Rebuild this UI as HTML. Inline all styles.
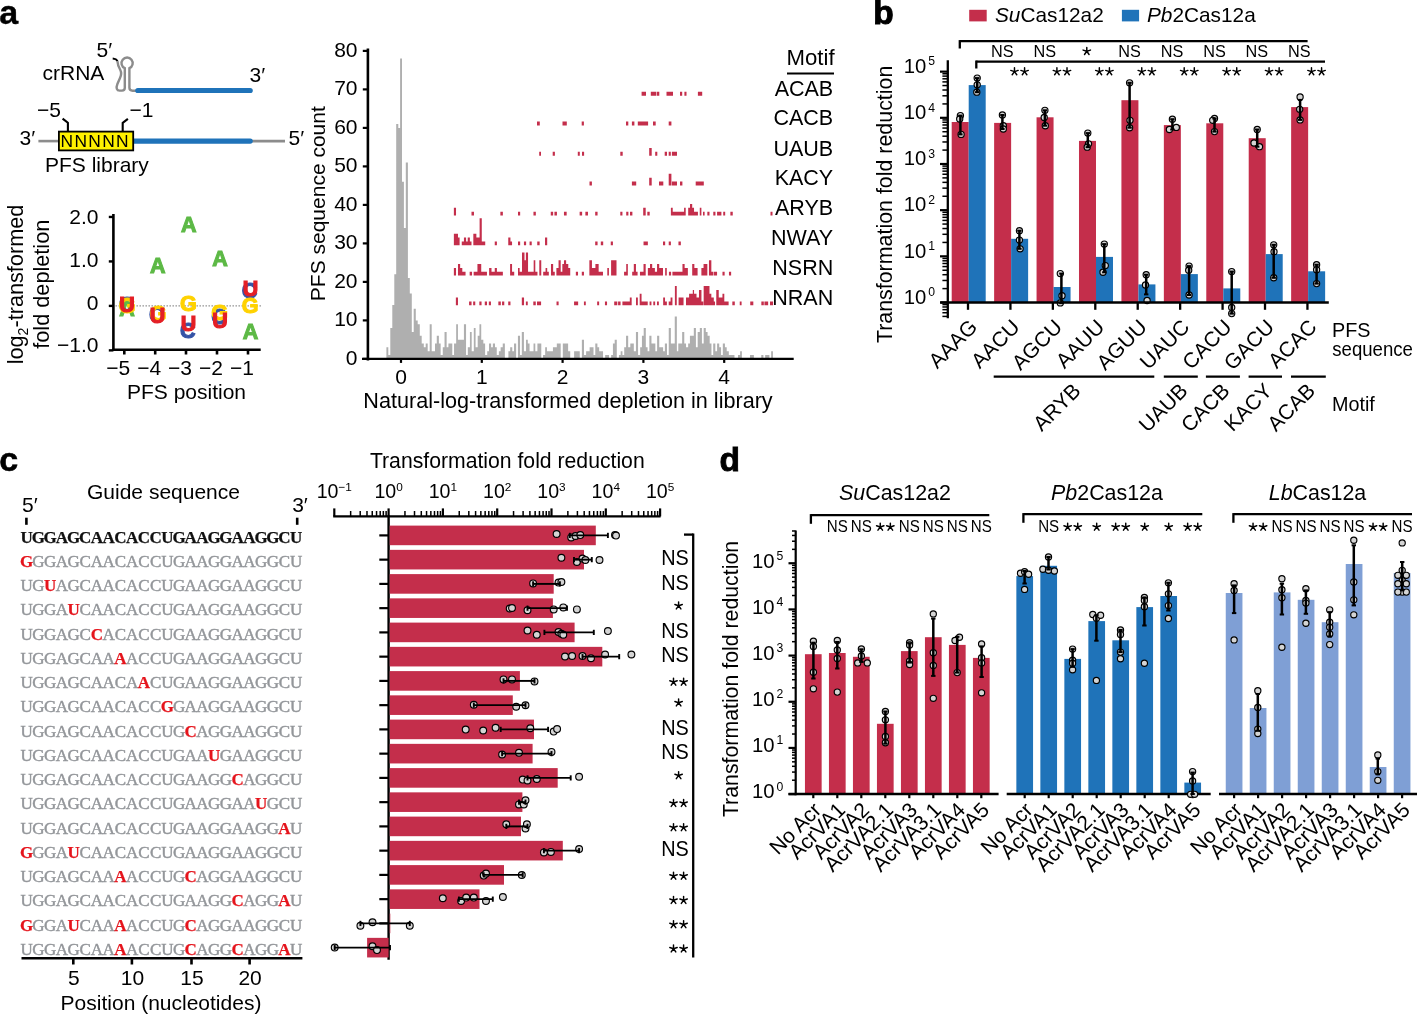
<!DOCTYPE html>
<html><head><meta charset="utf-8"><title>Figure</title>
<style>html,body{margin:0;padding:0;background:#fff;overflow:hidden}svg{display:block;will-change:transform}</style>
</head><body>
<svg width="1417" height="1017" viewBox="0 0 1417 1017">
<rect width="1417" height="1017" fill="#fff"/>
<text x="-0.80" y="24.00" font-size="34" text-anchor="start" font-weight="bold" fill="#000" font-family="Liberation Sans" stroke="#000" stroke-width="0.4">a</text>
<text x="873.20" y="23.70" font-size="33.5" text-anchor="start" font-weight="bold" fill="#000" font-family="Liberation Sans" stroke="#000" stroke-width="0.9">b</text>
<text x="-0.80" y="471.00" font-size="34" text-anchor="start" font-weight="bold" fill="#000" font-family="Liberation Sans" stroke="#000" stroke-width="0.6">c</text>
<text x="719.50" y="471.20" font-size="33.5" text-anchor="start" font-weight="bold" fill="#000" font-family="Liberation Sans" stroke="#000" stroke-width="0.9">d</text>
<text x="96.50" y="56.50" font-size="21" text-anchor="start" font-weight="normal" fill="#000" font-family="Liberation Sans" >5′</text>
<text x="42.50" y="80.20" font-size="21" text-anchor="start" font-weight="normal" fill="#000" font-family="Liberation Sans" >crRNA</text>
<text x="249.50" y="81.80" font-size="21" text-anchor="start" font-weight="normal" fill="#000" font-family="Liberation Sans" >3′</text>
<path d="M112.7,58.6 C115,58.8 116.8,59.6 117.6,60.9" stroke="#000" stroke-width="2" fill="none" />
<path d="M117.4,61 C117.6,64.5 118.8,67.5 120.3,70 C121.6,72.5 121.4,75 120,78 L117.4,84 C115.8,88 116.8,90.6 119.6,90.6 L122,90.6 C123.9,90.6 124.8,89.6 124.8,87.8 L124.8,68.2 A5.6,5.6 0 1 1 129.4,68.2 L129.4,87.8 C129.4,89.6 130.6,90.7 132.6,90.7 L137.8,90.7" stroke="#8c8c8c" stroke-width="2.4" fill="none" />
<line x1="137.80" y1="90.50" x2="250.20" y2="90.50" stroke="#1f73b9" stroke-width="5.2" stroke-linecap="round"/>
<text x="37.00" y="117.40" font-size="21" text-anchor="start" font-weight="normal" fill="#000" font-family="Liberation Sans" >−5</text>
<text x="129.50" y="117.40" font-size="21" text-anchor="start" font-weight="normal" fill="#000" font-family="Liberation Sans" >−1</text>
<path d="M62.6,118.6 L67.9,122.8 L67.9,131" stroke="#000" stroke-width="2.1" fill="none" stroke-linejoin="round"/>
<path d="M127.9,118.9 L122.7,122.8 L122.7,131" stroke="#000" stroke-width="2.1" fill="none" stroke-linejoin="round"/>
<line x1="38.40" y1="141.10" x2="58.30" y2="141.10" stroke="#8c8c8c" stroke-width="2.6" stroke-linecap="butt"/>
<line x1="250.00" y1="141.10" x2="285.00" y2="141.10" stroke="#8c8c8c" stroke-width="2.6" stroke-linecap="butt"/>
<line x1="134.00" y1="141.10" x2="250.20" y2="141.10" stroke="#1f73b9" stroke-width="5.2" stroke-linecap="round"/>
<rect x="58.9" y="131.6" width="74.3" height="18.8" fill="#fff100" stroke="#000" stroke-width="1.8"/>
<text x="60.60" y="147.20" font-size="17.4" text-anchor="start" font-weight="normal" fill="#000" font-family="Liberation Sans" textLength="68.0" lengthAdjust="spacing">NNNNN</text>
<text x="19.50" y="144.50" font-size="21" text-anchor="start" font-weight="normal" fill="#000" font-family="Liberation Sans" >3′</text>
<text x="288.50" y="144.50" font-size="21" text-anchor="start" font-weight="normal" fill="#000" font-family="Liberation Sans" >5′</text>
<text x="45.00" y="171.60" font-size="21" text-anchor="start" font-weight="normal" fill="#000" font-family="Liberation Sans" >PFS library</text>
<line x1="113.40" y1="214.00" x2="113.40" y2="351.00" stroke="#000" stroke-width="2.6" stroke-linecap="butt"/>
<line x1="112.10" y1="349.80" x2="260.70" y2="349.80" stroke="#000" stroke-width="2.6" stroke-linecap="butt"/>
<line x1="108.80" y1="216.96" x2="113.40" y2="216.96" stroke="#000" stroke-width="2.4" stroke-linecap="butt"/>
<text x="98.50" y="224.40" font-size="21" text-anchor="end" font-weight="normal" fill="#000" font-family="Liberation Sans" >2.0</text>
<line x1="108.80" y1="261.43" x2="113.40" y2="261.43" stroke="#000" stroke-width="2.4" stroke-linecap="butt"/>
<text x="98.50" y="266.90" font-size="21" text-anchor="end" font-weight="normal" fill="#000" font-family="Liberation Sans" >1.0</text>
<line x1="108.80" y1="305.90" x2="113.40" y2="305.90" stroke="#000" stroke-width="2.4" stroke-linecap="butt"/>
<text x="98.50" y="309.70" font-size="21" text-anchor="end" font-weight="normal" fill="#000" font-family="Liberation Sans" >0</text>
<line x1="108.80" y1="350.37" x2="113.40" y2="350.37" stroke="#000" stroke-width="2.4" stroke-linecap="butt"/>
<text x="98.50" y="352.10" font-size="21" text-anchor="end" font-weight="normal" fill="#000" font-family="Liberation Sans" >−1.0</text>
<line x1="124.30" y1="349.80" x2="124.30" y2="354.50" stroke="#000" stroke-width="2.6" stroke-linecap="butt"/>
<text x="130.20" y="375.30" font-size="21" text-anchor="end" font-weight="normal" fill="#000" font-family="Liberation Sans" >−5</text>
<line x1="155.20" y1="349.80" x2="155.20" y2="354.50" stroke="#000" stroke-width="2.6" stroke-linecap="butt"/>
<text x="161.10" y="375.30" font-size="21" text-anchor="end" font-weight="normal" fill="#000" font-family="Liberation Sans" >−4</text>
<line x1="186.00" y1="349.80" x2="186.00" y2="354.50" stroke="#000" stroke-width="2.6" stroke-linecap="butt"/>
<text x="191.90" y="375.30" font-size="21" text-anchor="end" font-weight="normal" fill="#000" font-family="Liberation Sans" >−3</text>
<line x1="217.00" y1="349.80" x2="217.00" y2="354.50" stroke="#000" stroke-width="2.6" stroke-linecap="butt"/>
<text x="222.90" y="375.30" font-size="21" text-anchor="end" font-weight="normal" fill="#000" font-family="Liberation Sans" >−2</text>
<line x1="248.00" y1="349.80" x2="248.00" y2="354.50" stroke="#000" stroke-width="2.6" stroke-linecap="butt"/>
<text x="253.90" y="375.30" font-size="21" text-anchor="end" font-weight="normal" fill="#000" font-family="Liberation Sans" >−1</text>
<text x="186.50" y="399.20" font-size="21" text-anchor="middle" font-weight="normal" fill="#000" font-family="Liberation Sans" >PFS position</text>
<text transform="translate(22.6,284.5) rotate(-90)" font-size="21.7" text-anchor="middle" font-family="Liberation Sans">log<tspan font-size="14" dy="5.5">2</tspan><tspan dy="-5.5">-transformed</tspan></text>
<text transform="translate(48.6,284.2) rotate(-90)" font-size="21.7" text-anchor="middle" font-family="Liberation Sans">fold depletion</text>
<line x1="115.5" y1="305.9" x2="261" y2="305.9" stroke="#8a8a8a" stroke-width="1.2" stroke-dasharray="1.4 1.6"/>
<text x="127.00" y="315.50" font-size="21.5" font-weight="bold" text-anchor="middle" fill="#5db946" stroke="#5db946" stroke-width="1.1" font-family="Liberation Sans">A</text>
<text x="126.50" y="311.50" font-size="21.5" font-weight="bold" text-anchor="middle" fill="#3553a6" stroke="#3553a6" stroke-width="1.1" font-family="Liberation Sans">C</text>
<text x="127.00" y="312.50" font-size="21.5" font-weight="bold" text-anchor="middle" fill="#ffd200" stroke="#ffd200" stroke-width="1.1" font-family="Liberation Sans">G</text>
<text x="127.00" y="311.50" font-size="21.5" font-weight="bold" text-anchor="middle" fill="#e41f26" stroke="#e41f26" stroke-width="1.1" font-family="Liberation Sans">U</text>
<text x="157.70" y="273.40" font-size="21.5" font-weight="bold" text-anchor="middle" fill="#5db946" stroke="#5db946" stroke-width="1.1" font-family="Liberation Sans">A</text>
<text x="156.80" y="321.50" font-size="21.5" font-weight="bold" text-anchor="middle" fill="#3553a6" stroke="#3553a6" stroke-width="1.1" font-family="Liberation Sans">C</text>
<text x="158.00" y="321.00" font-size="21.5" font-weight="bold" text-anchor="middle" fill="#ffd200" stroke="#ffd200" stroke-width="1.1" font-family="Liberation Sans">G</text>
<text x="157.60" y="322.90" font-size="21.5" font-weight="bold" text-anchor="middle" fill="#e41f26" stroke="#e41f26" stroke-width="1.1" font-family="Liberation Sans">U</text>
<text x="188.70" y="232.00" font-size="21.5" font-weight="bold" text-anchor="middle" fill="#5db946" stroke="#5db946" stroke-width="1.1" font-family="Liberation Sans">A</text>
<text x="188.40" y="311.40" font-size="21.5" font-weight="bold" text-anchor="middle" fill="#ffd200" stroke="#ffd200" stroke-width="1.1" font-family="Liberation Sans">G</text>
<text x="187.80" y="338.20" font-size="21.5" font-weight="bold" text-anchor="middle" fill="#3553a6" stroke="#3553a6" stroke-width="1.1" font-family="Liberation Sans">C</text>
<text x="188.40" y="330.50" font-size="21.5" font-weight="bold" text-anchor="middle" fill="#e41f26" stroke="#e41f26" stroke-width="1.1" font-family="Liberation Sans">U</text>
<text x="220.00" y="265.70" font-size="21.5" font-weight="bold" text-anchor="middle" fill="#5db946" stroke="#5db946" stroke-width="1.1" font-family="Liberation Sans">A</text>
<text x="218.90" y="324.00" font-size="21.5" font-weight="bold" text-anchor="middle" fill="#3553a6" stroke="#3553a6" stroke-width="1.1" font-family="Liberation Sans">C</text>
<text x="219.60" y="320.20" font-size="21.5" font-weight="bold" text-anchor="middle" fill="#ffd200" stroke="#ffd200" stroke-width="1.1" font-family="Liberation Sans">G</text>
<text x="219.90" y="327.80" font-size="21.5" font-weight="bold" text-anchor="middle" fill="#e41f26" stroke="#e41f26" stroke-width="1.1" font-family="Liberation Sans">U</text>
<text x="249.50" y="298.20" font-size="21.5" font-weight="bold" text-anchor="middle" fill="#3553a6" stroke="#3553a6" stroke-width="1.1" font-family="Liberation Sans">C</text>
<text x="250.60" y="296.00" font-size="21.5" font-weight="bold" text-anchor="middle" fill="#e41f26" stroke="#e41f26" stroke-width="1.1" font-family="Liberation Sans">U</text>
<text x="250.00" y="313.00" font-size="21.5" font-weight="bold" text-anchor="middle" fill="#ffd200" stroke="#ffd200" stroke-width="1.1" font-family="Liberation Sans">G</text>
<text x="250.50" y="338.80" font-size="21.5" font-weight="bold" text-anchor="middle" fill="#5db946" stroke="#5db946" stroke-width="1.1" font-family="Liberation Sans">A</text>
<path d="M386.40,358.90V347.35H388.30V358.90ZM388.30,358.90V355.05H390.30V358.90ZM390.30,358.90V328.10H392.30V358.90ZM392.30,358.90V305.00H394.30V358.90ZM394.30,358.90V274.20H396.20V358.90ZM396.20,358.90V124.05H398.30V358.90ZM398.30,358.90V127.90H400.10V358.90ZM400.10,358.90V58.60H402.00V358.90ZM402.00,358.90V181.80H403.90V358.90ZM403.90,358.90V228.00H405.80V358.90ZM405.80,358.90V162.55H407.90V358.90ZM407.90,358.90V278.05H409.80V358.90ZM409.80,358.90V293.45H411.80V358.90ZM411.80,358.90V331.95H413.70V358.90ZM413.70,358.90V308.85H415.80V358.90ZM415.80,358.90V320.40H417.70V358.90ZM417.70,358.90V324.25H419.80V358.90ZM419.80,358.90V335.80H421.70V358.90ZM421.70,358.90V343.50H423.80V358.90ZM423.80,358.90V347.35H425.70V358.90ZM425.70,358.90V343.50H427.70V358.90ZM427.70,358.90V351.20H429.70V358.90ZM429.70,358.90V324.25H431.70V358.90ZM431.70,358.90V351.20H433.60V358.90ZM433.60,358.90V351.20H435.00V358.90ZM435.00,358.90V343.50H436.76V358.90ZM436.76,358.90V335.80H438.88V358.90ZM438.88,358.90V343.50H440.65V358.90ZM440.65,358.90V355.05H442.76V358.90ZM442.76,358.90V347.35H444.53V358.90ZM444.53,358.90V331.95H446.64V358.90ZM446.64,358.90V347.35H448.41V358.90ZM448.41,358.90V343.50H452.29V358.90ZM452.29,358.90V355.05H454.05V358.90ZM454.05,358.90V343.50H456.17V358.90ZM456.17,358.90V324.25H457.94V358.90ZM457.94,358.90V339.65H463.93V358.90ZM463.93,358.90V324.25H466.05V358.90ZM466.05,358.90V355.05H467.82V358.90ZM467.82,358.90V347.35H469.93V358.90ZM469.93,358.90V331.95H471.70V358.90ZM471.70,358.90V351.20H473.81V358.90ZM473.81,358.90V328.10H475.58V358.90ZM475.58,358.90V347.35H477.70V358.90ZM477.70,358.90V335.80H479.46V358.90ZM479.46,358.90V324.25H481.22V358.90ZM481.22,358.90V339.65H483.34V358.90ZM483.34,358.90V343.50H485.11V358.90ZM485.11,358.90V355.05H487.22V358.90ZM487.22,358.90V351.20H488.99V358.90ZM488.99,358.90V343.50H491.10V358.90ZM491.10,358.90V347.35H492.87V358.90ZM492.87,358.90V343.50H494.99V358.90ZM494.99,358.90V347.35H496.75V358.90ZM496.75,358.90V355.05H498.87V358.90ZM498.87,358.90V351.20H500.63V358.90ZM500.63,358.90V347.35H502.75V358.90ZM502.75,358.90V343.50H504.87V358.90ZM508.39,358.90V351.20H510.16V358.90ZM510.16,358.90V347.35H512.28V358.90ZM512.28,358.90V351.20H514.04V358.90ZM514.04,358.90V343.50H516.16V358.90ZM517.92,358.90V335.80H520.04V358.90ZM520.04,358.90V355.05H521.80V358.90ZM521.80,358.90V331.95H523.92V358.90ZM523.92,358.90V351.20H526.04V358.90ZM526.04,358.90V339.65H527.80V358.90ZM527.80,358.90V343.50H529.57V358.90ZM529.57,358.90V351.20H530.00V358.90ZM530.00,358.90V351.20H533.53V358.90ZM533.53,358.90V343.50H535.29V358.90ZM535.29,358.90V351.20H537.41V358.90ZM537.41,358.90V343.50H541.29V358.90ZM543.06,358.90V355.05H545.17V358.90ZM545.17,358.90V347.35H546.94V358.90ZM546.94,358.90V351.20H552.94V358.90ZM552.94,358.90V347.35H556.82V358.90ZM556.82,358.90V343.50H560.70V358.90ZM562.82,358.90V343.50H568.11V358.90ZM568.11,358.90V351.20H570.23V358.90ZM574.11,358.90V351.20H579.75V358.90ZM581.87,358.90V339.65H583.99V358.90ZM583.99,358.90V355.05H586.10V358.90ZM586.10,358.90V351.20H589.63V358.90ZM589.63,358.90V347.35H593.51V358.90ZM593.51,358.90V355.05H595.28V358.90ZM595.28,358.90V343.50H597.40V358.90ZM597.40,358.90V347.35H599.16V358.90ZM599.16,358.90V351.20H603.04V358.90ZM605.16,358.90V355.05H609.04V358.90ZM611.16,358.90V355.05H612.92V358.90ZM612.92,358.90V343.50H614.69V358.90ZM614.69,358.90V339.65H616.80V358.90ZM618.92,358.90V355.05H620.68V358.90ZM620.68,358.90V351.20H622.45V358.90ZM622.45,358.90V355.05H624.21V358.90ZM624.21,358.90V347.35H625.00V358.90ZM625.00,358.90V347.35H626.06V358.90ZM626.06,358.90V335.80H628.18V358.90ZM628.18,358.90V347.35H630.29V358.90ZM630.29,358.90V343.50H633.82V358.90ZM633.82,358.90V351.20H635.94V358.90ZM635.94,358.90V331.95H638.06V358.90ZM638.06,358.90V355.05H640.17V358.90ZM640.17,358.90V347.35H641.94V358.90ZM641.94,358.90V335.80H643.70V358.90ZM643.70,358.90V328.10H645.82V358.90ZM645.82,358.90V347.35H647.58V358.90ZM647.58,358.90V351.20H649.35V358.90ZM649.35,358.90V335.80H651.46V358.90ZM651.46,358.90V343.50H655.35V358.90ZM655.35,358.90V351.20H657.11V358.90ZM657.11,358.90V335.80H659.23V358.90ZM659.23,358.90V347.35H663.11V358.90ZM663.11,358.90V351.20H664.87V358.90ZM664.87,358.90V343.50H666.99V358.90ZM666.99,358.90V355.05H668.75V358.90ZM668.75,358.90V328.10H670.87V358.90ZM670.87,358.90V343.50H674.75V358.90ZM674.75,358.90V316.55H676.87V358.90ZM676.87,358.90V351.20H678.28V358.90ZM678.28,358.90V343.50H682.16V358.90ZM682.16,358.90V331.95H684.28V358.90ZM684.28,358.90V343.50H686.04V358.90ZM686.04,358.90V347.35H688.16V358.90ZM688.16,358.90V343.50H689.93V358.90ZM689.93,358.90V335.80H693.81V358.90ZM693.81,358.90V328.10H695.92V358.90ZM695.92,358.90V347.35H697.69V358.90ZM697.69,358.90V331.95H699.81V358.90ZM699.81,358.90V328.10H701.92V358.90ZM701.92,358.90V343.50H703.69V358.90ZM703.69,358.90V328.10H705.80V358.90ZM705.80,358.90V331.95H707.57V358.90ZM707.57,358.90V335.80H709.69V358.90ZM709.69,358.90V343.50H711.45V358.90ZM711.45,358.90V355.05H713.21V358.90ZM713.21,358.90V343.50H715.33V358.90ZM715.33,358.90V351.20H717.10V358.90ZM717.10,358.90V343.50H719.21V358.90ZM719.21,358.90V347.35H720.00V358.90ZM720.00,358.90V347.35H721.06V358.90ZM721.06,358.90V355.05H722.82V358.90ZM722.82,358.90V343.50H724.94V358.90ZM724.94,358.90V347.35H726.70V358.90ZM726.70,358.90V351.20H728.82V358.90ZM728.82,358.90V355.05H734.47V358.90ZM738.00,358.90V355.05H740.11V358.90ZM740.11,358.90V351.20H741.88V358.90ZM749.99,358.90V355.05H753.87V358.90ZM761.28,358.90V355.05H763.40V358.90ZM765.17,358.90V355.05H769.40V358.90ZM771.16,358.90V351.20H772.93V358.90Z" fill="#afafaf"/>
<path d="M641.60,95.70V91.85H646.00V95.70ZM650.80,95.70V91.85H656.20V95.70ZM656.80,95.70V91.85H659.30V95.70ZM666.50,95.70V91.85H673.00V95.70ZM680.00,95.70V91.85H682.20V95.70ZM684.40,95.70V91.85H686.50V95.70ZM697.90,95.70V91.85H702.20V95.70ZM537.00,125.40V121.55H539.80V125.40ZM562.50,125.40V121.55H566.80V125.40ZM581.70,125.40V121.55H583.90V125.40ZM626.00,125.40V121.55H628.30V125.40ZM631.90,125.40V121.55H634.40V125.40ZM637.80,125.40V121.55H640.20V125.40ZM640.20,125.40V121.55H648.10V125.40ZM653.00,125.40V121.55H655.70V125.40ZM668.70,125.40V121.55H671.40V125.40ZM539.20,155.70V151.85H541.00V155.70ZM552.70,155.70V151.85H554.90V155.70ZM577.80,155.70V151.85H579.80V155.70ZM582.00,155.70V151.85H584.10V155.70ZM620.30,155.70V151.85H622.70V155.70ZM649.20,155.70V148.00H651.70V155.70ZM655.20,155.70V151.85H657.30V155.70ZM664.70,155.70V151.85H667.00V155.70ZM668.70,155.70V151.85H670.80V155.70ZM671.90,155.70V151.85H677.00V155.70ZM589.50,185.40V181.55H591.90V185.40ZM631.90,185.40V181.55H636.20V185.40ZM649.20,185.40V177.70H651.70V185.40ZM659.00,185.40V181.55H663.30V185.40ZM668.70,185.40V173.85H671.40V185.40ZM671.90,185.40V181.55H677.00V185.40ZM680.00,185.40V181.55H682.40V185.40ZM695.70,185.40V181.55H703.80V185.40ZM453.87,215.50V207.80H456.03V215.50ZM471.50,215.50V211.65H473.98V215.50ZM500.37,215.50V211.65H502.86V215.50ZM518.00,215.50V211.65H520.16V215.50ZM533.46,215.50V211.65H535.84V215.50ZM550.76,215.50V211.65H553.14V215.50ZM554.44,215.50V211.65H556.93V215.50ZM563.96,215.50V211.65H566.66V215.50ZM579.64,215.50V211.65H582.13V215.50ZM585.37,215.50V211.65H587.97V215.50ZM595.19,215.50V211.65H597.57V215.50ZM620.28,215.50V211.65H622.44V215.50ZM626.23,215.50V211.65H628.39V215.50ZM630.01,215.50V211.65H632.39V215.50ZM643.21,215.50V207.80H645.69V215.50ZM647.32,215.50V211.65H649.70V215.50ZM670.89,215.50V207.80H672.73V215.50ZM672.73,215.50V211.65H684.08V215.50ZM684.08,215.50V207.80H685.71V215.50ZM688.19,215.50V207.80H690.03V215.50ZM690.03,215.50V203.95H692.20V215.50ZM692.20,215.50V207.80H694.03V215.50ZM694.03,215.50V211.65H697.93V215.50ZM699.77,215.50V207.80H701.39V215.50ZM703.01,215.50V211.65H704.63V215.50ZM707.34,215.50V211.65H709.50V215.50ZM713.28,215.50V211.65H715.45V215.50ZM717.07,215.50V211.65H721.39V215.50ZM723.23,215.50V211.65H725.18V215.50ZM730.37,215.50V211.65H732.75V215.50ZM770.50,215.50V211.65H772.50V215.50ZM453.87,245.30V233.75H457.98V245.30ZM457.98,245.30V237.60H459.60V245.30ZM461.76,245.30V241.45H463.93V245.30ZM463.93,245.30V237.60H466.09V245.30ZM466.09,245.30V241.45H467.71V245.30ZM467.71,245.30V237.60H469.87V245.30ZM469.87,245.30V241.45H471.50V245.30ZM473.33,245.30V233.75H476.36V245.30ZM476.36,245.30V237.60H479.61V245.30ZM479.61,245.30V218.35H481.77V245.30ZM481.77,245.30V241.45H483.07V245.30ZM483.07,245.30V241.45H485.23V245.30ZM494.75,245.30V241.45H496.91V245.30ZM508.26,245.30V237.60H510.43V245.30ZM510.43,245.30V241.45H512.05V245.30ZM518.00,245.30V241.45H520.16V245.30ZM523.94,245.30V241.45H526.11V245.30ZM529.57,245.30V241.45H531.73V245.30ZM537.25,245.30V241.45H539.63V245.30ZM545.03,245.30V237.60H547.20V245.30ZM595.19,245.30V241.45H597.57V245.30ZM600.81,245.30V241.45H603.19V245.30ZM610.76,245.30V241.45H612.93V245.30ZM643.53,245.30V241.45H647.86V245.30ZM663.00,245.30V241.45H665.16V245.30ZM668.73,245.30V241.45H670.89V245.30ZM678.46,245.30V241.45H680.84V245.30ZM453.87,275.60V267.90H456.03V275.60ZM457.98,275.60V264.05H460.14V275.60ZM460.14,275.60V267.90H462.30V275.60ZM462.30,275.60V271.75H465.55V275.60ZM469.66,275.60V271.75H472.04V275.60ZM473.66,275.60V271.75H477.44V275.60ZM477.44,275.60V264.05H481.23V275.60ZM481.23,275.60V271.75H486.96V275.60ZM489.12,275.60V267.90H491.50V275.60ZM491.50,275.60V271.75H494.75V275.60ZM494.75,275.60V267.90H496.91V275.60ZM496.91,275.60V271.75H502.86V275.60ZM510.10,275.60V264.05H512.05V275.60ZM512.05,275.60V271.75H514.21V275.60ZM518.00,275.60V267.90H519.62V275.60ZM519.62,275.60V271.75H522.00V275.60ZM522.00,275.60V252.50H524.49V275.60ZM524.49,275.60V260.20H525.89V275.60ZM525.89,275.60V252.50H528.05V275.60ZM528.05,275.60V271.75H533.68V275.60ZM533.68,275.60V260.20H535.30V275.60ZM535.30,275.60V271.75H537.46V275.60ZM539.30,275.60V260.20H541.25V275.60ZM543.19,275.60V271.75H545.57V275.60ZM545.57,275.60V267.90H547.20V275.60ZM547.20,275.60V271.75H548.82V275.60ZM550.98,275.60V264.05H553.14V275.60ZM553.14,275.60V271.75H554.77V275.60ZM556.39,275.60V267.90H558.55V275.60ZM558.55,275.60V260.20H560.71V275.60ZM560.71,275.60V271.75H562.34V275.60ZM562.34,275.60V264.05H563.96V275.60ZM563.96,275.60V260.20H566.12V275.60ZM566.12,275.60V264.05H568.28V275.60ZM568.28,275.60V267.90H570.23V275.60ZM575.85,275.60V271.75H578.02V275.60ZM581.80,275.60V271.75H583.96V275.60ZM589.37,275.60V260.20H591.86V275.60ZM590.00,275.60V260.20H591.95V275.60ZM591.95,275.60V267.90H595.41V275.60ZM595.41,275.60V264.05H598.65V275.60ZM598.65,275.60V271.75H602.98V275.60ZM607.30,275.60V267.90H608.93V275.60ZM611.09,275.60V260.20H616.50V275.60ZM624.07,275.60V271.75H626.23V275.60ZM626.23,275.60V264.05H627.85V275.60ZM632.18,275.60V271.75H633.80V275.60ZM633.80,275.60V264.05H635.96V275.60ZM635.96,275.60V271.75H637.58V275.60ZM639.96,275.60V271.75H643.53V275.60ZM643.53,275.60V264.05H645.69V275.60ZM647.86,275.60V267.90H650.02V275.60ZM650.02,275.60V264.05H652.18V275.60ZM652.18,275.60V267.90H654.89V275.60ZM654.89,275.60V271.75H657.05V275.60ZM657.05,275.60V264.05H659.21V275.60ZM659.21,275.60V267.90H663.00V275.60ZM665.16,275.60V267.90H666.78V275.60ZM668.94,275.60V271.75H671.11V275.60ZM672.41,275.60V271.75H682.46V275.60ZM682.46,275.60V264.05H684.63V275.60ZM684.63,275.60V267.90H687.87V275.60ZM692.20,275.60V264.05H694.36V275.60ZM694.36,275.60V267.90H697.60V275.60ZM701.39,275.60V267.90H703.55V275.60ZM703.55,275.60V264.05H707.34V275.60ZM708.96,275.60V260.20H711.34V275.60ZM711.34,275.60V271.75H713.28V275.60ZM713.82,275.60V271.75H717.07V275.60ZM722.48,275.60V271.75H724.64V275.60ZM728.96,275.60V271.75H731.13V275.60ZM455.87,305.30V297.60H457.97V305.30ZM469.08,305.30V301.45H471.55V305.30ZM473.16,305.30V301.45H475.26V305.30ZM479.33,305.30V301.45H481.56V305.30ZM484.77,305.30V301.45H486.99V305.30ZM488.84,305.30V301.45H490.94V305.30ZM498.35,305.30V301.45H500.82V305.30ZM502.06,305.30V301.45H504.28V305.30ZM508.23,305.30V301.45H510.46V305.30ZM521.82,305.30V297.60H524.04V305.30ZM525.89,305.30V301.45H527.75V305.30ZM533.30,305.30V301.45H535.77V305.30ZM537.01,305.30V301.45H541.08V305.30ZM556.52,305.30V301.45H558.62V305.30ZM574.06,305.30V301.45H578.14V305.30ZM583.94,305.30V301.45H585.79V305.30ZM597.16,305.30V301.45H599.13V305.30ZM604.94,305.30V301.45H607.04V305.30ZM614.20,305.30V301.45H617.29V305.30ZM615.00,305.30V301.45H616.85V305.30ZM618.09,305.30V301.45H620.56V305.30ZM622.41,305.30V301.45H629.82V305.30ZM629.82,305.30V297.60H631.67V305.30ZM636.00,305.30V297.60H637.85V305.30ZM639.70,305.30V293.75H641.55V305.30ZM641.55,305.30V301.45H647.73V305.30ZM649.58,305.30V301.45H651.43V305.30ZM653.29,305.30V301.45H655.14V305.30ZM656.99,305.30V301.45H658.84V305.30ZM663.17,305.30V297.60H665.02V305.30ZM665.02,305.30V301.45H666.87V305.30ZM668.72,305.30V301.45H670.58V305.30ZM670.58,305.30V297.60H672.43V305.30ZM674.90,305.30V286.05H676.75V305.30ZM678.60,305.30V297.60H683.54V305.30ZM686.01,305.30V297.60H689.10V305.30ZM689.10,305.30V293.75H692.81V305.30ZM692.81,305.30V289.90H694.04V305.30ZM694.04,305.30V293.75H696.51V305.30ZM696.51,305.30V297.60H698.98V305.30ZM698.98,305.30V289.90H701.45V305.30ZM701.45,305.30V301.45H703.30V305.30ZM703.67,305.30V286.05H709.48V305.30ZM709.48,305.30V293.75H711.33V305.30ZM711.33,305.30V297.60H713.80V305.30ZM713.80,305.30V301.45H715.04V305.30ZM716.27,305.30V289.90H718.74V305.30ZM718.74,305.30V297.60H722.45V305.30ZM722.45,305.30V293.75H724.30V305.30ZM724.30,305.30V301.45H728.62V305.30ZM732.33,305.30V301.45H734.80V305.30ZM739.74,305.30V301.45H741.59V305.30ZM750.24,305.30V301.45H753.32V305.30ZM761.35,305.30V301.45H763.82V305.30ZM764.44,305.30V301.45H768.14V305.30ZM770.00,305.30V301.45H773.08V305.30Z" fill="#c42e4b"/>
<text x="833.20" y="95.50" font-size="21.5" text-anchor="end" font-weight="normal" fill="#000" font-family="Liberation Sans" >ACAB</text>
<text x="833.20" y="125.20" font-size="21.5" text-anchor="end" font-weight="normal" fill="#000" font-family="Liberation Sans" >CACB</text>
<text x="833.20" y="155.50" font-size="21.5" text-anchor="end" font-weight="normal" fill="#000" font-family="Liberation Sans" >UAUB</text>
<text x="833.20" y="185.20" font-size="21.5" text-anchor="end" font-weight="normal" fill="#000" font-family="Liberation Sans" >KACY</text>
<text x="833.20" y="215.30" font-size="21.5" text-anchor="end" font-weight="normal" fill="#000" font-family="Liberation Sans" >ARYB</text>
<text x="833.20" y="245.10" font-size="21.5" text-anchor="end" font-weight="normal" fill="#000" font-family="Liberation Sans" >NWAY</text>
<text x="833.20" y="275.40" font-size="21.5" text-anchor="end" font-weight="normal" fill="#000" font-family="Liberation Sans" >NSRN</text>
<text x="833.20" y="305.10" font-size="21.5" text-anchor="end" font-weight="normal" fill="#000" font-family="Liberation Sans" >NRAN</text>
<text x="834.60" y="65.30" font-size="22.2" text-anchor="end" font-weight="normal" fill="#000" font-family="Liberation Sans" >Motif</text>
<line x1="787.00" y1="73.50" x2="834.00" y2="73.50" stroke="#000" stroke-width="2" stroke-linecap="butt"/>
<line x1="367.90" y1="48.50" x2="367.90" y2="360.50" stroke="#000" stroke-width="2.6" stroke-linecap="butt"/>
<line x1="362.00" y1="358.90" x2="793.70" y2="358.90" stroke="#000" stroke-width="2.3" stroke-linecap="butt"/>
<line x1="362.80" y1="358.90" x2="367.90" y2="358.90" stroke="#000" stroke-width="2.2" stroke-linecap="butt"/>
<text x="357.50" y="364.90" font-size="21" text-anchor="end" font-weight="normal" fill="#000" font-family="Liberation Sans" >0</text>
<line x1="362.80" y1="320.40" x2="367.90" y2="320.40" stroke="#000" stroke-width="2.2" stroke-linecap="butt"/>
<text x="357.50" y="326.40" font-size="21" text-anchor="end" font-weight="normal" fill="#000" font-family="Liberation Sans" >10</text>
<line x1="362.80" y1="281.90" x2="367.90" y2="281.90" stroke="#000" stroke-width="2.2" stroke-linecap="butt"/>
<text x="357.50" y="287.90" font-size="21" text-anchor="end" font-weight="normal" fill="#000" font-family="Liberation Sans" >20</text>
<line x1="362.80" y1="243.40" x2="367.90" y2="243.40" stroke="#000" stroke-width="2.2" stroke-linecap="butt"/>
<text x="357.50" y="249.40" font-size="21" text-anchor="end" font-weight="normal" fill="#000" font-family="Liberation Sans" >30</text>
<line x1="362.80" y1="204.90" x2="367.90" y2="204.90" stroke="#000" stroke-width="2.2" stroke-linecap="butt"/>
<text x="357.50" y="210.90" font-size="21" text-anchor="end" font-weight="normal" fill="#000" font-family="Liberation Sans" >40</text>
<line x1="362.80" y1="166.40" x2="367.90" y2="166.40" stroke="#000" stroke-width="2.2" stroke-linecap="butt"/>
<text x="357.50" y="172.40" font-size="21" text-anchor="end" font-weight="normal" fill="#000" font-family="Liberation Sans" >50</text>
<line x1="362.80" y1="127.90" x2="367.90" y2="127.90" stroke="#000" stroke-width="2.2" stroke-linecap="butt"/>
<text x="357.50" y="133.90" font-size="21" text-anchor="end" font-weight="normal" fill="#000" font-family="Liberation Sans" >60</text>
<line x1="362.80" y1="89.40" x2="367.90" y2="89.40" stroke="#000" stroke-width="2.2" stroke-linecap="butt"/>
<text x="357.50" y="95.40" font-size="21" text-anchor="end" font-weight="normal" fill="#000" font-family="Liberation Sans" >70</text>
<line x1="362.80" y1="50.90" x2="367.90" y2="50.90" stroke="#000" stroke-width="2.2" stroke-linecap="butt"/>
<text x="357.50" y="56.90" font-size="21" text-anchor="end" font-weight="normal" fill="#000" font-family="Liberation Sans" >80</text>
<line x1="401.00" y1="358.90" x2="401.00" y2="362.90" stroke="#000" stroke-width="2.2" stroke-linecap="butt"/>
<text x="401.00" y="384.20" font-size="21" text-anchor="middle" font-weight="normal" fill="#000" font-family="Liberation Sans" >0</text>
<line x1="481.80" y1="358.90" x2="481.80" y2="362.90" stroke="#000" stroke-width="2.2" stroke-linecap="butt"/>
<text x="481.80" y="384.20" font-size="21" text-anchor="middle" font-weight="normal" fill="#000" font-family="Liberation Sans" >1</text>
<line x1="562.60" y1="358.90" x2="562.60" y2="362.90" stroke="#000" stroke-width="2.2" stroke-linecap="butt"/>
<text x="562.60" y="384.20" font-size="21" text-anchor="middle" font-weight="normal" fill="#000" font-family="Liberation Sans" >2</text>
<line x1="643.40" y1="358.90" x2="643.40" y2="362.90" stroke="#000" stroke-width="2.2" stroke-linecap="butt"/>
<text x="643.40" y="384.20" font-size="21" text-anchor="middle" font-weight="normal" fill="#000" font-family="Liberation Sans" >3</text>
<line x1="724.20" y1="358.90" x2="724.20" y2="362.90" stroke="#000" stroke-width="2.2" stroke-linecap="butt"/>
<text x="724.20" y="384.20" font-size="21" text-anchor="middle" font-weight="normal" fill="#000" font-family="Liberation Sans" >4</text>
<text x="568.00" y="408.30" font-size="21.6" text-anchor="middle" font-weight="normal" fill="#000" font-family="Liberation Sans" >Natural-log-transformed depletion in library</text>
<text transform="translate(325.2,203.7) rotate(-90)" font-size="21" text-anchor="middle" font-family="Liberation Sans">PFS sequence count</text>
<rect x="969.20" y="9.80" width="17.50" height="11.60" fill="#c42e4b"/>
<text x="995.00" y="21.90" font-size="20.8" text-anchor="start" font-weight="normal" fill="#000" font-family="Liberation Sans" ><tspan font-style="italic">Su</tspan>Cas12a2</text>
<rect x="1121.90" y="9.80" width="17.20" height="11.60" fill="#1f73b9"/>
<text x="1147.00" y="21.90" font-size="20.8" text-anchor="start" font-weight="normal" fill="#000" font-family="Liberation Sans" ><tspan font-style="italic">Pb</tspan>2Cas12a</text>
<rect x="951.70" y="122.00" width="17.00" height="180.50" fill="#c42e4b"/>
<rect x="968.70" y="85.10" width="17.00" height="217.40" fill="#1f73b9"/>
<rect x="994.13" y="122.90" width="17.00" height="179.60" fill="#c42e4b"/>
<rect x="1011.13" y="238.80" width="17.00" height="63.70" fill="#1f73b9"/>
<rect x="1036.56" y="117.30" width="17.00" height="185.20" fill="#c42e4b"/>
<rect x="1053.56" y="287.00" width="17.00" height="15.50" fill="#1f73b9"/>
<rect x="1078.99" y="140.90" width="17.00" height="161.60" fill="#c42e4b"/>
<rect x="1095.99" y="256.90" width="17.00" height="45.60" fill="#1f73b9"/>
<rect x="1121.42" y="100.20" width="17.00" height="202.30" fill="#c42e4b"/>
<rect x="1138.42" y="284.40" width="17.00" height="18.10" fill="#1f73b9"/>
<rect x="1163.85" y="125.10" width="17.00" height="177.40" fill="#c42e4b"/>
<rect x="1180.85" y="274.10" width="17.00" height="28.40" fill="#1f73b9"/>
<rect x="1206.28" y="123.30" width="17.00" height="179.20" fill="#c42e4b"/>
<rect x="1223.28" y="288.40" width="17.00" height="14.10" fill="#1f73b9"/>
<rect x="1248.71" y="138.20" width="17.00" height="164.30" fill="#c42e4b"/>
<rect x="1265.71" y="254.10" width="17.00" height="48.40" fill="#1f73b9"/>
<rect x="1291.14" y="107.10" width="17.00" height="195.40" fill="#c42e4b"/>
<rect x="1308.14" y="271.30" width="17.00" height="31.20" fill="#1f73b9"/>
<circle cx="960.40" cy="115.60" r="3.1" fill="#d4d4d4" stroke="#000" stroke-width="1.15"/>
<circle cx="959.70" cy="119.00" r="3.1" fill="#d4d4d4" stroke="#000" stroke-width="1.15"/>
<circle cx="961.10" cy="134.40" r="3.1" fill="#d4d4d4" stroke="#000" stroke-width="1.15"/>
<line x1="960.40" y1="115.60" x2="960.40" y2="134.40" stroke="#000" stroke-width="2.5" stroke-linecap="butt"/>
<line x1="958.20" y1="115.60" x2="962.60" y2="115.60" stroke="#000" stroke-width="2.0" stroke-linecap="butt"/>
<line x1="958.20" y1="134.40" x2="962.60" y2="134.40" stroke="#000" stroke-width="2.0" stroke-linecap="butt"/>
<circle cx="977.20" cy="78.10" r="3.1" fill="#d4d4d4" stroke="#000" stroke-width="1.15"/>
<circle cx="977.20" cy="84.80" r="3.1" fill="#d4d4d4" stroke="#000" stroke-width="1.15"/>
<circle cx="976.80" cy="92.20" r="3.1" fill="#d4d4d4" stroke="#000" stroke-width="1.15"/>
<line x1="977.20" y1="78.10" x2="977.20" y2="92.20" stroke="#000" stroke-width="2.5" stroke-linecap="butt"/>
<line x1="975.00" y1="78.10" x2="979.40" y2="78.10" stroke="#000" stroke-width="2.0" stroke-linecap="butt"/>
<line x1="975.00" y1="92.20" x2="979.40" y2="92.20" stroke="#000" stroke-width="2.0" stroke-linecap="butt"/>
<circle cx="1002.40" cy="115.00" r="3.1" fill="#d4d4d4" stroke="#000" stroke-width="1.15"/>
<circle cx="1003.30" cy="125.70" r="3.1" fill="#d4d4d4" stroke="#000" stroke-width="1.15"/>
<circle cx="1003.30" cy="129.00" r="3.1" fill="#d4d4d4" stroke="#000" stroke-width="1.15"/>
<line x1="1002.40" y1="115.00" x2="1002.40" y2="129.00" stroke="#000" stroke-width="2.5" stroke-linecap="butt"/>
<line x1="1000.20" y1="115.00" x2="1004.60" y2="115.00" stroke="#000" stroke-width="2.0" stroke-linecap="butt"/>
<line x1="1000.20" y1="129.00" x2="1004.60" y2="129.00" stroke="#000" stroke-width="2.0" stroke-linecap="butt"/>
<circle cx="1019.40" cy="230.70" r="3.1" fill="#d4d4d4" stroke="#000" stroke-width="1.15"/>
<circle cx="1019.40" cy="240.10" r="3.1" fill="#d4d4d4" stroke="#000" stroke-width="1.15"/>
<circle cx="1020.10" cy="248.80" r="3.1" fill="#d4d4d4" stroke="#000" stroke-width="1.15"/>
<line x1="1019.40" y1="230.70" x2="1019.40" y2="248.80" stroke="#000" stroke-width="2.5" stroke-linecap="butt"/>
<line x1="1017.20" y1="230.70" x2="1021.60" y2="230.70" stroke="#000" stroke-width="2.0" stroke-linecap="butt"/>
<line x1="1017.20" y1="248.80" x2="1021.60" y2="248.80" stroke="#000" stroke-width="2.0" stroke-linecap="butt"/>
<circle cx="1044.90" cy="110.30" r="3.1" fill="#d4d4d4" stroke="#000" stroke-width="1.15"/>
<circle cx="1044.20" cy="117.40" r="3.1" fill="#d4d4d4" stroke="#000" stroke-width="1.15"/>
<circle cx="1045.30" cy="125.70" r="3.1" fill="#d4d4d4" stroke="#000" stroke-width="1.15"/>
<line x1="1044.90" y1="110.30" x2="1044.90" y2="125.70" stroke="#000" stroke-width="2.5" stroke-linecap="butt"/>
<line x1="1042.70" y1="110.30" x2="1047.10" y2="110.30" stroke="#000" stroke-width="2.0" stroke-linecap="butt"/>
<line x1="1042.70" y1="125.70" x2="1047.10" y2="125.70" stroke="#000" stroke-width="2.0" stroke-linecap="butt"/>
<circle cx="1060.30" cy="273.60" r="3.1" fill="#d4d4d4" stroke="#000" stroke-width="1.15"/>
<circle cx="1062.00" cy="295.80" r="3.1" fill="#d4d4d4" stroke="#000" stroke-width="1.15"/>
<circle cx="1060.30" cy="302.90" r="3.1" fill="#d4d4d4" stroke="#000" stroke-width="1.15"/>
<line x1="1061.40" y1="273.60" x2="1061.40" y2="303.10" stroke="#000" stroke-width="2.5" stroke-linecap="butt"/>
<line x1="1059.20" y1="273.60" x2="1063.60" y2="273.60" stroke="#000" stroke-width="2.0" stroke-linecap="butt"/>
<line x1="1059.20" y1="303.10" x2="1063.60" y2="303.10" stroke="#000" stroke-width="2.0" stroke-linecap="butt"/>
<circle cx="1087.80" cy="133.10" r="3.1" fill="#d4d4d4" stroke="#000" stroke-width="1.15"/>
<circle cx="1088.50" cy="143.80" r="3.1" fill="#d4d4d4" stroke="#000" stroke-width="1.15"/>
<circle cx="1087.20" cy="147.20" r="3.1" fill="#d4d4d4" stroke="#000" stroke-width="1.15"/>
<line x1="1087.80" y1="133.10" x2="1087.80" y2="147.20" stroke="#000" stroke-width="2.5" stroke-linecap="butt"/>
<line x1="1085.60" y1="133.10" x2="1090.00" y2="133.10" stroke="#000" stroke-width="2.0" stroke-linecap="butt"/>
<line x1="1085.60" y1="147.20" x2="1090.00" y2="147.20" stroke="#000" stroke-width="2.0" stroke-linecap="butt"/>
<circle cx="1104.30" cy="244.10" r="3.1" fill="#d4d4d4" stroke="#000" stroke-width="1.15"/>
<circle cx="1105.30" cy="265.60" r="3.1" fill="#d4d4d4" stroke="#000" stroke-width="1.15"/>
<circle cx="1103.00" cy="272.30" r="3.1" fill="#d4d4d4" stroke="#000" stroke-width="1.15"/>
<line x1="1104.30" y1="244.10" x2="1104.30" y2="272.30" stroke="#000" stroke-width="2.5" stroke-linecap="butt"/>
<line x1="1102.10" y1="244.10" x2="1106.50" y2="244.10" stroke="#000" stroke-width="2.0" stroke-linecap="butt"/>
<line x1="1102.10" y1="272.30" x2="1106.50" y2="272.30" stroke="#000" stroke-width="2.0" stroke-linecap="butt"/>
<circle cx="1129.60" cy="82.80" r="3.1" fill="#d4d4d4" stroke="#000" stroke-width="1.15"/>
<circle cx="1130.00" cy="120.30" r="3.1" fill="#d4d4d4" stroke="#000" stroke-width="1.15"/>
<circle cx="1129.60" cy="127.70" r="3.1" fill="#d4d4d4" stroke="#000" stroke-width="1.15"/>
<line x1="1129.60" y1="82.80" x2="1129.60" y2="127.70" stroke="#000" stroke-width="2.5" stroke-linecap="butt"/>
<line x1="1127.40" y1="82.80" x2="1131.80" y2="82.80" stroke="#000" stroke-width="2.0" stroke-linecap="butt"/>
<line x1="1127.40" y1="127.70" x2="1131.80" y2="127.70" stroke="#000" stroke-width="2.0" stroke-linecap="butt"/>
<circle cx="1146.20" cy="274.70" r="3.1" fill="#d4d4d4" stroke="#000" stroke-width="1.15"/>
<circle cx="1145.50" cy="285.00" r="3.1" fill="#d4d4d4" stroke="#000" stroke-width="1.15"/>
<circle cx="1147.10" cy="300.50" r="3.1" fill="#d4d4d4" stroke="#000" stroke-width="1.15"/>
<line x1="1146.20" y1="274.70" x2="1146.20" y2="294.40" stroke="#000" stroke-width="2.5" stroke-linecap="butt"/>
<line x1="1144.00" y1="274.70" x2="1148.40" y2="274.70" stroke="#000" stroke-width="2.0" stroke-linecap="butt"/>
<line x1="1144.00" y1="294.40" x2="1148.40" y2="294.40" stroke="#000" stroke-width="2.0" stroke-linecap="butt"/>
<circle cx="1172.40" cy="119.20" r="3.1" fill="#d4d4d4" stroke="#000" stroke-width="1.15"/>
<circle cx="1169.40" cy="129.50" r="3.1" fill="#d4d4d4" stroke="#000" stroke-width="1.15"/>
<circle cx="1176.30" cy="127.40" r="3.1" fill="#d4d4d4" stroke="#000" stroke-width="1.15"/>
<line x1="1172.40" y1="119.20" x2="1172.40" y2="129.50" stroke="#000" stroke-width="2.5" stroke-linecap="butt"/>
<line x1="1170.20" y1="119.20" x2="1174.60" y2="119.20" stroke="#000" stroke-width="2.0" stroke-linecap="butt"/>
<line x1="1170.20" y1="129.50" x2="1174.60" y2="129.50" stroke="#000" stroke-width="2.0" stroke-linecap="butt"/>
<circle cx="1189.10" cy="266.10" r="3.1" fill="#d4d4d4" stroke="#000" stroke-width="1.15"/>
<circle cx="1188.70" cy="270.20" r="3.1" fill="#d4d4d4" stroke="#000" stroke-width="1.15"/>
<circle cx="1189.10" cy="295.00" r="3.1" fill="#d4d4d4" stroke="#000" stroke-width="1.15"/>
<line x1="1189.10" y1="266.10" x2="1189.10" y2="295.00" stroke="#000" stroke-width="2.5" stroke-linecap="butt"/>
<line x1="1186.90" y1="266.10" x2="1191.30" y2="266.10" stroke="#000" stroke-width="2.0" stroke-linecap="butt"/>
<line x1="1186.90" y1="295.00" x2="1191.30" y2="295.00" stroke="#000" stroke-width="2.0" stroke-linecap="butt"/>
<circle cx="1214.50" cy="118.50" r="3.1" fill="#d4d4d4" stroke="#000" stroke-width="1.15"/>
<circle cx="1212.70" cy="120.30" r="3.1" fill="#d4d4d4" stroke="#000" stroke-width="1.15"/>
<circle cx="1214.50" cy="131.60" r="3.1" fill="#d4d4d4" stroke="#000" stroke-width="1.15"/>
<line x1="1214.50" y1="118.50" x2="1214.50" y2="131.60" stroke="#000" stroke-width="2.5" stroke-linecap="butt"/>
<line x1="1212.30" y1="118.50" x2="1216.70" y2="118.50" stroke="#000" stroke-width="2.0" stroke-linecap="butt"/>
<line x1="1212.30" y1="131.60" x2="1216.70" y2="131.60" stroke="#000" stroke-width="2.0" stroke-linecap="butt"/>
<circle cx="1231.70" cy="271.60" r="3.1" fill="#d4d4d4" stroke="#000" stroke-width="1.15"/>
<circle cx="1231.70" cy="307.40" r="3.1" fill="#d4d4d4" stroke="#000" stroke-width="1.15"/>
<circle cx="1231.70" cy="313.60" r="3.1" fill="#d4d4d4" stroke="#000" stroke-width="1.15"/>
<line x1="1231.70" y1="271.60" x2="1231.70" y2="313.60" stroke="#000" stroke-width="2.5" stroke-linecap="butt"/>
<line x1="1229.50" y1="271.60" x2="1233.90" y2="271.60" stroke="#000" stroke-width="2.0" stroke-linecap="butt"/>
<line x1="1229.50" y1="313.60" x2="1233.90" y2="313.60" stroke="#000" stroke-width="2.0" stroke-linecap="butt"/>
<circle cx="1257.20" cy="129.50" r="3.1" fill="#d4d4d4" stroke="#000" stroke-width="1.15"/>
<circle cx="1254.00" cy="143.00" r="3.1" fill="#d4d4d4" stroke="#000" stroke-width="1.15"/>
<circle cx="1259.50" cy="146.70" r="3.1" fill="#d4d4d4" stroke="#000" stroke-width="1.15"/>
<line x1="1257.20" y1="129.50" x2="1257.20" y2="146.70" stroke="#000" stroke-width="2.5" stroke-linecap="butt"/>
<line x1="1255.00" y1="129.50" x2="1259.40" y2="129.50" stroke="#000" stroke-width="2.0" stroke-linecap="butt"/>
<line x1="1255.00" y1="146.70" x2="1259.40" y2="146.70" stroke="#000" stroke-width="2.0" stroke-linecap="butt"/>
<circle cx="1273.70" cy="244.80" r="3.1" fill="#d4d4d4" stroke="#000" stroke-width="1.15"/>
<circle cx="1274.00" cy="251.70" r="3.1" fill="#d4d4d4" stroke="#000" stroke-width="1.15"/>
<circle cx="1273.70" cy="277.80" r="3.1" fill="#d4d4d4" stroke="#000" stroke-width="1.15"/>
<line x1="1273.70" y1="244.80" x2="1273.70" y2="277.80" stroke="#000" stroke-width="2.5" stroke-linecap="butt"/>
<line x1="1271.50" y1="244.80" x2="1275.90" y2="244.80" stroke="#000" stroke-width="2.0" stroke-linecap="butt"/>
<line x1="1271.50" y1="277.80" x2="1275.90" y2="277.80" stroke="#000" stroke-width="2.0" stroke-linecap="butt"/>
<circle cx="1300.10" cy="96.90" r="3.1" fill="#d4d4d4" stroke="#000" stroke-width="1.15"/>
<circle cx="1299.70" cy="109.30" r="3.1" fill="#d4d4d4" stroke="#000" stroke-width="1.15"/>
<circle cx="1300.10" cy="119.90" r="3.1" fill="#d4d4d4" stroke="#000" stroke-width="1.15"/>
<line x1="1300.10" y1="99.90" x2="1300.10" y2="119.90" stroke="#000" stroke-width="2.5" stroke-linecap="butt"/>
<line x1="1297.90" y1="99.90" x2="1302.30" y2="99.90" stroke="#000" stroke-width="2.0" stroke-linecap="butt"/>
<line x1="1297.90" y1="119.90" x2="1302.30" y2="119.90" stroke="#000" stroke-width="2.0" stroke-linecap="butt"/>
<circle cx="1316.60" cy="264.70" r="3.1" fill="#d4d4d4" stroke="#000" stroke-width="1.15"/>
<circle cx="1316.60" cy="269.80" r="3.1" fill="#d4d4d4" stroke="#000" stroke-width="1.15"/>
<circle cx="1316.60" cy="283.60" r="3.1" fill="#d4d4d4" stroke="#000" stroke-width="1.15"/>
<line x1="1316.60" y1="264.70" x2="1316.60" y2="283.60" stroke="#000" stroke-width="2.5" stroke-linecap="butt"/>
<line x1="1314.40" y1="264.70" x2="1318.80" y2="264.70" stroke="#000" stroke-width="2.0" stroke-linecap="butt"/>
<line x1="1314.40" y1="283.60" x2="1318.80" y2="283.60" stroke="#000" stroke-width="2.0" stroke-linecap="butt"/>
<line x1="947.80" y1="60.20" x2="947.80" y2="318.20" stroke="#000" stroke-width="2.3" stroke-linecap="butt"/>
<line x1="940.30" y1="302.50" x2="1328.80" y2="302.50" stroke="#000" stroke-width="2.5" stroke-linecap="butt"/>
<line x1="940.00" y1="302.50" x2="947.80" y2="302.50" stroke="#000" stroke-width="2.2" stroke-linecap="butt"/>
<text x="926.20" y="303.80" font-size="20.3" text-anchor="end" font-weight="normal" fill="#000" font-family="Liberation Sans" >10</text>
<text x="928.20" y="296.20" font-size="12.2" text-anchor="start" font-weight="normal" fill="#000" font-family="Liberation Sans" >0</text>
<line x1="940.00" y1="256.33" x2="947.80" y2="256.33" stroke="#000" stroke-width="2.2" stroke-linecap="butt"/>
<text x="926.20" y="257.63" font-size="20.3" text-anchor="end" font-weight="normal" fill="#000" font-family="Liberation Sans" >10</text>
<text x="928.20" y="250.03" font-size="12.2" text-anchor="start" font-weight="normal" fill="#000" font-family="Liberation Sans" >1</text>
<line x1="940.00" y1="210.16" x2="947.80" y2="210.16" stroke="#000" stroke-width="2.2" stroke-linecap="butt"/>
<text x="926.20" y="211.46" font-size="20.3" text-anchor="end" font-weight="normal" fill="#000" font-family="Liberation Sans" >10</text>
<text x="928.20" y="203.86" font-size="12.2" text-anchor="start" font-weight="normal" fill="#000" font-family="Liberation Sans" >2</text>
<line x1="940.00" y1="163.99" x2="947.80" y2="163.99" stroke="#000" stroke-width="2.2" stroke-linecap="butt"/>
<text x="926.20" y="165.29" font-size="20.3" text-anchor="end" font-weight="normal" fill="#000" font-family="Liberation Sans" >10</text>
<text x="928.20" y="157.69" font-size="12.2" text-anchor="start" font-weight="normal" fill="#000" font-family="Liberation Sans" >3</text>
<line x1="940.00" y1="117.82" x2="947.80" y2="117.82" stroke="#000" stroke-width="2.2" stroke-linecap="butt"/>
<text x="926.20" y="119.12" font-size="20.3" text-anchor="end" font-weight="normal" fill="#000" font-family="Liberation Sans" >10</text>
<text x="928.20" y="111.52" font-size="12.2" text-anchor="start" font-weight="normal" fill="#000" font-family="Liberation Sans" >4</text>
<line x1="940.00" y1="71.65" x2="947.80" y2="71.65" stroke="#000" stroke-width="2.2" stroke-linecap="butt"/>
<text x="926.20" y="72.95" font-size="20.3" text-anchor="end" font-weight="normal" fill="#000" font-family="Liberation Sans" >10</text>
<text x="928.20" y="65.35" font-size="12.2" text-anchor="start" font-weight="normal" fill="#000" font-family="Liberation Sans" >5</text>
<line x1="942.40" y1="316.40" x2="947.80" y2="316.40" stroke="#000" stroke-width="1.5" stroke-linecap="butt"/>
<line x1="942.40" y1="312.74" x2="947.80" y2="312.74" stroke="#000" stroke-width="1.5" stroke-linecap="butt"/>
<line x1="942.40" y1="309.65" x2="947.80" y2="309.65" stroke="#000" stroke-width="1.5" stroke-linecap="butt"/>
<line x1="942.40" y1="306.97" x2="947.80" y2="306.97" stroke="#000" stroke-width="1.5" stroke-linecap="butt"/>
<line x1="942.40" y1="304.61" x2="947.80" y2="304.61" stroke="#000" stroke-width="1.5" stroke-linecap="butt"/>
<line x1="942.40" y1="288.60" x2="947.80" y2="288.60" stroke="#000" stroke-width="1.5" stroke-linecap="butt"/>
<line x1="942.40" y1="280.47" x2="947.80" y2="280.47" stroke="#000" stroke-width="1.5" stroke-linecap="butt"/>
<line x1="942.40" y1="274.70" x2="947.80" y2="274.70" stroke="#000" stroke-width="1.5" stroke-linecap="butt"/>
<line x1="942.40" y1="270.23" x2="947.80" y2="270.23" stroke="#000" stroke-width="1.5" stroke-linecap="butt"/>
<line x1="942.40" y1="266.57" x2="947.80" y2="266.57" stroke="#000" stroke-width="1.5" stroke-linecap="butt"/>
<line x1="942.40" y1="263.48" x2="947.80" y2="263.48" stroke="#000" stroke-width="1.5" stroke-linecap="butt"/>
<line x1="942.40" y1="260.80" x2="947.80" y2="260.80" stroke="#000" stroke-width="1.5" stroke-linecap="butt"/>
<line x1="942.40" y1="258.44" x2="947.80" y2="258.44" stroke="#000" stroke-width="1.5" stroke-linecap="butt"/>
<line x1="942.40" y1="242.43" x2="947.80" y2="242.43" stroke="#000" stroke-width="1.5" stroke-linecap="butt"/>
<line x1="942.40" y1="234.30" x2="947.80" y2="234.30" stroke="#000" stroke-width="1.5" stroke-linecap="butt"/>
<line x1="942.40" y1="228.53" x2="947.80" y2="228.53" stroke="#000" stroke-width="1.5" stroke-linecap="butt"/>
<line x1="942.40" y1="224.06" x2="947.80" y2="224.06" stroke="#000" stroke-width="1.5" stroke-linecap="butt"/>
<line x1="942.40" y1="220.40" x2="947.80" y2="220.40" stroke="#000" stroke-width="1.5" stroke-linecap="butt"/>
<line x1="942.40" y1="217.31" x2="947.80" y2="217.31" stroke="#000" stroke-width="1.5" stroke-linecap="butt"/>
<line x1="942.40" y1="214.63" x2="947.80" y2="214.63" stroke="#000" stroke-width="1.5" stroke-linecap="butt"/>
<line x1="942.40" y1="212.27" x2="947.80" y2="212.27" stroke="#000" stroke-width="1.5" stroke-linecap="butt"/>
<line x1="942.40" y1="196.26" x2="947.80" y2="196.26" stroke="#000" stroke-width="1.5" stroke-linecap="butt"/>
<line x1="942.40" y1="188.13" x2="947.80" y2="188.13" stroke="#000" stroke-width="1.5" stroke-linecap="butt"/>
<line x1="942.40" y1="182.36" x2="947.80" y2="182.36" stroke="#000" stroke-width="1.5" stroke-linecap="butt"/>
<line x1="942.40" y1="177.89" x2="947.80" y2="177.89" stroke="#000" stroke-width="1.5" stroke-linecap="butt"/>
<line x1="942.40" y1="174.23" x2="947.80" y2="174.23" stroke="#000" stroke-width="1.5" stroke-linecap="butt"/>
<line x1="942.40" y1="171.14" x2="947.80" y2="171.14" stroke="#000" stroke-width="1.5" stroke-linecap="butt"/>
<line x1="942.40" y1="168.46" x2="947.80" y2="168.46" stroke="#000" stroke-width="1.5" stroke-linecap="butt"/>
<line x1="942.40" y1="166.10" x2="947.80" y2="166.10" stroke="#000" stroke-width="1.5" stroke-linecap="butt"/>
<line x1="942.40" y1="150.09" x2="947.80" y2="150.09" stroke="#000" stroke-width="1.5" stroke-linecap="butt"/>
<line x1="942.40" y1="141.96" x2="947.80" y2="141.96" stroke="#000" stroke-width="1.5" stroke-linecap="butt"/>
<line x1="942.40" y1="136.19" x2="947.80" y2="136.19" stroke="#000" stroke-width="1.5" stroke-linecap="butt"/>
<line x1="942.40" y1="131.72" x2="947.80" y2="131.72" stroke="#000" stroke-width="1.5" stroke-linecap="butt"/>
<line x1="942.40" y1="128.06" x2="947.80" y2="128.06" stroke="#000" stroke-width="1.5" stroke-linecap="butt"/>
<line x1="942.40" y1="124.97" x2="947.80" y2="124.97" stroke="#000" stroke-width="1.5" stroke-linecap="butt"/>
<line x1="942.40" y1="122.29" x2="947.80" y2="122.29" stroke="#000" stroke-width="1.5" stroke-linecap="butt"/>
<line x1="942.40" y1="119.93" x2="947.80" y2="119.93" stroke="#000" stroke-width="1.5" stroke-linecap="butt"/>
<line x1="942.40" y1="103.92" x2="947.80" y2="103.92" stroke="#000" stroke-width="1.5" stroke-linecap="butt"/>
<line x1="942.40" y1="95.79" x2="947.80" y2="95.79" stroke="#000" stroke-width="1.5" stroke-linecap="butt"/>
<line x1="942.40" y1="90.02" x2="947.80" y2="90.02" stroke="#000" stroke-width="1.5" stroke-linecap="butt"/>
<line x1="942.40" y1="85.55" x2="947.80" y2="85.55" stroke="#000" stroke-width="1.5" stroke-linecap="butt"/>
<line x1="942.40" y1="81.89" x2="947.80" y2="81.89" stroke="#000" stroke-width="1.5" stroke-linecap="butt"/>
<line x1="942.40" y1="78.80" x2="947.80" y2="78.80" stroke="#000" stroke-width="1.5" stroke-linecap="butt"/>
<line x1="942.40" y1="76.12" x2="947.80" y2="76.12" stroke="#000" stroke-width="1.5" stroke-linecap="butt"/>
<line x1="942.40" y1="73.76" x2="947.80" y2="73.76" stroke="#000" stroke-width="1.5" stroke-linecap="butt"/>
<line x1="968.00" y1="302.50" x2="968.00" y2="309.80" stroke="#000" stroke-width="2.3" stroke-linecap="butt"/>
<line x1="1010.43" y1="302.50" x2="1010.43" y2="309.80" stroke="#000" stroke-width="2.3" stroke-linecap="butt"/>
<line x1="1052.86" y1="302.50" x2="1052.86" y2="309.80" stroke="#000" stroke-width="2.3" stroke-linecap="butt"/>
<line x1="1095.29" y1="302.50" x2="1095.29" y2="309.80" stroke="#000" stroke-width="2.3" stroke-linecap="butt"/>
<line x1="1137.72" y1="302.50" x2="1137.72" y2="309.80" stroke="#000" stroke-width="2.3" stroke-linecap="butt"/>
<line x1="1180.15" y1="302.50" x2="1180.15" y2="309.80" stroke="#000" stroke-width="2.3" stroke-linecap="butt"/>
<line x1="1222.58" y1="302.50" x2="1222.58" y2="309.80" stroke="#000" stroke-width="2.3" stroke-linecap="butt"/>
<line x1="1265.01" y1="302.50" x2="1265.01" y2="309.80" stroke="#000" stroke-width="2.3" stroke-linecap="butt"/>
<line x1="1307.44" y1="302.50" x2="1307.44" y2="309.80" stroke="#000" stroke-width="2.3" stroke-linecap="butt"/>
<text transform="translate(978.50,328.3) rotate(-45)" font-size="21" text-anchor="end" font-family="Liberation Sans">AAAG</text>
<text transform="translate(1020.93,328.3) rotate(-45)" font-size="21" text-anchor="end" font-family="Liberation Sans">AACU</text>
<text transform="translate(1063.36,328.3) rotate(-45)" font-size="21" text-anchor="end" font-family="Liberation Sans">AGCU</text>
<text transform="translate(1105.79,328.3) rotate(-45)" font-size="21" text-anchor="end" font-family="Liberation Sans">AAUU</text>
<text transform="translate(1148.22,328.3) rotate(-45)" font-size="21" text-anchor="end" font-family="Liberation Sans">AGUU</text>
<text transform="translate(1190.65,328.3) rotate(-45)" font-size="21" text-anchor="end" font-family="Liberation Sans">UAUC</text>
<text transform="translate(1233.08,328.3) rotate(-45)" font-size="21" text-anchor="end" font-family="Liberation Sans">CACU</text>
<text transform="translate(1275.51,328.3) rotate(-45)" font-size="21" text-anchor="end" font-family="Liberation Sans">GACU</text>
<text transform="translate(1317.94,328.3) rotate(-45)" font-size="21" text-anchor="end" font-family="Liberation Sans">ACAC</text>
<text x="1332.00" y="336.80" font-size="19.8" text-anchor="start" font-weight="normal" fill="#000" font-family="Liberation Sans" >PFS</text>
<text x="1332.30" y="356.30" font-size="19.8" text-anchor="start" font-weight="normal" fill="#000" font-family="Liberation Sans" textLength="80.6" lengthAdjust="spacingAndGlyphs">sequence</text>
<text x="1332.00" y="410.60" font-size="19.8" text-anchor="start" font-weight="normal" fill="#000" font-family="Liberation Sans" >Motif</text>
<line x1="993.70" y1="376.70" x2="1154.30" y2="376.70" stroke="#000" stroke-width="2.2" stroke-linecap="butt"/>
<line x1="1163.80" y1="376.70" x2="1197.80" y2="376.70" stroke="#000" stroke-width="2.2" stroke-linecap="butt"/>
<line x1="1205.90" y1="376.70" x2="1239.90" y2="376.70" stroke="#000" stroke-width="2.2" stroke-linecap="butt"/>
<line x1="1248.60" y1="376.70" x2="1282.00" y2="376.70" stroke="#000" stroke-width="2.2" stroke-linecap="butt"/>
<line x1="1291.00" y1="376.70" x2="1325.80" y2="376.70" stroke="#000" stroke-width="2.2" stroke-linecap="butt"/>
<text transform="translate(1082.00,392) rotate(-45)" font-size="21" text-anchor="end" font-family="Liberation Sans">ARYB</text>
<text transform="translate(1188.80,392) rotate(-45)" font-size="21" text-anchor="end" font-family="Liberation Sans">UAUB</text>
<text transform="translate(1230.90,392) rotate(-45)" font-size="21" text-anchor="end" font-family="Liberation Sans">CACB</text>
<text transform="translate(1273.30,392) rotate(-45)" font-size="21" text-anchor="end" font-family="Liberation Sans">KACY</text>
<text transform="translate(1316.40,392) rotate(-45)" font-size="21" text-anchor="end" font-family="Liberation Sans">ACAB</text>
<text transform="translate(891.8,204.4) rotate(-90)" font-size="21.4" text-anchor="middle" font-family="Liberation Sans">Transformation fold reduction</text>
<line x1="959.80" y1="41.20" x2="1307.60" y2="41.20" stroke="#000" stroke-width="2.3" stroke-linecap="butt"/>
<line x1="959.80" y1="40.10" x2="959.80" y2="48.50" stroke="#000" stroke-width="2.3" stroke-linecap="butt"/>
<line x1="976.30" y1="61.60" x2="1325.00" y2="61.60" stroke="#000" stroke-width="2.3" stroke-linecap="butt"/>
<line x1="976.30" y1="60.50" x2="976.30" y2="68.50" stroke="#000" stroke-width="2.3" stroke-linecap="butt"/>
<text x="1002.33" y="57.10" font-size="17.4" text-anchor="middle" font-weight="normal" fill="#000" font-family="Liberation Sans" textLength="22.6" lengthAdjust="spacingAndGlyphs">NS</text>
<path d="M1014.48,71.60L1014.48,67.70M1014.48,71.60L1018.19,70.39M1014.48,71.60L1016.77,74.76M1014.48,71.60L1012.19,74.76M1014.48,71.60L1010.77,70.39" stroke="#000" stroke-width="1.45" stroke-linecap="round" fill="none"/>
<path d="M1024.58,71.60L1024.58,67.70M1024.58,71.60L1028.29,70.39M1024.58,71.60L1026.87,74.76M1024.58,71.60L1022.29,74.76M1024.58,71.60L1020.87,70.39" stroke="#000" stroke-width="1.45" stroke-linecap="round" fill="none"/>
<text x="1044.76" y="57.10" font-size="17.4" text-anchor="middle" font-weight="normal" fill="#000" font-family="Liberation Sans" textLength="22.6" lengthAdjust="spacingAndGlyphs">NS</text>
<path d="M1056.91,71.60L1056.91,67.70M1056.91,71.60L1060.62,70.39M1056.91,71.60L1059.20,74.76M1056.91,71.60L1054.62,74.76M1056.91,71.60L1053.20,70.39" stroke="#000" stroke-width="1.45" stroke-linecap="round" fill="none"/>
<path d="M1067.01,71.60L1067.01,67.70M1067.01,71.60L1070.72,70.39M1067.01,71.60L1069.30,74.76M1067.01,71.60L1064.72,74.76M1067.01,71.60L1063.30,70.39" stroke="#000" stroke-width="1.45" stroke-linecap="round" fill="none"/>
<path d="M1086.79,51.30L1086.79,47.40M1086.79,51.30L1090.50,50.09M1086.79,51.30L1089.08,54.46M1086.79,51.30L1084.50,54.46M1086.79,51.30L1083.08,50.09" stroke="#000" stroke-width="1.45" stroke-linecap="round" fill="none"/>
<path d="M1099.34,71.60L1099.34,67.70M1099.34,71.60L1103.05,70.39M1099.34,71.60L1101.63,74.76M1099.34,71.60L1097.05,74.76M1099.34,71.60L1095.63,70.39" stroke="#000" stroke-width="1.45" stroke-linecap="round" fill="none"/>
<path d="M1109.44,71.60L1109.44,67.70M1109.44,71.60L1113.15,70.39M1109.44,71.60L1111.73,74.76M1109.44,71.60L1107.15,74.76M1109.44,71.60L1105.73,70.39" stroke="#000" stroke-width="1.45" stroke-linecap="round" fill="none"/>
<text x="1129.62" y="57.10" font-size="17.4" text-anchor="middle" font-weight="normal" fill="#000" font-family="Liberation Sans" textLength="22.6" lengthAdjust="spacingAndGlyphs">NS</text>
<path d="M1141.77,71.60L1141.77,67.70M1141.77,71.60L1145.48,70.39M1141.77,71.60L1144.06,74.76M1141.77,71.60L1139.48,74.76M1141.77,71.60L1138.06,70.39" stroke="#000" stroke-width="1.45" stroke-linecap="round" fill="none"/>
<path d="M1151.87,71.60L1151.87,67.70M1151.87,71.60L1155.58,70.39M1151.87,71.60L1154.16,74.76M1151.87,71.60L1149.58,74.76M1151.87,71.60L1148.16,70.39" stroke="#000" stroke-width="1.45" stroke-linecap="round" fill="none"/>
<text x="1172.05" y="57.10" font-size="17.4" text-anchor="middle" font-weight="normal" fill="#000" font-family="Liberation Sans" textLength="22.6" lengthAdjust="spacingAndGlyphs">NS</text>
<path d="M1184.20,71.60L1184.20,67.70M1184.20,71.60L1187.91,70.39M1184.20,71.60L1186.49,74.76M1184.20,71.60L1181.91,74.76M1184.20,71.60L1180.49,70.39" stroke="#000" stroke-width="1.45" stroke-linecap="round" fill="none"/>
<path d="M1194.30,71.60L1194.30,67.70M1194.30,71.60L1198.01,70.39M1194.30,71.60L1196.59,74.76M1194.30,71.60L1192.01,74.76M1194.30,71.60L1190.59,70.39" stroke="#000" stroke-width="1.45" stroke-linecap="round" fill="none"/>
<text x="1214.48" y="57.10" font-size="17.4" text-anchor="middle" font-weight="normal" fill="#000" font-family="Liberation Sans" textLength="22.6" lengthAdjust="spacingAndGlyphs">NS</text>
<path d="M1226.63,71.60L1226.63,67.70M1226.63,71.60L1230.34,70.39M1226.63,71.60L1228.92,74.76M1226.63,71.60L1224.34,74.76M1226.63,71.60L1222.92,70.39" stroke="#000" stroke-width="1.45" stroke-linecap="round" fill="none"/>
<path d="M1236.73,71.60L1236.73,67.70M1236.73,71.60L1240.44,70.39M1236.73,71.60L1239.02,74.76M1236.73,71.60L1234.44,74.76M1236.73,71.60L1233.02,70.39" stroke="#000" stroke-width="1.45" stroke-linecap="round" fill="none"/>
<text x="1256.91" y="57.10" font-size="17.4" text-anchor="middle" font-weight="normal" fill="#000" font-family="Liberation Sans" textLength="22.6" lengthAdjust="spacingAndGlyphs">NS</text>
<path d="M1269.06,71.60L1269.06,67.70M1269.06,71.60L1272.77,70.39M1269.06,71.60L1271.35,74.76M1269.06,71.60L1266.77,74.76M1269.06,71.60L1265.35,70.39" stroke="#000" stroke-width="1.45" stroke-linecap="round" fill="none"/>
<path d="M1279.16,71.60L1279.16,67.70M1279.16,71.60L1282.87,70.39M1279.16,71.60L1281.45,74.76M1279.16,71.60L1276.87,74.76M1279.16,71.60L1275.45,70.39" stroke="#000" stroke-width="1.45" stroke-linecap="round" fill="none"/>
<text x="1299.34" y="57.10" font-size="17.4" text-anchor="middle" font-weight="normal" fill="#000" font-family="Liberation Sans" textLength="22.6" lengthAdjust="spacingAndGlyphs">NS</text>
<path d="M1311.49,71.60L1311.49,67.70M1311.49,71.60L1315.20,70.39M1311.49,71.60L1313.78,74.76M1311.49,71.60L1309.20,74.76M1311.49,71.60L1307.78,70.39" stroke="#000" stroke-width="1.45" stroke-linecap="round" fill="none"/>
<path d="M1321.59,71.60L1321.59,67.70M1321.59,71.60L1325.30,70.39M1321.59,71.60L1323.88,74.76M1321.59,71.60L1319.30,74.76M1321.59,71.60L1317.88,70.39" stroke="#000" stroke-width="1.45" stroke-linecap="round" fill="none"/>
<text x="507.30" y="468.20" font-size="21.2" text-anchor="middle" font-weight="normal" fill="#000" font-family="Liberation Sans" >Transformation fold reduction</text>
<text x="163.50" y="499.00" font-size="21" text-anchor="middle" font-weight="normal" fill="#000" font-family="Liberation Sans" >Guide sequence</text>
<text x="22.00" y="512.00" font-size="21" text-anchor="start" font-weight="normal" fill="#000" font-family="Liberation Sans" >5′</text>
<text x="292.20" y="512.00" font-size="21" text-anchor="start" font-weight="normal" fill="#000" font-family="Liberation Sans" >3′</text>
<line x1="26.40" y1="517.70" x2="26.40" y2="524.80" stroke="#000" stroke-width="2.6" stroke-linecap="butt"/>
<line x1="297.20" y1="517.70" x2="297.20" y2="524.80" stroke="#000" stroke-width="2.6" stroke-linecap="butt"/>
<line x1="333.20" y1="516.40" x2="660.60" y2="516.40" stroke="#000" stroke-width="2.4" stroke-linecap="butt"/>
<line x1="334.30" y1="508.40" x2="334.30" y2="516.40" stroke="#000" stroke-width="2.2" stroke-linecap="butt"/>
<text x="334.30" y="498.4" font-size="19.6" text-anchor="middle" font-family="Liberation Sans">10<tspan font-size="11.8" dy="-7.2">−1</tspan></text>
<line x1="388.60" y1="508.40" x2="388.60" y2="516.40" stroke="#000" stroke-width="2.2" stroke-linecap="butt"/>
<text x="388.60" y="498.4" font-size="19.6" text-anchor="middle" font-family="Liberation Sans">10<tspan font-size="11.8" dy="-7.2">0</tspan></text>
<line x1="442.90" y1="508.40" x2="442.90" y2="516.40" stroke="#000" stroke-width="2.2" stroke-linecap="butt"/>
<text x="442.90" y="498.4" font-size="19.6" text-anchor="middle" font-family="Liberation Sans">10<tspan font-size="11.8" dy="-7.2">1</tspan></text>
<line x1="497.20" y1="508.40" x2="497.20" y2="516.40" stroke="#000" stroke-width="2.2" stroke-linecap="butt"/>
<text x="497.20" y="498.4" font-size="19.6" text-anchor="middle" font-family="Liberation Sans">10<tspan font-size="11.8" dy="-7.2">2</tspan></text>
<line x1="551.50" y1="508.40" x2="551.50" y2="516.40" stroke="#000" stroke-width="2.2" stroke-linecap="butt"/>
<text x="551.50" y="498.4" font-size="19.6" text-anchor="middle" font-family="Liberation Sans">10<tspan font-size="11.8" dy="-7.2">3</tspan></text>
<line x1="605.80" y1="508.40" x2="605.80" y2="516.40" stroke="#000" stroke-width="2.2" stroke-linecap="butt"/>
<text x="605.80" y="498.4" font-size="19.6" text-anchor="middle" font-family="Liberation Sans">10<tspan font-size="11.8" dy="-7.2">4</tspan></text>
<line x1="660.10" y1="508.40" x2="660.10" y2="516.40" stroke="#000" stroke-width="2.2" stroke-linecap="butt"/>
<text x="660.10" y="498.4" font-size="19.6" text-anchor="middle" font-family="Liberation Sans">10<tspan font-size="11.8" dy="-7.2">5</tspan></text>
<line x1="350.65" y1="511.00" x2="350.65" y2="516.40" stroke="#000" stroke-width="1.5" stroke-linecap="butt"/>
<line x1="360.21" y1="511.00" x2="360.21" y2="516.40" stroke="#000" stroke-width="1.5" stroke-linecap="butt"/>
<line x1="366.99" y1="511.00" x2="366.99" y2="516.40" stroke="#000" stroke-width="1.5" stroke-linecap="butt"/>
<line x1="372.25" y1="511.00" x2="372.25" y2="516.40" stroke="#000" stroke-width="1.5" stroke-linecap="butt"/>
<line x1="376.55" y1="511.00" x2="376.55" y2="516.40" stroke="#000" stroke-width="1.5" stroke-linecap="butt"/>
<line x1="380.19" y1="511.00" x2="380.19" y2="516.40" stroke="#000" stroke-width="1.5" stroke-linecap="butt"/>
<line x1="383.34" y1="511.00" x2="383.34" y2="516.40" stroke="#000" stroke-width="1.5" stroke-linecap="butt"/>
<line x1="386.12" y1="511.00" x2="386.12" y2="516.40" stroke="#000" stroke-width="1.5" stroke-linecap="butt"/>
<line x1="404.95" y1="511.00" x2="404.95" y2="516.40" stroke="#000" stroke-width="1.5" stroke-linecap="butt"/>
<line x1="414.51" y1="511.00" x2="414.51" y2="516.40" stroke="#000" stroke-width="1.5" stroke-linecap="butt"/>
<line x1="421.29" y1="511.00" x2="421.29" y2="516.40" stroke="#000" stroke-width="1.5" stroke-linecap="butt"/>
<line x1="426.55" y1="511.00" x2="426.55" y2="516.40" stroke="#000" stroke-width="1.5" stroke-linecap="butt"/>
<line x1="430.85" y1="511.00" x2="430.85" y2="516.40" stroke="#000" stroke-width="1.5" stroke-linecap="butt"/>
<line x1="434.49" y1="511.00" x2="434.49" y2="516.40" stroke="#000" stroke-width="1.5" stroke-linecap="butt"/>
<line x1="437.64" y1="511.00" x2="437.64" y2="516.40" stroke="#000" stroke-width="1.5" stroke-linecap="butt"/>
<line x1="440.42" y1="511.00" x2="440.42" y2="516.40" stroke="#000" stroke-width="1.5" stroke-linecap="butt"/>
<line x1="459.25" y1="511.00" x2="459.25" y2="516.40" stroke="#000" stroke-width="1.5" stroke-linecap="butt"/>
<line x1="468.81" y1="511.00" x2="468.81" y2="516.40" stroke="#000" stroke-width="1.5" stroke-linecap="butt"/>
<line x1="475.59" y1="511.00" x2="475.59" y2="516.40" stroke="#000" stroke-width="1.5" stroke-linecap="butt"/>
<line x1="480.85" y1="511.00" x2="480.85" y2="516.40" stroke="#000" stroke-width="1.5" stroke-linecap="butt"/>
<line x1="485.15" y1="511.00" x2="485.15" y2="516.40" stroke="#000" stroke-width="1.5" stroke-linecap="butt"/>
<line x1="488.79" y1="511.00" x2="488.79" y2="516.40" stroke="#000" stroke-width="1.5" stroke-linecap="butt"/>
<line x1="491.94" y1="511.00" x2="491.94" y2="516.40" stroke="#000" stroke-width="1.5" stroke-linecap="butt"/>
<line x1="494.72" y1="511.00" x2="494.72" y2="516.40" stroke="#000" stroke-width="1.5" stroke-linecap="butt"/>
<line x1="513.55" y1="511.00" x2="513.55" y2="516.40" stroke="#000" stroke-width="1.5" stroke-linecap="butt"/>
<line x1="523.11" y1="511.00" x2="523.11" y2="516.40" stroke="#000" stroke-width="1.5" stroke-linecap="butt"/>
<line x1="529.89" y1="511.00" x2="529.89" y2="516.40" stroke="#000" stroke-width="1.5" stroke-linecap="butt"/>
<line x1="535.15" y1="511.00" x2="535.15" y2="516.40" stroke="#000" stroke-width="1.5" stroke-linecap="butt"/>
<line x1="539.45" y1="511.00" x2="539.45" y2="516.40" stroke="#000" stroke-width="1.5" stroke-linecap="butt"/>
<line x1="543.09" y1="511.00" x2="543.09" y2="516.40" stroke="#000" stroke-width="1.5" stroke-linecap="butt"/>
<line x1="546.24" y1="511.00" x2="546.24" y2="516.40" stroke="#000" stroke-width="1.5" stroke-linecap="butt"/>
<line x1="549.02" y1="511.00" x2="549.02" y2="516.40" stroke="#000" stroke-width="1.5" stroke-linecap="butt"/>
<line x1="567.85" y1="511.00" x2="567.85" y2="516.40" stroke="#000" stroke-width="1.5" stroke-linecap="butt"/>
<line x1="577.41" y1="511.00" x2="577.41" y2="516.40" stroke="#000" stroke-width="1.5" stroke-linecap="butt"/>
<line x1="584.19" y1="511.00" x2="584.19" y2="516.40" stroke="#000" stroke-width="1.5" stroke-linecap="butt"/>
<line x1="589.45" y1="511.00" x2="589.45" y2="516.40" stroke="#000" stroke-width="1.5" stroke-linecap="butt"/>
<line x1="593.75" y1="511.00" x2="593.75" y2="516.40" stroke="#000" stroke-width="1.5" stroke-linecap="butt"/>
<line x1="597.39" y1="511.00" x2="597.39" y2="516.40" stroke="#000" stroke-width="1.5" stroke-linecap="butt"/>
<line x1="600.54" y1="511.00" x2="600.54" y2="516.40" stroke="#000" stroke-width="1.5" stroke-linecap="butt"/>
<line x1="603.32" y1="511.00" x2="603.32" y2="516.40" stroke="#000" stroke-width="1.5" stroke-linecap="butt"/>
<line x1="622.15" y1="511.00" x2="622.15" y2="516.40" stroke="#000" stroke-width="1.5" stroke-linecap="butt"/>
<line x1="631.71" y1="511.00" x2="631.71" y2="516.40" stroke="#000" stroke-width="1.5" stroke-linecap="butt"/>
<line x1="638.49" y1="511.00" x2="638.49" y2="516.40" stroke="#000" stroke-width="1.5" stroke-linecap="butt"/>
<line x1="643.75" y1="511.00" x2="643.75" y2="516.40" stroke="#000" stroke-width="1.5" stroke-linecap="butt"/>
<line x1="648.05" y1="511.00" x2="648.05" y2="516.40" stroke="#000" stroke-width="1.5" stroke-linecap="butt"/>
<line x1="651.69" y1="511.00" x2="651.69" y2="516.40" stroke="#000" stroke-width="1.5" stroke-linecap="butt"/>
<line x1="654.84" y1="511.00" x2="654.84" y2="516.40" stroke="#000" stroke-width="1.5" stroke-linecap="butt"/>
<line x1="657.62" y1="511.00" x2="657.62" y2="516.40" stroke="#000" stroke-width="1.5" stroke-linecap="butt"/>
<line x1="388.60" y1="515.50" x2="388.60" y2="959.70" stroke="#000" stroke-width="2.4" stroke-linecap="butt"/>
<line x1="379.30" y1="535.40" x2="388.60" y2="535.40" stroke="#000" stroke-width="2.2" stroke-linecap="butt"/>
<line x1="379.30" y1="559.65" x2="388.60" y2="559.65" stroke="#000" stroke-width="2.2" stroke-linecap="butt"/>
<line x1="379.30" y1="583.90" x2="388.60" y2="583.90" stroke="#000" stroke-width="2.2" stroke-linecap="butt"/>
<line x1="379.30" y1="608.15" x2="388.60" y2="608.15" stroke="#000" stroke-width="2.2" stroke-linecap="butt"/>
<line x1="379.30" y1="632.40" x2="388.60" y2="632.40" stroke="#000" stroke-width="2.2" stroke-linecap="butt"/>
<line x1="379.30" y1="656.65" x2="388.60" y2="656.65" stroke="#000" stroke-width="2.2" stroke-linecap="butt"/>
<line x1="379.30" y1="680.90" x2="388.60" y2="680.90" stroke="#000" stroke-width="2.2" stroke-linecap="butt"/>
<line x1="379.30" y1="705.15" x2="388.60" y2="705.15" stroke="#000" stroke-width="2.2" stroke-linecap="butt"/>
<line x1="379.30" y1="729.40" x2="388.60" y2="729.40" stroke="#000" stroke-width="2.2" stroke-linecap="butt"/>
<line x1="379.30" y1="753.65" x2="388.60" y2="753.65" stroke="#000" stroke-width="2.2" stroke-linecap="butt"/>
<line x1="379.30" y1="777.90" x2="388.60" y2="777.90" stroke="#000" stroke-width="2.2" stroke-linecap="butt"/>
<line x1="379.30" y1="802.15" x2="388.60" y2="802.15" stroke="#000" stroke-width="2.2" stroke-linecap="butt"/>
<line x1="379.30" y1="826.40" x2="388.60" y2="826.40" stroke="#000" stroke-width="2.2" stroke-linecap="butt"/>
<line x1="379.30" y1="850.65" x2="388.60" y2="850.65" stroke="#000" stroke-width="2.2" stroke-linecap="butt"/>
<line x1="379.30" y1="874.90" x2="388.60" y2="874.90" stroke="#000" stroke-width="2.2" stroke-linecap="butt"/>
<line x1="379.30" y1="899.15" x2="388.60" y2="899.15" stroke="#000" stroke-width="2.2" stroke-linecap="butt"/>
<line x1="379.30" y1="923.40" x2="388.60" y2="923.40" stroke="#000" stroke-width="2.2" stroke-linecap="butt"/>
<line x1="379.30" y1="947.65" x2="388.60" y2="947.65" stroke="#000" stroke-width="2.2" stroke-linecap="butt"/>
<rect x="389.70" y="525.60" width="206.10" height="19.60" fill="#c42e4b"/>
<rect x="389.70" y="549.85" width="194.30" height="19.60" fill="#c42e4b"/>
<rect x="389.70" y="574.10" width="164.00" height="19.60" fill="#c42e4b"/>
<rect x="389.70" y="598.35" width="163.20" height="19.60" fill="#c42e4b"/>
<rect x="389.70" y="622.60" width="184.90" height="19.60" fill="#c42e4b"/>
<rect x="389.70" y="646.85" width="212.60" height="19.60" fill="#c42e4b"/>
<rect x="389.70" y="671.10" width="130.20" height="19.60" fill="#c42e4b"/>
<rect x="389.70" y="695.35" width="123.10" height="19.60" fill="#c42e4b"/>
<rect x="389.70" y="719.60" width="144.30" height="19.60" fill="#c42e4b"/>
<rect x="389.70" y="743.85" width="142.90" height="19.60" fill="#c42e4b"/>
<rect x="389.70" y="768.10" width="168.00" height="19.60" fill="#c42e4b"/>
<rect x="389.70" y="792.35" width="132.70" height="19.60" fill="#c42e4b"/>
<rect x="389.70" y="816.60" width="131.30" height="19.60" fill="#c42e4b"/>
<rect x="389.70" y="840.85" width="173.10" height="19.60" fill="#c42e4b"/>
<rect x="389.70" y="865.10" width="114.30" height="19.60" fill="#c42e4b"/>
<rect x="389.70" y="889.35" width="89.80" height="19.60" fill="#c42e4b"/>
<rect x="389.70" y="913.60" width="0.60" height="19.60" fill="#c42e4b"/>
<rect x="367.10" y="937.85" width="21.50" height="19.60" fill="#c42e4b"/>
<circle cx="556.60" cy="534.00" r="3.4" fill="#d4d4d4" stroke="#000" stroke-width="1.15"/>
<circle cx="571.20" cy="537.40" r="3.4" fill="#d4d4d4" stroke="#000" stroke-width="1.15"/>
<circle cx="575.50" cy="536.00" r="3.4" fill="#d4d4d4" stroke="#000" stroke-width="1.15"/>
<circle cx="580.30" cy="535.10" r="3.4" fill="#d4d4d4" stroke="#000" stroke-width="1.15"/>
<circle cx="615.00" cy="535.10" r="3.4" fill="#d4d4d4" stroke="#000" stroke-width="1.15"/>
<circle cx="616.00" cy="535.60" r="3.4" fill="#d4d4d4" stroke="#000" stroke-width="1.15"/>
<line x1="569.80" y1="535.40" x2="607.90" y2="535.40" stroke="#000" stroke-width="1.9" stroke-linecap="butt"/>
<line x1="569.80" y1="532.80" x2="569.80" y2="538.00" stroke="#000" stroke-width="1.9" stroke-linecap="butt"/>
<line x1="607.90" y1="532.80" x2="607.90" y2="538.00" stroke="#000" stroke-width="1.9" stroke-linecap="butt"/>
<circle cx="561.40" cy="557.70" r="3.4" fill="#d4d4d4" stroke="#000" stroke-width="1.15"/>
<circle cx="576.90" cy="562.00" r="3.4" fill="#d4d4d4" stroke="#000" stroke-width="1.15"/>
<circle cx="582.50" cy="558.60" r="3.4" fill="#d4d4d4" stroke="#000" stroke-width="1.15"/>
<circle cx="585.40" cy="560.00" r="3.4" fill="#d4d4d4" stroke="#000" stroke-width="1.15"/>
<circle cx="599.50" cy="560.00" r="3.4" fill="#d4d4d4" stroke="#000" stroke-width="1.15"/>
<line x1="574.00" y1="559.65" x2="591.80" y2="559.65" stroke="#000" stroke-width="1.9" stroke-linecap="butt"/>
<line x1="574.00" y1="557.05" x2="574.00" y2="562.25" stroke="#000" stroke-width="1.9" stroke-linecap="butt"/>
<line x1="591.80" y1="557.05" x2="591.80" y2="562.25" stroke="#000" stroke-width="1.9" stroke-linecap="butt"/>
<circle cx="533.10" cy="583.40" r="3.4" fill="#d4d4d4" stroke="#000" stroke-width="1.15"/>
<circle cx="558.50" cy="582.60" r="3.4" fill="#d4d4d4" stroke="#000" stroke-width="1.15"/>
<circle cx="561.40" cy="582.00" r="3.4" fill="#d4d4d4" stroke="#000" stroke-width="1.15"/>
<line x1="533.10" y1="583.90" x2="559.90" y2="583.90" stroke="#000" stroke-width="1.9" stroke-linecap="butt"/>
<line x1="533.10" y1="581.30" x2="533.10" y2="586.50" stroke="#000" stroke-width="1.9" stroke-linecap="butt"/>
<line x1="559.90" y1="581.30" x2="559.90" y2="586.50" stroke="#000" stroke-width="1.9" stroke-linecap="butt"/>
<circle cx="509.70" cy="608.50" r="3.4" fill="#d4d4d4" stroke="#000" stroke-width="1.15"/>
<circle cx="512.00" cy="608.00" r="3.4" fill="#d4d4d4" stroke="#000" stroke-width="1.15"/>
<circle cx="527.50" cy="610.20" r="3.4" fill="#d4d4d4" stroke="#000" stroke-width="1.15"/>
<circle cx="553.70" cy="609.40" r="3.4" fill="#d4d4d4" stroke="#000" stroke-width="1.15"/>
<circle cx="563.30" cy="607.40" r="3.4" fill="#d4d4d4" stroke="#000" stroke-width="1.15"/>
<circle cx="576.90" cy="609.40" r="3.4" fill="#d4d4d4" stroke="#000" stroke-width="1.15"/>
<line x1="527.50" y1="608.15" x2="567.00" y2="608.15" stroke="#000" stroke-width="1.9" stroke-linecap="butt"/>
<line x1="527.50" y1="605.55" x2="527.50" y2="610.75" stroke="#000" stroke-width="1.9" stroke-linecap="butt"/>
<line x1="567.00" y1="605.55" x2="567.00" y2="610.75" stroke="#000" stroke-width="1.9" stroke-linecap="butt"/>
<circle cx="527.50" cy="630.50" r="3.4" fill="#d4d4d4" stroke="#000" stroke-width="1.15"/>
<circle cx="536.80" cy="634.80" r="3.4" fill="#d4d4d4" stroke="#000" stroke-width="1.15"/>
<circle cx="558.50" cy="632.00" r="3.4" fill="#d4d4d4" stroke="#000" stroke-width="1.15"/>
<circle cx="561.40" cy="633.70" r="3.4" fill="#d4d4d4" stroke="#000" stroke-width="1.15"/>
<circle cx="563.30" cy="634.80" r="3.4" fill="#d4d4d4" stroke="#000" stroke-width="1.15"/>
<circle cx="607.90" cy="631.10" r="3.4" fill="#d4d4d4" stroke="#000" stroke-width="1.15"/>
<line x1="544.40" y1="632.40" x2="593.80" y2="632.40" stroke="#000" stroke-width="1.9" stroke-linecap="butt"/>
<line x1="544.40" y1="629.80" x2="544.40" y2="635.00" stroke="#000" stroke-width="1.9" stroke-linecap="butt"/>
<line x1="593.80" y1="629.80" x2="593.80" y2="635.00" stroke="#000" stroke-width="1.9" stroke-linecap="butt"/>
<circle cx="565.00" cy="656.50" r="3.4" fill="#d4d4d4" stroke="#000" stroke-width="1.15"/>
<circle cx="572.10" cy="656.00" r="3.4" fill="#d4d4d4" stroke="#000" stroke-width="1.15"/>
<circle cx="582.50" cy="656.00" r="3.4" fill="#d4d4d4" stroke="#000" stroke-width="1.15"/>
<circle cx="591.00" cy="658.20" r="3.4" fill="#d4d4d4" stroke="#000" stroke-width="1.15"/>
<circle cx="605.10" cy="654.50" r="3.4" fill="#d4d4d4" stroke="#000" stroke-width="1.15"/>
<circle cx="631.40" cy="654.50" r="3.4" fill="#d4d4d4" stroke="#000" stroke-width="1.15"/>
<line x1="582.50" y1="656.65" x2="619.20" y2="656.65" stroke="#000" stroke-width="1.9" stroke-linecap="butt"/>
<line x1="582.50" y1="654.05" x2="582.50" y2="659.25" stroke="#000" stroke-width="1.9" stroke-linecap="butt"/>
<line x1="619.20" y1="654.05" x2="619.20" y2="659.25" stroke="#000" stroke-width="1.9" stroke-linecap="butt"/>
<circle cx="503.50" cy="679.40" r="3.4" fill="#d4d4d4" stroke="#000" stroke-width="1.15"/>
<circle cx="512.00" cy="679.40" r="3.4" fill="#d4d4d4" stroke="#000" stroke-width="1.15"/>
<circle cx="534.50" cy="681.40" r="3.4" fill="#d4d4d4" stroke="#000" stroke-width="1.15"/>
<line x1="503.50" y1="680.90" x2="534.50" y2="680.90" stroke="#000" stroke-width="1.9" stroke-linecap="butt"/>
<line x1="503.50" y1="678.30" x2="503.50" y2="683.50" stroke="#000" stroke-width="1.9" stroke-linecap="butt"/>
<line x1="534.50" y1="678.30" x2="534.50" y2="683.50" stroke="#000" stroke-width="1.9" stroke-linecap="butt"/>
<circle cx="473.80" cy="704.80" r="3.4" fill="#d4d4d4" stroke="#000" stroke-width="1.15"/>
<circle cx="516.20" cy="706.80" r="3.4" fill="#d4d4d4" stroke="#000" stroke-width="1.15"/>
<circle cx="525.50" cy="705.30" r="3.4" fill="#d4d4d4" stroke="#000" stroke-width="1.15"/>
<line x1="473.80" y1="705.15" x2="525.50" y2="705.15" stroke="#000" stroke-width="1.9" stroke-linecap="butt"/>
<line x1="473.80" y1="702.55" x2="473.80" y2="707.75" stroke="#000" stroke-width="1.9" stroke-linecap="butt"/>
<line x1="525.50" y1="702.55" x2="525.50" y2="707.75" stroke="#000" stroke-width="1.9" stroke-linecap="butt"/>
<circle cx="465.70" cy="729.60" r="3.4" fill="#d4d4d4" stroke="#000" stroke-width="1.15"/>
<circle cx="483.20" cy="730.50" r="3.4" fill="#d4d4d4" stroke="#000" stroke-width="1.15"/>
<circle cx="495.60" cy="727.70" r="3.4" fill="#d4d4d4" stroke="#000" stroke-width="1.15"/>
<circle cx="530.30" cy="728.20" r="3.4" fill="#d4d4d4" stroke="#000" stroke-width="1.15"/>
<circle cx="553.70" cy="731.60" r="3.4" fill="#d4d4d4" stroke="#000" stroke-width="1.15"/>
<circle cx="557.10" cy="729.10" r="3.4" fill="#d4d4d4" stroke="#000" stroke-width="1.15"/>
<line x1="500.70" y1="729.40" x2="548.10" y2="729.40" stroke="#000" stroke-width="1.9" stroke-linecap="butt"/>
<line x1="500.70" y1="726.80" x2="500.70" y2="732.00" stroke="#000" stroke-width="1.9" stroke-linecap="butt"/>
<line x1="548.10" y1="726.80" x2="548.10" y2="732.00" stroke="#000" stroke-width="1.9" stroke-linecap="butt"/>
<circle cx="502.10" cy="754.50" r="3.4" fill="#d4d4d4" stroke="#000" stroke-width="1.15"/>
<circle cx="519.00" cy="752.80" r="3.4" fill="#d4d4d4" stroke="#000" stroke-width="1.15"/>
<circle cx="551.50" cy="751.90" r="3.4" fill="#d4d4d4" stroke="#000" stroke-width="1.15"/>
<line x1="502.10" y1="753.65" x2="551.50" y2="753.65" stroke="#000" stroke-width="1.9" stroke-linecap="butt"/>
<line x1="502.10" y1="751.05" x2="502.10" y2="756.25" stroke="#000" stroke-width="1.9" stroke-linecap="butt"/>
<line x1="551.50" y1="751.05" x2="551.50" y2="756.25" stroke="#000" stroke-width="1.9" stroke-linecap="butt"/>
<circle cx="522.70" cy="779.60" r="3.4" fill="#d4d4d4" stroke="#000" stroke-width="1.15"/>
<circle cx="527.50" cy="780.50" r="3.4" fill="#d4d4d4" stroke="#000" stroke-width="1.15"/>
<circle cx="536.80" cy="779.00" r="3.4" fill="#d4d4d4" stroke="#000" stroke-width="1.15"/>
<circle cx="579.10" cy="776.80" r="3.4" fill="#d4d4d4" stroke="#000" stroke-width="1.15"/>
<line x1="527.50" y1="777.90" x2="570.70" y2="777.90" stroke="#000" stroke-width="1.9" stroke-linecap="butt"/>
<line x1="527.50" y1="775.30" x2="527.50" y2="780.50" stroke="#000" stroke-width="1.9" stroke-linecap="butt"/>
<line x1="570.70" y1="775.30" x2="570.70" y2="780.50" stroke="#000" stroke-width="1.9" stroke-linecap="butt"/>
<circle cx="519.00" cy="804.40" r="3.4" fill="#d4d4d4" stroke="#000" stroke-width="1.15"/>
<circle cx="523.80" cy="804.40" r="3.4" fill="#d4d4d4" stroke="#000" stroke-width="1.15"/>
<circle cx="525.50" cy="800.20" r="3.4" fill="#d4d4d4" stroke="#000" stroke-width="1.15"/>
<line x1="519.00" y1="802.15" x2="525.50" y2="802.15" stroke="#000" stroke-width="1.9" stroke-linecap="butt"/>
<line x1="519.00" y1="799.55" x2="519.00" y2="804.75" stroke="#000" stroke-width="1.9" stroke-linecap="butt"/>
<line x1="525.50" y1="799.55" x2="525.50" y2="804.75" stroke="#000" stroke-width="1.9" stroke-linecap="butt"/>
<circle cx="506.30" cy="824.20" r="3.4" fill="#d4d4d4" stroke="#000" stroke-width="1.15"/>
<circle cx="525.50" cy="828.40" r="3.4" fill="#d4d4d4" stroke="#000" stroke-width="1.15"/>
<circle cx="526.90" cy="824.20" r="3.4" fill="#d4d4d4" stroke="#000" stroke-width="1.15"/>
<line x1="506.30" y1="826.40" x2="527.50" y2="826.40" stroke="#000" stroke-width="1.9" stroke-linecap="butt"/>
<line x1="506.30" y1="823.80" x2="506.30" y2="829.00" stroke="#000" stroke-width="1.9" stroke-linecap="butt"/>
<line x1="527.50" y1="823.80" x2="527.50" y2="829.00" stroke="#000" stroke-width="1.9" stroke-linecap="butt"/>
<circle cx="543.90" cy="852.40" r="3.4" fill="#d4d4d4" stroke="#000" stroke-width="1.15"/>
<circle cx="550.90" cy="851.90" r="3.4" fill="#d4d4d4" stroke="#000" stroke-width="1.15"/>
<circle cx="579.10" cy="849.00" r="3.4" fill="#d4d4d4" stroke="#000" stroke-width="1.15"/>
<line x1="543.90" y1="850.65" x2="579.10" y2="850.65" stroke="#000" stroke-width="1.9" stroke-linecap="butt"/>
<line x1="543.90" y1="848.05" x2="543.90" y2="853.25" stroke="#000" stroke-width="1.9" stroke-linecap="butt"/>
<line x1="579.10" y1="848.05" x2="579.10" y2="853.25" stroke="#000" stroke-width="1.9" stroke-linecap="butt"/>
<circle cx="483.70" cy="875.60" r="3.4" fill="#d4d4d4" stroke="#000" stroke-width="1.15"/>
<circle cx="486.00" cy="873.60" r="3.4" fill="#d4d4d4" stroke="#000" stroke-width="1.15"/>
<circle cx="521.80" cy="875.00" r="3.4" fill="#d4d4d4" stroke="#000" stroke-width="1.15"/>
<line x1="483.70" y1="874.90" x2="522.70" y2="874.90" stroke="#000" stroke-width="1.9" stroke-linecap="butt"/>
<line x1="483.70" y1="872.30" x2="483.70" y2="877.50" stroke="#000" stroke-width="1.9" stroke-linecap="butt"/>
<line x1="522.70" y1="872.30" x2="522.70" y2="877.50" stroke="#000" stroke-width="1.9" stroke-linecap="butt"/>
<circle cx="442.80" cy="898.20" r="3.4" fill="#d4d4d4" stroke="#000" stroke-width="1.15"/>
<circle cx="461.10" cy="901.00" r="3.4" fill="#d4d4d4" stroke="#000" stroke-width="1.15"/>
<circle cx="466.20" cy="897.60" r="3.4" fill="#d4d4d4" stroke="#000" stroke-width="1.15"/>
<circle cx="473.80" cy="897.60" r="3.4" fill="#d4d4d4" stroke="#000" stroke-width="1.15"/>
<circle cx="486.00" cy="901.00" r="3.4" fill="#d4d4d4" stroke="#000" stroke-width="1.15"/>
<circle cx="502.90" cy="897.00" r="3.4" fill="#d4d4d4" stroke="#000" stroke-width="1.15"/>
<line x1="458.90" y1="899.15" x2="492.80" y2="899.15" stroke="#000" stroke-width="1.9" stroke-linecap="butt"/>
<line x1="458.90" y1="896.55" x2="458.90" y2="901.75" stroke="#000" stroke-width="1.9" stroke-linecap="butt"/>
<line x1="492.80" y1="896.55" x2="492.80" y2="901.75" stroke="#000" stroke-width="1.9" stroke-linecap="butt"/>
<circle cx="360.40" cy="925.80" r="3.4" fill="#d4d4d4" stroke="#000" stroke-width="1.15"/>
<circle cx="372.50" cy="922.20" r="3.4" fill="#d4d4d4" stroke="#000" stroke-width="1.15"/>
<circle cx="409.80" cy="925.80" r="3.4" fill="#d4d4d4" stroke="#000" stroke-width="1.15"/>
<line x1="360.40" y1="923.40" x2="409.80" y2="923.40" stroke="#000" stroke-width="1.9" stroke-linecap="butt"/>
<line x1="360.40" y1="920.80" x2="360.40" y2="926.00" stroke="#000" stroke-width="1.9" stroke-linecap="butt"/>
<line x1="409.80" y1="920.80" x2="409.80" y2="926.00" stroke="#000" stroke-width="1.9" stroke-linecap="butt"/>
<circle cx="334.70" cy="947.60" r="3.4" fill="#d4d4d4" stroke="#000" stroke-width="1.15"/>
<circle cx="372.50" cy="946.20" r="3.4" fill="#d4d4d4" stroke="#000" stroke-width="1.15"/>
<circle cx="377.00" cy="950.10" r="3.4" fill="#d4d4d4" stroke="#000" stroke-width="1.15"/>
<line x1="334.70" y1="947.65" x2="390.00" y2="947.65" stroke="#000" stroke-width="1.9" stroke-linecap="butt"/>
<line x1="334.70" y1="945.05" x2="334.70" y2="950.25" stroke="#000" stroke-width="1.9" stroke-linecap="butt"/>
<line x1="390.00" y1="945.05" x2="390.00" y2="950.25" stroke="#000" stroke-width="1.9" stroke-linecap="butt"/>
<line x1="684.00" y1="534.60" x2="693.20" y2="534.60" stroke="#000" stroke-width="2.3" stroke-linecap="butt"/>
<line x1="693.20" y1="533.50" x2="693.20" y2="957.40" stroke="#000" stroke-width="2.3" stroke-linecap="butt"/>
<text x="688.80" y="565.25" font-size="21.5" text-anchor="end" font-weight="normal" fill="#000" font-family="Liberation Sans" textLength="27.6" lengthAdjust="spacingAndGlyphs">NS</text>
<text x="688.80" y="589.50" font-size="21.5" text-anchor="end" font-weight="normal" fill="#000" font-family="Liberation Sans" textLength="27.6" lengthAdjust="spacingAndGlyphs">NS</text>
<path d="M678.60,605.75L678.60,601.85M678.60,605.75L682.31,604.54M678.60,605.75L680.89,608.91M678.60,605.75L676.31,608.91M678.60,605.75L674.89,604.54" stroke="#000" stroke-width="1.45" stroke-linecap="round" fill="none"/>
<text x="688.80" y="638.00" font-size="21.5" text-anchor="end" font-weight="normal" fill="#000" font-family="Liberation Sans" textLength="27.6" lengthAdjust="spacingAndGlyphs">NS</text>
<text x="688.80" y="662.25" font-size="21.5" text-anchor="end" font-weight="normal" fill="#000" font-family="Liberation Sans" textLength="27.6" lengthAdjust="spacingAndGlyphs">NS</text>
<path d="M673.50,682.00L673.50,678.10M673.50,682.00L677.21,680.79M673.50,682.00L675.79,685.16M673.50,682.00L671.21,685.16M673.50,682.00L669.79,680.79" stroke="#000" stroke-width="1.45" stroke-linecap="round" fill="none"/>
<path d="M683.60,682.00L683.60,678.10M683.60,682.00L687.31,680.79M683.60,682.00L685.89,685.16M683.60,682.00L681.31,685.16M683.60,682.00L679.89,680.79" stroke="#000" stroke-width="1.45" stroke-linecap="round" fill="none"/>
<path d="M678.60,702.75L678.60,698.85M678.60,702.75L682.31,701.54M678.60,702.75L680.89,705.91M678.60,702.75L676.31,705.91M678.60,702.75L674.89,701.54" stroke="#000" stroke-width="1.45" stroke-linecap="round" fill="none"/>
<text x="688.80" y="735.00" font-size="21.5" text-anchor="end" font-weight="normal" fill="#000" font-family="Liberation Sans" textLength="27.6" lengthAdjust="spacingAndGlyphs">NS</text>
<text x="688.80" y="759.25" font-size="21.5" text-anchor="end" font-weight="normal" fill="#000" font-family="Liberation Sans" textLength="27.6" lengthAdjust="spacingAndGlyphs">NS</text>
<path d="M678.60,775.50L678.60,771.60M678.60,775.50L682.31,774.29M678.60,775.50L680.89,778.66M678.60,775.50L676.31,778.66M678.60,775.50L674.89,774.29" stroke="#000" stroke-width="1.45" stroke-linecap="round" fill="none"/>
<path d="M673.50,803.25L673.50,799.35M673.50,803.25L677.21,802.04M673.50,803.25L675.79,806.41M673.50,803.25L671.21,806.41M673.50,803.25L669.79,802.04" stroke="#000" stroke-width="1.45" stroke-linecap="round" fill="none"/>
<path d="M683.60,803.25L683.60,799.35M683.60,803.25L687.31,802.04M683.60,803.25L685.89,806.41M683.60,803.25L681.31,806.41M683.60,803.25L679.89,802.04" stroke="#000" stroke-width="1.45" stroke-linecap="round" fill="none"/>
<path d="M673.50,827.50L673.50,823.60M673.50,827.50L677.21,826.29M673.50,827.50L675.79,830.66M673.50,827.50L671.21,830.66M673.50,827.50L669.79,826.29" stroke="#000" stroke-width="1.45" stroke-linecap="round" fill="none"/>
<path d="M683.60,827.50L683.60,823.60M683.60,827.50L687.31,826.29M683.60,827.50L685.89,830.66M683.60,827.50L681.31,830.66M683.60,827.50L679.89,826.29" stroke="#000" stroke-width="1.45" stroke-linecap="round" fill="none"/>
<text x="688.80" y="856.25" font-size="21.5" text-anchor="end" font-weight="normal" fill="#000" font-family="Liberation Sans" textLength="27.6" lengthAdjust="spacingAndGlyphs">NS</text>
<path d="M673.50,876.00L673.50,872.10M673.50,876.00L677.21,874.79M673.50,876.00L675.79,879.16M673.50,876.00L671.21,879.16M673.50,876.00L669.79,874.79" stroke="#000" stroke-width="1.45" stroke-linecap="round" fill="none"/>
<path d="M683.60,876.00L683.60,872.10M683.60,876.00L687.31,874.79M683.60,876.00L685.89,879.16M683.60,876.00L681.31,879.16M683.60,876.00L679.89,874.79" stroke="#000" stroke-width="1.45" stroke-linecap="round" fill="none"/>
<path d="M673.50,900.25L673.50,896.35M673.50,900.25L677.21,899.04M673.50,900.25L675.79,903.41M673.50,900.25L671.21,903.41M673.50,900.25L669.79,899.04" stroke="#000" stroke-width="1.45" stroke-linecap="round" fill="none"/>
<path d="M683.60,900.25L683.60,896.35M683.60,900.25L687.31,899.04M683.60,900.25L685.89,903.41M683.60,900.25L681.31,903.41M683.60,900.25L679.89,899.04" stroke="#000" stroke-width="1.45" stroke-linecap="round" fill="none"/>
<path d="M673.50,924.50L673.50,920.60M673.50,924.50L677.21,923.29M673.50,924.50L675.79,927.66M673.50,924.50L671.21,927.66M673.50,924.50L669.79,923.29" stroke="#000" stroke-width="1.45" stroke-linecap="round" fill="none"/>
<path d="M683.60,924.50L683.60,920.60M683.60,924.50L687.31,923.29M683.60,924.50L685.89,927.66M683.60,924.50L681.31,927.66M683.60,924.50L679.89,923.29" stroke="#000" stroke-width="1.45" stroke-linecap="round" fill="none"/>
<path d="M673.50,948.75L673.50,944.85M673.50,948.75L677.21,947.54M673.50,948.75L675.79,951.91M673.50,948.75L671.21,951.91M673.50,948.75L669.79,947.54" stroke="#000" stroke-width="1.45" stroke-linecap="round" fill="none"/>
<path d="M683.60,948.75L683.60,944.85M683.60,948.75L687.31,947.54M683.60,948.75L685.89,951.91M683.60,948.75L681.31,951.91M683.60,948.75L679.89,947.54" stroke="#000" stroke-width="1.45" stroke-linecap="round" fill="none"/>
<text x="26.66" y="542.70" font-size="17" font-weight="bold" fill="#111" stroke="#111" stroke-width="0.25" text-anchor="middle" font-family="Liberation Serif">U</text>
<text x="38.38" y="542.70" font-size="17" font-weight="bold" fill="#111" stroke="#111" stroke-width="0.25" text-anchor="middle" font-family="Liberation Serif">G</text>
<text x="50.10" y="542.70" font-size="17" font-weight="bold" fill="#111" stroke="#111" stroke-width="0.25" text-anchor="middle" font-family="Liberation Serif">G</text>
<text x="61.82" y="542.70" font-size="17" font-weight="bold" fill="#111" stroke="#111" stroke-width="0.25" text-anchor="middle" font-family="Liberation Serif">A</text>
<text x="73.54" y="542.70" font-size="17" font-weight="bold" fill="#111" stroke="#111" stroke-width="0.25" text-anchor="middle" font-family="Liberation Serif">G</text>
<text x="85.26" y="542.70" font-size="17" font-weight="bold" fill="#111" stroke="#111" stroke-width="0.25" text-anchor="middle" font-family="Liberation Serif">C</text>
<text x="96.98" y="542.70" font-size="17" font-weight="bold" fill="#111" stroke="#111" stroke-width="0.25" text-anchor="middle" font-family="Liberation Serif">A</text>
<text x="108.70" y="542.70" font-size="17" font-weight="bold" fill="#111" stroke="#111" stroke-width="0.25" text-anchor="middle" font-family="Liberation Serif">A</text>
<text x="120.42" y="542.70" font-size="17" font-weight="bold" fill="#111" stroke="#111" stroke-width="0.25" text-anchor="middle" font-family="Liberation Serif">C</text>
<text x="132.14" y="542.70" font-size="17" font-weight="bold" fill="#111" stroke="#111" stroke-width="0.25" text-anchor="middle" font-family="Liberation Serif">A</text>
<text x="143.86" y="542.70" font-size="17" font-weight="bold" fill="#111" stroke="#111" stroke-width="0.25" text-anchor="middle" font-family="Liberation Serif">C</text>
<text x="155.58" y="542.70" font-size="17" font-weight="bold" fill="#111" stroke="#111" stroke-width="0.25" text-anchor="middle" font-family="Liberation Serif">C</text>
<text x="167.30" y="542.70" font-size="17" font-weight="bold" fill="#111" stroke="#111" stroke-width="0.25" text-anchor="middle" font-family="Liberation Serif">U</text>
<text x="179.02" y="542.70" font-size="17" font-weight="bold" fill="#111" stroke="#111" stroke-width="0.25" text-anchor="middle" font-family="Liberation Serif">G</text>
<text x="190.74" y="542.70" font-size="17" font-weight="bold" fill="#111" stroke="#111" stroke-width="0.25" text-anchor="middle" font-family="Liberation Serif">A</text>
<text x="202.46" y="542.70" font-size="17" font-weight="bold" fill="#111" stroke="#111" stroke-width="0.25" text-anchor="middle" font-family="Liberation Serif">A</text>
<text x="214.18" y="542.70" font-size="17" font-weight="bold" fill="#111" stroke="#111" stroke-width="0.25" text-anchor="middle" font-family="Liberation Serif">G</text>
<text x="225.90" y="542.70" font-size="17" font-weight="bold" fill="#111" stroke="#111" stroke-width="0.25" text-anchor="middle" font-family="Liberation Serif">G</text>
<text x="237.62" y="542.70" font-size="17" font-weight="bold" fill="#111" stroke="#111" stroke-width="0.25" text-anchor="middle" font-family="Liberation Serif">A</text>
<text x="249.34" y="542.70" font-size="17" font-weight="bold" fill="#111" stroke="#111" stroke-width="0.25" text-anchor="middle" font-family="Liberation Serif">A</text>
<text x="261.06" y="542.70" font-size="17" font-weight="bold" fill="#111" stroke="#111" stroke-width="0.25" text-anchor="middle" font-family="Liberation Serif">G</text>
<text x="272.78" y="542.70" font-size="17" font-weight="bold" fill="#111" stroke="#111" stroke-width="0.25" text-anchor="middle" font-family="Liberation Serif">G</text>
<text x="284.50" y="542.70" font-size="17" font-weight="bold" fill="#111" stroke="#111" stroke-width="0.25" text-anchor="middle" font-family="Liberation Serif">C</text>
<text x="296.22" y="542.70" font-size="17" font-weight="bold" fill="#111" stroke="#111" stroke-width="0.25" text-anchor="middle" font-family="Liberation Serif">U</text>
<text x="26.66" y="566.95" font-size="17" font-weight="bold" fill="#e5141c" stroke="#e5141c" stroke-width="0.25" text-anchor="middle" font-family="Liberation Serif">G</text>
<text x="38.38" y="566.95" font-size="17" font-weight="normal" fill="#93969a" stroke="#93969a" stroke-width="0.45" text-anchor="middle" font-family="Liberation Serif">G</text>
<text x="50.10" y="566.95" font-size="17" font-weight="normal" fill="#93969a" stroke="#93969a" stroke-width="0.45" text-anchor="middle" font-family="Liberation Serif">G</text>
<text x="61.82" y="566.95" font-size="17" font-weight="normal" fill="#93969a" stroke="#93969a" stroke-width="0.45" text-anchor="middle" font-family="Liberation Serif">A</text>
<text x="73.54" y="566.95" font-size="17" font-weight="normal" fill="#93969a" stroke="#93969a" stroke-width="0.45" text-anchor="middle" font-family="Liberation Serif">G</text>
<text x="85.26" y="566.95" font-size="17" font-weight="normal" fill="#93969a" stroke="#93969a" stroke-width="0.45" text-anchor="middle" font-family="Liberation Serif">C</text>
<text x="96.98" y="566.95" font-size="17" font-weight="normal" fill="#93969a" stroke="#93969a" stroke-width="0.45" text-anchor="middle" font-family="Liberation Serif">A</text>
<text x="108.70" y="566.95" font-size="17" font-weight="normal" fill="#93969a" stroke="#93969a" stroke-width="0.45" text-anchor="middle" font-family="Liberation Serif">A</text>
<text x="120.42" y="566.95" font-size="17" font-weight="normal" fill="#93969a" stroke="#93969a" stroke-width="0.45" text-anchor="middle" font-family="Liberation Serif">C</text>
<text x="132.14" y="566.95" font-size="17" font-weight="normal" fill="#93969a" stroke="#93969a" stroke-width="0.45" text-anchor="middle" font-family="Liberation Serif">A</text>
<text x="143.86" y="566.95" font-size="17" font-weight="normal" fill="#93969a" stroke="#93969a" stroke-width="0.45" text-anchor="middle" font-family="Liberation Serif">C</text>
<text x="155.58" y="566.95" font-size="17" font-weight="normal" fill="#93969a" stroke="#93969a" stroke-width="0.45" text-anchor="middle" font-family="Liberation Serif">C</text>
<text x="167.30" y="566.95" font-size="17" font-weight="normal" fill="#93969a" stroke="#93969a" stroke-width="0.45" text-anchor="middle" font-family="Liberation Serif">U</text>
<text x="179.02" y="566.95" font-size="17" font-weight="normal" fill="#93969a" stroke="#93969a" stroke-width="0.45" text-anchor="middle" font-family="Liberation Serif">G</text>
<text x="190.74" y="566.95" font-size="17" font-weight="normal" fill="#93969a" stroke="#93969a" stroke-width="0.45" text-anchor="middle" font-family="Liberation Serif">A</text>
<text x="202.46" y="566.95" font-size="17" font-weight="normal" fill="#93969a" stroke="#93969a" stroke-width="0.45" text-anchor="middle" font-family="Liberation Serif">A</text>
<text x="214.18" y="566.95" font-size="17" font-weight="normal" fill="#93969a" stroke="#93969a" stroke-width="0.45" text-anchor="middle" font-family="Liberation Serif">G</text>
<text x="225.90" y="566.95" font-size="17" font-weight="normal" fill="#93969a" stroke="#93969a" stroke-width="0.45" text-anchor="middle" font-family="Liberation Serif">G</text>
<text x="237.62" y="566.95" font-size="17" font-weight="normal" fill="#93969a" stroke="#93969a" stroke-width="0.45" text-anchor="middle" font-family="Liberation Serif">A</text>
<text x="249.34" y="566.95" font-size="17" font-weight="normal" fill="#93969a" stroke="#93969a" stroke-width="0.45" text-anchor="middle" font-family="Liberation Serif">A</text>
<text x="261.06" y="566.95" font-size="17" font-weight="normal" fill="#93969a" stroke="#93969a" stroke-width="0.45" text-anchor="middle" font-family="Liberation Serif">G</text>
<text x="272.78" y="566.95" font-size="17" font-weight="normal" fill="#93969a" stroke="#93969a" stroke-width="0.45" text-anchor="middle" font-family="Liberation Serif">G</text>
<text x="284.50" y="566.95" font-size="17" font-weight="normal" fill="#93969a" stroke="#93969a" stroke-width="0.45" text-anchor="middle" font-family="Liberation Serif">C</text>
<text x="296.22" y="566.95" font-size="17" font-weight="normal" fill="#93969a" stroke="#93969a" stroke-width="0.45" text-anchor="middle" font-family="Liberation Serif">U</text>
<text x="26.66" y="591.20" font-size="17" font-weight="normal" fill="#93969a" stroke="#93969a" stroke-width="0.45" text-anchor="middle" font-family="Liberation Serif">U</text>
<text x="38.38" y="591.20" font-size="17" font-weight="normal" fill="#93969a" stroke="#93969a" stroke-width="0.45" text-anchor="middle" font-family="Liberation Serif">G</text>
<text x="50.10" y="591.20" font-size="17" font-weight="bold" fill="#e5141c" stroke="#e5141c" stroke-width="0.25" text-anchor="middle" font-family="Liberation Serif">U</text>
<text x="61.82" y="591.20" font-size="17" font-weight="normal" fill="#93969a" stroke="#93969a" stroke-width="0.45" text-anchor="middle" font-family="Liberation Serif">A</text>
<text x="73.54" y="591.20" font-size="17" font-weight="normal" fill="#93969a" stroke="#93969a" stroke-width="0.45" text-anchor="middle" font-family="Liberation Serif">G</text>
<text x="85.26" y="591.20" font-size="17" font-weight="normal" fill="#93969a" stroke="#93969a" stroke-width="0.45" text-anchor="middle" font-family="Liberation Serif">C</text>
<text x="96.98" y="591.20" font-size="17" font-weight="normal" fill="#93969a" stroke="#93969a" stroke-width="0.45" text-anchor="middle" font-family="Liberation Serif">A</text>
<text x="108.70" y="591.20" font-size="17" font-weight="normal" fill="#93969a" stroke="#93969a" stroke-width="0.45" text-anchor="middle" font-family="Liberation Serif">A</text>
<text x="120.42" y="591.20" font-size="17" font-weight="normal" fill="#93969a" stroke="#93969a" stroke-width="0.45" text-anchor="middle" font-family="Liberation Serif">C</text>
<text x="132.14" y="591.20" font-size="17" font-weight="normal" fill="#93969a" stroke="#93969a" stroke-width="0.45" text-anchor="middle" font-family="Liberation Serif">A</text>
<text x="143.86" y="591.20" font-size="17" font-weight="normal" fill="#93969a" stroke="#93969a" stroke-width="0.45" text-anchor="middle" font-family="Liberation Serif">C</text>
<text x="155.58" y="591.20" font-size="17" font-weight="normal" fill="#93969a" stroke="#93969a" stroke-width="0.45" text-anchor="middle" font-family="Liberation Serif">C</text>
<text x="167.30" y="591.20" font-size="17" font-weight="normal" fill="#93969a" stroke="#93969a" stroke-width="0.45" text-anchor="middle" font-family="Liberation Serif">U</text>
<text x="179.02" y="591.20" font-size="17" font-weight="normal" fill="#93969a" stroke="#93969a" stroke-width="0.45" text-anchor="middle" font-family="Liberation Serif">G</text>
<text x="190.74" y="591.20" font-size="17" font-weight="normal" fill="#93969a" stroke="#93969a" stroke-width="0.45" text-anchor="middle" font-family="Liberation Serif">A</text>
<text x="202.46" y="591.20" font-size="17" font-weight="normal" fill="#93969a" stroke="#93969a" stroke-width="0.45" text-anchor="middle" font-family="Liberation Serif">A</text>
<text x="214.18" y="591.20" font-size="17" font-weight="normal" fill="#93969a" stroke="#93969a" stroke-width="0.45" text-anchor="middle" font-family="Liberation Serif">G</text>
<text x="225.90" y="591.20" font-size="17" font-weight="normal" fill="#93969a" stroke="#93969a" stroke-width="0.45" text-anchor="middle" font-family="Liberation Serif">G</text>
<text x="237.62" y="591.20" font-size="17" font-weight="normal" fill="#93969a" stroke="#93969a" stroke-width="0.45" text-anchor="middle" font-family="Liberation Serif">A</text>
<text x="249.34" y="591.20" font-size="17" font-weight="normal" fill="#93969a" stroke="#93969a" stroke-width="0.45" text-anchor="middle" font-family="Liberation Serif">A</text>
<text x="261.06" y="591.20" font-size="17" font-weight="normal" fill="#93969a" stroke="#93969a" stroke-width="0.45" text-anchor="middle" font-family="Liberation Serif">G</text>
<text x="272.78" y="591.20" font-size="17" font-weight="normal" fill="#93969a" stroke="#93969a" stroke-width="0.45" text-anchor="middle" font-family="Liberation Serif">G</text>
<text x="284.50" y="591.20" font-size="17" font-weight="normal" fill="#93969a" stroke="#93969a" stroke-width="0.45" text-anchor="middle" font-family="Liberation Serif">C</text>
<text x="296.22" y="591.20" font-size="17" font-weight="normal" fill="#93969a" stroke="#93969a" stroke-width="0.45" text-anchor="middle" font-family="Liberation Serif">U</text>
<text x="26.66" y="615.45" font-size="17" font-weight="normal" fill="#93969a" stroke="#93969a" stroke-width="0.45" text-anchor="middle" font-family="Liberation Serif">U</text>
<text x="38.38" y="615.45" font-size="17" font-weight="normal" fill="#93969a" stroke="#93969a" stroke-width="0.45" text-anchor="middle" font-family="Liberation Serif">G</text>
<text x="50.10" y="615.45" font-size="17" font-weight="normal" fill="#93969a" stroke="#93969a" stroke-width="0.45" text-anchor="middle" font-family="Liberation Serif">G</text>
<text x="61.82" y="615.45" font-size="17" font-weight="normal" fill="#93969a" stroke="#93969a" stroke-width="0.45" text-anchor="middle" font-family="Liberation Serif">A</text>
<text x="73.54" y="615.45" font-size="17" font-weight="bold" fill="#e5141c" stroke="#e5141c" stroke-width="0.25" text-anchor="middle" font-family="Liberation Serif">U</text>
<text x="85.26" y="615.45" font-size="17" font-weight="normal" fill="#93969a" stroke="#93969a" stroke-width="0.45" text-anchor="middle" font-family="Liberation Serif">C</text>
<text x="96.98" y="615.45" font-size="17" font-weight="normal" fill="#93969a" stroke="#93969a" stroke-width="0.45" text-anchor="middle" font-family="Liberation Serif">A</text>
<text x="108.70" y="615.45" font-size="17" font-weight="normal" fill="#93969a" stroke="#93969a" stroke-width="0.45" text-anchor="middle" font-family="Liberation Serif">A</text>
<text x="120.42" y="615.45" font-size="17" font-weight="normal" fill="#93969a" stroke="#93969a" stroke-width="0.45" text-anchor="middle" font-family="Liberation Serif">C</text>
<text x="132.14" y="615.45" font-size="17" font-weight="normal" fill="#93969a" stroke="#93969a" stroke-width="0.45" text-anchor="middle" font-family="Liberation Serif">A</text>
<text x="143.86" y="615.45" font-size="17" font-weight="normal" fill="#93969a" stroke="#93969a" stroke-width="0.45" text-anchor="middle" font-family="Liberation Serif">C</text>
<text x="155.58" y="615.45" font-size="17" font-weight="normal" fill="#93969a" stroke="#93969a" stroke-width="0.45" text-anchor="middle" font-family="Liberation Serif">C</text>
<text x="167.30" y="615.45" font-size="17" font-weight="normal" fill="#93969a" stroke="#93969a" stroke-width="0.45" text-anchor="middle" font-family="Liberation Serif">U</text>
<text x="179.02" y="615.45" font-size="17" font-weight="normal" fill="#93969a" stroke="#93969a" stroke-width="0.45" text-anchor="middle" font-family="Liberation Serif">G</text>
<text x="190.74" y="615.45" font-size="17" font-weight="normal" fill="#93969a" stroke="#93969a" stroke-width="0.45" text-anchor="middle" font-family="Liberation Serif">A</text>
<text x="202.46" y="615.45" font-size="17" font-weight="normal" fill="#93969a" stroke="#93969a" stroke-width="0.45" text-anchor="middle" font-family="Liberation Serif">A</text>
<text x="214.18" y="615.45" font-size="17" font-weight="normal" fill="#93969a" stroke="#93969a" stroke-width="0.45" text-anchor="middle" font-family="Liberation Serif">G</text>
<text x="225.90" y="615.45" font-size="17" font-weight="normal" fill="#93969a" stroke="#93969a" stroke-width="0.45" text-anchor="middle" font-family="Liberation Serif">G</text>
<text x="237.62" y="615.45" font-size="17" font-weight="normal" fill="#93969a" stroke="#93969a" stroke-width="0.45" text-anchor="middle" font-family="Liberation Serif">A</text>
<text x="249.34" y="615.45" font-size="17" font-weight="normal" fill="#93969a" stroke="#93969a" stroke-width="0.45" text-anchor="middle" font-family="Liberation Serif">A</text>
<text x="261.06" y="615.45" font-size="17" font-weight="normal" fill="#93969a" stroke="#93969a" stroke-width="0.45" text-anchor="middle" font-family="Liberation Serif">G</text>
<text x="272.78" y="615.45" font-size="17" font-weight="normal" fill="#93969a" stroke="#93969a" stroke-width="0.45" text-anchor="middle" font-family="Liberation Serif">G</text>
<text x="284.50" y="615.45" font-size="17" font-weight="normal" fill="#93969a" stroke="#93969a" stroke-width="0.45" text-anchor="middle" font-family="Liberation Serif">C</text>
<text x="296.22" y="615.45" font-size="17" font-weight="normal" fill="#93969a" stroke="#93969a" stroke-width="0.45" text-anchor="middle" font-family="Liberation Serif">U</text>
<text x="26.66" y="639.70" font-size="17" font-weight="normal" fill="#93969a" stroke="#93969a" stroke-width="0.45" text-anchor="middle" font-family="Liberation Serif">U</text>
<text x="38.38" y="639.70" font-size="17" font-weight="normal" fill="#93969a" stroke="#93969a" stroke-width="0.45" text-anchor="middle" font-family="Liberation Serif">G</text>
<text x="50.10" y="639.70" font-size="17" font-weight="normal" fill="#93969a" stroke="#93969a" stroke-width="0.45" text-anchor="middle" font-family="Liberation Serif">G</text>
<text x="61.82" y="639.70" font-size="17" font-weight="normal" fill="#93969a" stroke="#93969a" stroke-width="0.45" text-anchor="middle" font-family="Liberation Serif">A</text>
<text x="73.54" y="639.70" font-size="17" font-weight="normal" fill="#93969a" stroke="#93969a" stroke-width="0.45" text-anchor="middle" font-family="Liberation Serif">G</text>
<text x="85.26" y="639.70" font-size="17" font-weight="normal" fill="#93969a" stroke="#93969a" stroke-width="0.45" text-anchor="middle" font-family="Liberation Serif">C</text>
<text x="96.98" y="639.70" font-size="17" font-weight="bold" fill="#e5141c" stroke="#e5141c" stroke-width="0.25" text-anchor="middle" font-family="Liberation Serif">C</text>
<text x="108.70" y="639.70" font-size="17" font-weight="normal" fill="#93969a" stroke="#93969a" stroke-width="0.45" text-anchor="middle" font-family="Liberation Serif">A</text>
<text x="120.42" y="639.70" font-size="17" font-weight="normal" fill="#93969a" stroke="#93969a" stroke-width="0.45" text-anchor="middle" font-family="Liberation Serif">C</text>
<text x="132.14" y="639.70" font-size="17" font-weight="normal" fill="#93969a" stroke="#93969a" stroke-width="0.45" text-anchor="middle" font-family="Liberation Serif">A</text>
<text x="143.86" y="639.70" font-size="17" font-weight="normal" fill="#93969a" stroke="#93969a" stroke-width="0.45" text-anchor="middle" font-family="Liberation Serif">C</text>
<text x="155.58" y="639.70" font-size="17" font-weight="normal" fill="#93969a" stroke="#93969a" stroke-width="0.45" text-anchor="middle" font-family="Liberation Serif">C</text>
<text x="167.30" y="639.70" font-size="17" font-weight="normal" fill="#93969a" stroke="#93969a" stroke-width="0.45" text-anchor="middle" font-family="Liberation Serif">U</text>
<text x="179.02" y="639.70" font-size="17" font-weight="normal" fill="#93969a" stroke="#93969a" stroke-width="0.45" text-anchor="middle" font-family="Liberation Serif">G</text>
<text x="190.74" y="639.70" font-size="17" font-weight="normal" fill="#93969a" stroke="#93969a" stroke-width="0.45" text-anchor="middle" font-family="Liberation Serif">A</text>
<text x="202.46" y="639.70" font-size="17" font-weight="normal" fill="#93969a" stroke="#93969a" stroke-width="0.45" text-anchor="middle" font-family="Liberation Serif">A</text>
<text x="214.18" y="639.70" font-size="17" font-weight="normal" fill="#93969a" stroke="#93969a" stroke-width="0.45" text-anchor="middle" font-family="Liberation Serif">G</text>
<text x="225.90" y="639.70" font-size="17" font-weight="normal" fill="#93969a" stroke="#93969a" stroke-width="0.45" text-anchor="middle" font-family="Liberation Serif">G</text>
<text x="237.62" y="639.70" font-size="17" font-weight="normal" fill="#93969a" stroke="#93969a" stroke-width="0.45" text-anchor="middle" font-family="Liberation Serif">A</text>
<text x="249.34" y="639.70" font-size="17" font-weight="normal" fill="#93969a" stroke="#93969a" stroke-width="0.45" text-anchor="middle" font-family="Liberation Serif">A</text>
<text x="261.06" y="639.70" font-size="17" font-weight="normal" fill="#93969a" stroke="#93969a" stroke-width="0.45" text-anchor="middle" font-family="Liberation Serif">G</text>
<text x="272.78" y="639.70" font-size="17" font-weight="normal" fill="#93969a" stroke="#93969a" stroke-width="0.45" text-anchor="middle" font-family="Liberation Serif">G</text>
<text x="284.50" y="639.70" font-size="17" font-weight="normal" fill="#93969a" stroke="#93969a" stroke-width="0.45" text-anchor="middle" font-family="Liberation Serif">C</text>
<text x="296.22" y="639.70" font-size="17" font-weight="normal" fill="#93969a" stroke="#93969a" stroke-width="0.45" text-anchor="middle" font-family="Liberation Serif">U</text>
<text x="26.66" y="663.95" font-size="17" font-weight="normal" fill="#93969a" stroke="#93969a" stroke-width="0.45" text-anchor="middle" font-family="Liberation Serif">U</text>
<text x="38.38" y="663.95" font-size="17" font-weight="normal" fill="#93969a" stroke="#93969a" stroke-width="0.45" text-anchor="middle" font-family="Liberation Serif">G</text>
<text x="50.10" y="663.95" font-size="17" font-weight="normal" fill="#93969a" stroke="#93969a" stroke-width="0.45" text-anchor="middle" font-family="Liberation Serif">G</text>
<text x="61.82" y="663.95" font-size="17" font-weight="normal" fill="#93969a" stroke="#93969a" stroke-width="0.45" text-anchor="middle" font-family="Liberation Serif">A</text>
<text x="73.54" y="663.95" font-size="17" font-weight="normal" fill="#93969a" stroke="#93969a" stroke-width="0.45" text-anchor="middle" font-family="Liberation Serif">G</text>
<text x="85.26" y="663.95" font-size="17" font-weight="normal" fill="#93969a" stroke="#93969a" stroke-width="0.45" text-anchor="middle" font-family="Liberation Serif">C</text>
<text x="96.98" y="663.95" font-size="17" font-weight="normal" fill="#93969a" stroke="#93969a" stroke-width="0.45" text-anchor="middle" font-family="Liberation Serif">A</text>
<text x="108.70" y="663.95" font-size="17" font-weight="normal" fill="#93969a" stroke="#93969a" stroke-width="0.45" text-anchor="middle" font-family="Liberation Serif">A</text>
<text x="120.42" y="663.95" font-size="17" font-weight="bold" fill="#e5141c" stroke="#e5141c" stroke-width="0.25" text-anchor="middle" font-family="Liberation Serif">A</text>
<text x="132.14" y="663.95" font-size="17" font-weight="normal" fill="#93969a" stroke="#93969a" stroke-width="0.45" text-anchor="middle" font-family="Liberation Serif">A</text>
<text x="143.86" y="663.95" font-size="17" font-weight="normal" fill="#93969a" stroke="#93969a" stroke-width="0.45" text-anchor="middle" font-family="Liberation Serif">C</text>
<text x="155.58" y="663.95" font-size="17" font-weight="normal" fill="#93969a" stroke="#93969a" stroke-width="0.45" text-anchor="middle" font-family="Liberation Serif">C</text>
<text x="167.30" y="663.95" font-size="17" font-weight="normal" fill="#93969a" stroke="#93969a" stroke-width="0.45" text-anchor="middle" font-family="Liberation Serif">U</text>
<text x="179.02" y="663.95" font-size="17" font-weight="normal" fill="#93969a" stroke="#93969a" stroke-width="0.45" text-anchor="middle" font-family="Liberation Serif">G</text>
<text x="190.74" y="663.95" font-size="17" font-weight="normal" fill="#93969a" stroke="#93969a" stroke-width="0.45" text-anchor="middle" font-family="Liberation Serif">A</text>
<text x="202.46" y="663.95" font-size="17" font-weight="normal" fill="#93969a" stroke="#93969a" stroke-width="0.45" text-anchor="middle" font-family="Liberation Serif">A</text>
<text x="214.18" y="663.95" font-size="17" font-weight="normal" fill="#93969a" stroke="#93969a" stroke-width="0.45" text-anchor="middle" font-family="Liberation Serif">G</text>
<text x="225.90" y="663.95" font-size="17" font-weight="normal" fill="#93969a" stroke="#93969a" stroke-width="0.45" text-anchor="middle" font-family="Liberation Serif">G</text>
<text x="237.62" y="663.95" font-size="17" font-weight="normal" fill="#93969a" stroke="#93969a" stroke-width="0.45" text-anchor="middle" font-family="Liberation Serif">A</text>
<text x="249.34" y="663.95" font-size="17" font-weight="normal" fill="#93969a" stroke="#93969a" stroke-width="0.45" text-anchor="middle" font-family="Liberation Serif">A</text>
<text x="261.06" y="663.95" font-size="17" font-weight="normal" fill="#93969a" stroke="#93969a" stroke-width="0.45" text-anchor="middle" font-family="Liberation Serif">G</text>
<text x="272.78" y="663.95" font-size="17" font-weight="normal" fill="#93969a" stroke="#93969a" stroke-width="0.45" text-anchor="middle" font-family="Liberation Serif">G</text>
<text x="284.50" y="663.95" font-size="17" font-weight="normal" fill="#93969a" stroke="#93969a" stroke-width="0.45" text-anchor="middle" font-family="Liberation Serif">C</text>
<text x="296.22" y="663.95" font-size="17" font-weight="normal" fill="#93969a" stroke="#93969a" stroke-width="0.45" text-anchor="middle" font-family="Liberation Serif">U</text>
<text x="26.66" y="688.20" font-size="17" font-weight="normal" fill="#93969a" stroke="#93969a" stroke-width="0.45" text-anchor="middle" font-family="Liberation Serif">U</text>
<text x="38.38" y="688.20" font-size="17" font-weight="normal" fill="#93969a" stroke="#93969a" stroke-width="0.45" text-anchor="middle" font-family="Liberation Serif">G</text>
<text x="50.10" y="688.20" font-size="17" font-weight="normal" fill="#93969a" stroke="#93969a" stroke-width="0.45" text-anchor="middle" font-family="Liberation Serif">G</text>
<text x="61.82" y="688.20" font-size="17" font-weight="normal" fill="#93969a" stroke="#93969a" stroke-width="0.45" text-anchor="middle" font-family="Liberation Serif">A</text>
<text x="73.54" y="688.20" font-size="17" font-weight="normal" fill="#93969a" stroke="#93969a" stroke-width="0.45" text-anchor="middle" font-family="Liberation Serif">G</text>
<text x="85.26" y="688.20" font-size="17" font-weight="normal" fill="#93969a" stroke="#93969a" stroke-width="0.45" text-anchor="middle" font-family="Liberation Serif">C</text>
<text x="96.98" y="688.20" font-size="17" font-weight="normal" fill="#93969a" stroke="#93969a" stroke-width="0.45" text-anchor="middle" font-family="Liberation Serif">A</text>
<text x="108.70" y="688.20" font-size="17" font-weight="normal" fill="#93969a" stroke="#93969a" stroke-width="0.45" text-anchor="middle" font-family="Liberation Serif">A</text>
<text x="120.42" y="688.20" font-size="17" font-weight="normal" fill="#93969a" stroke="#93969a" stroke-width="0.45" text-anchor="middle" font-family="Liberation Serif">C</text>
<text x="132.14" y="688.20" font-size="17" font-weight="normal" fill="#93969a" stroke="#93969a" stroke-width="0.45" text-anchor="middle" font-family="Liberation Serif">A</text>
<text x="143.86" y="688.20" font-size="17" font-weight="bold" fill="#e5141c" stroke="#e5141c" stroke-width="0.25" text-anchor="middle" font-family="Liberation Serif">A</text>
<text x="155.58" y="688.20" font-size="17" font-weight="normal" fill="#93969a" stroke="#93969a" stroke-width="0.45" text-anchor="middle" font-family="Liberation Serif">C</text>
<text x="167.30" y="688.20" font-size="17" font-weight="normal" fill="#93969a" stroke="#93969a" stroke-width="0.45" text-anchor="middle" font-family="Liberation Serif">U</text>
<text x="179.02" y="688.20" font-size="17" font-weight="normal" fill="#93969a" stroke="#93969a" stroke-width="0.45" text-anchor="middle" font-family="Liberation Serif">G</text>
<text x="190.74" y="688.20" font-size="17" font-weight="normal" fill="#93969a" stroke="#93969a" stroke-width="0.45" text-anchor="middle" font-family="Liberation Serif">A</text>
<text x="202.46" y="688.20" font-size="17" font-weight="normal" fill="#93969a" stroke="#93969a" stroke-width="0.45" text-anchor="middle" font-family="Liberation Serif">A</text>
<text x="214.18" y="688.20" font-size="17" font-weight="normal" fill="#93969a" stroke="#93969a" stroke-width="0.45" text-anchor="middle" font-family="Liberation Serif">G</text>
<text x="225.90" y="688.20" font-size="17" font-weight="normal" fill="#93969a" stroke="#93969a" stroke-width="0.45" text-anchor="middle" font-family="Liberation Serif">G</text>
<text x="237.62" y="688.20" font-size="17" font-weight="normal" fill="#93969a" stroke="#93969a" stroke-width="0.45" text-anchor="middle" font-family="Liberation Serif">A</text>
<text x="249.34" y="688.20" font-size="17" font-weight="normal" fill="#93969a" stroke="#93969a" stroke-width="0.45" text-anchor="middle" font-family="Liberation Serif">A</text>
<text x="261.06" y="688.20" font-size="17" font-weight="normal" fill="#93969a" stroke="#93969a" stroke-width="0.45" text-anchor="middle" font-family="Liberation Serif">G</text>
<text x="272.78" y="688.20" font-size="17" font-weight="normal" fill="#93969a" stroke="#93969a" stroke-width="0.45" text-anchor="middle" font-family="Liberation Serif">G</text>
<text x="284.50" y="688.20" font-size="17" font-weight="normal" fill="#93969a" stroke="#93969a" stroke-width="0.45" text-anchor="middle" font-family="Liberation Serif">C</text>
<text x="296.22" y="688.20" font-size="17" font-weight="normal" fill="#93969a" stroke="#93969a" stroke-width="0.45" text-anchor="middle" font-family="Liberation Serif">U</text>
<text x="26.66" y="712.45" font-size="17" font-weight="normal" fill="#93969a" stroke="#93969a" stroke-width="0.45" text-anchor="middle" font-family="Liberation Serif">U</text>
<text x="38.38" y="712.45" font-size="17" font-weight="normal" fill="#93969a" stroke="#93969a" stroke-width="0.45" text-anchor="middle" font-family="Liberation Serif">G</text>
<text x="50.10" y="712.45" font-size="17" font-weight="normal" fill="#93969a" stroke="#93969a" stroke-width="0.45" text-anchor="middle" font-family="Liberation Serif">G</text>
<text x="61.82" y="712.45" font-size="17" font-weight="normal" fill="#93969a" stroke="#93969a" stroke-width="0.45" text-anchor="middle" font-family="Liberation Serif">A</text>
<text x="73.54" y="712.45" font-size="17" font-weight="normal" fill="#93969a" stroke="#93969a" stroke-width="0.45" text-anchor="middle" font-family="Liberation Serif">G</text>
<text x="85.26" y="712.45" font-size="17" font-weight="normal" fill="#93969a" stroke="#93969a" stroke-width="0.45" text-anchor="middle" font-family="Liberation Serif">C</text>
<text x="96.98" y="712.45" font-size="17" font-weight="normal" fill="#93969a" stroke="#93969a" stroke-width="0.45" text-anchor="middle" font-family="Liberation Serif">A</text>
<text x="108.70" y="712.45" font-size="17" font-weight="normal" fill="#93969a" stroke="#93969a" stroke-width="0.45" text-anchor="middle" font-family="Liberation Serif">A</text>
<text x="120.42" y="712.45" font-size="17" font-weight="normal" fill="#93969a" stroke="#93969a" stroke-width="0.45" text-anchor="middle" font-family="Liberation Serif">C</text>
<text x="132.14" y="712.45" font-size="17" font-weight="normal" fill="#93969a" stroke="#93969a" stroke-width="0.45" text-anchor="middle" font-family="Liberation Serif">A</text>
<text x="143.86" y="712.45" font-size="17" font-weight="normal" fill="#93969a" stroke="#93969a" stroke-width="0.45" text-anchor="middle" font-family="Liberation Serif">C</text>
<text x="155.58" y="712.45" font-size="17" font-weight="normal" fill="#93969a" stroke="#93969a" stroke-width="0.45" text-anchor="middle" font-family="Liberation Serif">C</text>
<text x="167.30" y="712.45" font-size="17" font-weight="bold" fill="#e5141c" stroke="#e5141c" stroke-width="0.25" text-anchor="middle" font-family="Liberation Serif">G</text>
<text x="179.02" y="712.45" font-size="17" font-weight="normal" fill="#93969a" stroke="#93969a" stroke-width="0.45" text-anchor="middle" font-family="Liberation Serif">G</text>
<text x="190.74" y="712.45" font-size="17" font-weight="normal" fill="#93969a" stroke="#93969a" stroke-width="0.45" text-anchor="middle" font-family="Liberation Serif">A</text>
<text x="202.46" y="712.45" font-size="17" font-weight="normal" fill="#93969a" stroke="#93969a" stroke-width="0.45" text-anchor="middle" font-family="Liberation Serif">A</text>
<text x="214.18" y="712.45" font-size="17" font-weight="normal" fill="#93969a" stroke="#93969a" stroke-width="0.45" text-anchor="middle" font-family="Liberation Serif">G</text>
<text x="225.90" y="712.45" font-size="17" font-weight="normal" fill="#93969a" stroke="#93969a" stroke-width="0.45" text-anchor="middle" font-family="Liberation Serif">G</text>
<text x="237.62" y="712.45" font-size="17" font-weight="normal" fill="#93969a" stroke="#93969a" stroke-width="0.45" text-anchor="middle" font-family="Liberation Serif">A</text>
<text x="249.34" y="712.45" font-size="17" font-weight="normal" fill="#93969a" stroke="#93969a" stroke-width="0.45" text-anchor="middle" font-family="Liberation Serif">A</text>
<text x="261.06" y="712.45" font-size="17" font-weight="normal" fill="#93969a" stroke="#93969a" stroke-width="0.45" text-anchor="middle" font-family="Liberation Serif">G</text>
<text x="272.78" y="712.45" font-size="17" font-weight="normal" fill="#93969a" stroke="#93969a" stroke-width="0.45" text-anchor="middle" font-family="Liberation Serif">G</text>
<text x="284.50" y="712.45" font-size="17" font-weight="normal" fill="#93969a" stroke="#93969a" stroke-width="0.45" text-anchor="middle" font-family="Liberation Serif">C</text>
<text x="296.22" y="712.45" font-size="17" font-weight="normal" fill="#93969a" stroke="#93969a" stroke-width="0.45" text-anchor="middle" font-family="Liberation Serif">U</text>
<text x="26.66" y="736.70" font-size="17" font-weight="normal" fill="#93969a" stroke="#93969a" stroke-width="0.45" text-anchor="middle" font-family="Liberation Serif">U</text>
<text x="38.38" y="736.70" font-size="17" font-weight="normal" fill="#93969a" stroke="#93969a" stroke-width="0.45" text-anchor="middle" font-family="Liberation Serif">G</text>
<text x="50.10" y="736.70" font-size="17" font-weight="normal" fill="#93969a" stroke="#93969a" stroke-width="0.45" text-anchor="middle" font-family="Liberation Serif">G</text>
<text x="61.82" y="736.70" font-size="17" font-weight="normal" fill="#93969a" stroke="#93969a" stroke-width="0.45" text-anchor="middle" font-family="Liberation Serif">A</text>
<text x="73.54" y="736.70" font-size="17" font-weight="normal" fill="#93969a" stroke="#93969a" stroke-width="0.45" text-anchor="middle" font-family="Liberation Serif">G</text>
<text x="85.26" y="736.70" font-size="17" font-weight="normal" fill="#93969a" stroke="#93969a" stroke-width="0.45" text-anchor="middle" font-family="Liberation Serif">C</text>
<text x="96.98" y="736.70" font-size="17" font-weight="normal" fill="#93969a" stroke="#93969a" stroke-width="0.45" text-anchor="middle" font-family="Liberation Serif">A</text>
<text x="108.70" y="736.70" font-size="17" font-weight="normal" fill="#93969a" stroke="#93969a" stroke-width="0.45" text-anchor="middle" font-family="Liberation Serif">A</text>
<text x="120.42" y="736.70" font-size="17" font-weight="normal" fill="#93969a" stroke="#93969a" stroke-width="0.45" text-anchor="middle" font-family="Liberation Serif">C</text>
<text x="132.14" y="736.70" font-size="17" font-weight="normal" fill="#93969a" stroke="#93969a" stroke-width="0.45" text-anchor="middle" font-family="Liberation Serif">A</text>
<text x="143.86" y="736.70" font-size="17" font-weight="normal" fill="#93969a" stroke="#93969a" stroke-width="0.45" text-anchor="middle" font-family="Liberation Serif">C</text>
<text x="155.58" y="736.70" font-size="17" font-weight="normal" fill="#93969a" stroke="#93969a" stroke-width="0.45" text-anchor="middle" font-family="Liberation Serif">C</text>
<text x="167.30" y="736.70" font-size="17" font-weight="normal" fill="#93969a" stroke="#93969a" stroke-width="0.45" text-anchor="middle" font-family="Liberation Serif">U</text>
<text x="179.02" y="736.70" font-size="17" font-weight="normal" fill="#93969a" stroke="#93969a" stroke-width="0.45" text-anchor="middle" font-family="Liberation Serif">G</text>
<text x="190.74" y="736.70" font-size="17" font-weight="bold" fill="#e5141c" stroke="#e5141c" stroke-width="0.25" text-anchor="middle" font-family="Liberation Serif">C</text>
<text x="202.46" y="736.70" font-size="17" font-weight="normal" fill="#93969a" stroke="#93969a" stroke-width="0.45" text-anchor="middle" font-family="Liberation Serif">A</text>
<text x="214.18" y="736.70" font-size="17" font-weight="normal" fill="#93969a" stroke="#93969a" stroke-width="0.45" text-anchor="middle" font-family="Liberation Serif">G</text>
<text x="225.90" y="736.70" font-size="17" font-weight="normal" fill="#93969a" stroke="#93969a" stroke-width="0.45" text-anchor="middle" font-family="Liberation Serif">G</text>
<text x="237.62" y="736.70" font-size="17" font-weight="normal" fill="#93969a" stroke="#93969a" stroke-width="0.45" text-anchor="middle" font-family="Liberation Serif">A</text>
<text x="249.34" y="736.70" font-size="17" font-weight="normal" fill="#93969a" stroke="#93969a" stroke-width="0.45" text-anchor="middle" font-family="Liberation Serif">A</text>
<text x="261.06" y="736.70" font-size="17" font-weight="normal" fill="#93969a" stroke="#93969a" stroke-width="0.45" text-anchor="middle" font-family="Liberation Serif">G</text>
<text x="272.78" y="736.70" font-size="17" font-weight="normal" fill="#93969a" stroke="#93969a" stroke-width="0.45" text-anchor="middle" font-family="Liberation Serif">G</text>
<text x="284.50" y="736.70" font-size="17" font-weight="normal" fill="#93969a" stroke="#93969a" stroke-width="0.45" text-anchor="middle" font-family="Liberation Serif">C</text>
<text x="296.22" y="736.70" font-size="17" font-weight="normal" fill="#93969a" stroke="#93969a" stroke-width="0.45" text-anchor="middle" font-family="Liberation Serif">U</text>
<text x="26.66" y="760.95" font-size="17" font-weight="normal" fill="#93969a" stroke="#93969a" stroke-width="0.45" text-anchor="middle" font-family="Liberation Serif">U</text>
<text x="38.38" y="760.95" font-size="17" font-weight="normal" fill="#93969a" stroke="#93969a" stroke-width="0.45" text-anchor="middle" font-family="Liberation Serif">G</text>
<text x="50.10" y="760.95" font-size="17" font-weight="normal" fill="#93969a" stroke="#93969a" stroke-width="0.45" text-anchor="middle" font-family="Liberation Serif">G</text>
<text x="61.82" y="760.95" font-size="17" font-weight="normal" fill="#93969a" stroke="#93969a" stroke-width="0.45" text-anchor="middle" font-family="Liberation Serif">A</text>
<text x="73.54" y="760.95" font-size="17" font-weight="normal" fill="#93969a" stroke="#93969a" stroke-width="0.45" text-anchor="middle" font-family="Liberation Serif">G</text>
<text x="85.26" y="760.95" font-size="17" font-weight="normal" fill="#93969a" stroke="#93969a" stroke-width="0.45" text-anchor="middle" font-family="Liberation Serif">C</text>
<text x="96.98" y="760.95" font-size="17" font-weight="normal" fill="#93969a" stroke="#93969a" stroke-width="0.45" text-anchor="middle" font-family="Liberation Serif">A</text>
<text x="108.70" y="760.95" font-size="17" font-weight="normal" fill="#93969a" stroke="#93969a" stroke-width="0.45" text-anchor="middle" font-family="Liberation Serif">A</text>
<text x="120.42" y="760.95" font-size="17" font-weight="normal" fill="#93969a" stroke="#93969a" stroke-width="0.45" text-anchor="middle" font-family="Liberation Serif">C</text>
<text x="132.14" y="760.95" font-size="17" font-weight="normal" fill="#93969a" stroke="#93969a" stroke-width="0.45" text-anchor="middle" font-family="Liberation Serif">A</text>
<text x="143.86" y="760.95" font-size="17" font-weight="normal" fill="#93969a" stroke="#93969a" stroke-width="0.45" text-anchor="middle" font-family="Liberation Serif">C</text>
<text x="155.58" y="760.95" font-size="17" font-weight="normal" fill="#93969a" stroke="#93969a" stroke-width="0.45" text-anchor="middle" font-family="Liberation Serif">C</text>
<text x="167.30" y="760.95" font-size="17" font-weight="normal" fill="#93969a" stroke="#93969a" stroke-width="0.45" text-anchor="middle" font-family="Liberation Serif">U</text>
<text x="179.02" y="760.95" font-size="17" font-weight="normal" fill="#93969a" stroke="#93969a" stroke-width="0.45" text-anchor="middle" font-family="Liberation Serif">G</text>
<text x="190.74" y="760.95" font-size="17" font-weight="normal" fill="#93969a" stroke="#93969a" stroke-width="0.45" text-anchor="middle" font-family="Liberation Serif">A</text>
<text x="202.46" y="760.95" font-size="17" font-weight="normal" fill="#93969a" stroke="#93969a" stroke-width="0.45" text-anchor="middle" font-family="Liberation Serif">A</text>
<text x="214.18" y="760.95" font-size="17" font-weight="bold" fill="#e5141c" stroke="#e5141c" stroke-width="0.25" text-anchor="middle" font-family="Liberation Serif">U</text>
<text x="225.90" y="760.95" font-size="17" font-weight="normal" fill="#93969a" stroke="#93969a" stroke-width="0.45" text-anchor="middle" font-family="Liberation Serif">G</text>
<text x="237.62" y="760.95" font-size="17" font-weight="normal" fill="#93969a" stroke="#93969a" stroke-width="0.45" text-anchor="middle" font-family="Liberation Serif">A</text>
<text x="249.34" y="760.95" font-size="17" font-weight="normal" fill="#93969a" stroke="#93969a" stroke-width="0.45" text-anchor="middle" font-family="Liberation Serif">A</text>
<text x="261.06" y="760.95" font-size="17" font-weight="normal" fill="#93969a" stroke="#93969a" stroke-width="0.45" text-anchor="middle" font-family="Liberation Serif">G</text>
<text x="272.78" y="760.95" font-size="17" font-weight="normal" fill="#93969a" stroke="#93969a" stroke-width="0.45" text-anchor="middle" font-family="Liberation Serif">G</text>
<text x="284.50" y="760.95" font-size="17" font-weight="normal" fill="#93969a" stroke="#93969a" stroke-width="0.45" text-anchor="middle" font-family="Liberation Serif">C</text>
<text x="296.22" y="760.95" font-size="17" font-weight="normal" fill="#93969a" stroke="#93969a" stroke-width="0.45" text-anchor="middle" font-family="Liberation Serif">U</text>
<text x="26.66" y="785.20" font-size="17" font-weight="normal" fill="#93969a" stroke="#93969a" stroke-width="0.45" text-anchor="middle" font-family="Liberation Serif">U</text>
<text x="38.38" y="785.20" font-size="17" font-weight="normal" fill="#93969a" stroke="#93969a" stroke-width="0.45" text-anchor="middle" font-family="Liberation Serif">G</text>
<text x="50.10" y="785.20" font-size="17" font-weight="normal" fill="#93969a" stroke="#93969a" stroke-width="0.45" text-anchor="middle" font-family="Liberation Serif">G</text>
<text x="61.82" y="785.20" font-size="17" font-weight="normal" fill="#93969a" stroke="#93969a" stroke-width="0.45" text-anchor="middle" font-family="Liberation Serif">A</text>
<text x="73.54" y="785.20" font-size="17" font-weight="normal" fill="#93969a" stroke="#93969a" stroke-width="0.45" text-anchor="middle" font-family="Liberation Serif">G</text>
<text x="85.26" y="785.20" font-size="17" font-weight="normal" fill="#93969a" stroke="#93969a" stroke-width="0.45" text-anchor="middle" font-family="Liberation Serif">C</text>
<text x="96.98" y="785.20" font-size="17" font-weight="normal" fill="#93969a" stroke="#93969a" stroke-width="0.45" text-anchor="middle" font-family="Liberation Serif">A</text>
<text x="108.70" y="785.20" font-size="17" font-weight="normal" fill="#93969a" stroke="#93969a" stroke-width="0.45" text-anchor="middle" font-family="Liberation Serif">A</text>
<text x="120.42" y="785.20" font-size="17" font-weight="normal" fill="#93969a" stroke="#93969a" stroke-width="0.45" text-anchor="middle" font-family="Liberation Serif">C</text>
<text x="132.14" y="785.20" font-size="17" font-weight="normal" fill="#93969a" stroke="#93969a" stroke-width="0.45" text-anchor="middle" font-family="Liberation Serif">A</text>
<text x="143.86" y="785.20" font-size="17" font-weight="normal" fill="#93969a" stroke="#93969a" stroke-width="0.45" text-anchor="middle" font-family="Liberation Serif">C</text>
<text x="155.58" y="785.20" font-size="17" font-weight="normal" fill="#93969a" stroke="#93969a" stroke-width="0.45" text-anchor="middle" font-family="Liberation Serif">C</text>
<text x="167.30" y="785.20" font-size="17" font-weight="normal" fill="#93969a" stroke="#93969a" stroke-width="0.45" text-anchor="middle" font-family="Liberation Serif">U</text>
<text x="179.02" y="785.20" font-size="17" font-weight="normal" fill="#93969a" stroke="#93969a" stroke-width="0.45" text-anchor="middle" font-family="Liberation Serif">G</text>
<text x="190.74" y="785.20" font-size="17" font-weight="normal" fill="#93969a" stroke="#93969a" stroke-width="0.45" text-anchor="middle" font-family="Liberation Serif">A</text>
<text x="202.46" y="785.20" font-size="17" font-weight="normal" fill="#93969a" stroke="#93969a" stroke-width="0.45" text-anchor="middle" font-family="Liberation Serif">A</text>
<text x="214.18" y="785.20" font-size="17" font-weight="normal" fill="#93969a" stroke="#93969a" stroke-width="0.45" text-anchor="middle" font-family="Liberation Serif">G</text>
<text x="225.90" y="785.20" font-size="17" font-weight="normal" fill="#93969a" stroke="#93969a" stroke-width="0.45" text-anchor="middle" font-family="Liberation Serif">G</text>
<text x="237.62" y="785.20" font-size="17" font-weight="bold" fill="#e5141c" stroke="#e5141c" stroke-width="0.25" text-anchor="middle" font-family="Liberation Serif">C</text>
<text x="249.34" y="785.20" font-size="17" font-weight="normal" fill="#93969a" stroke="#93969a" stroke-width="0.45" text-anchor="middle" font-family="Liberation Serif">A</text>
<text x="261.06" y="785.20" font-size="17" font-weight="normal" fill="#93969a" stroke="#93969a" stroke-width="0.45" text-anchor="middle" font-family="Liberation Serif">G</text>
<text x="272.78" y="785.20" font-size="17" font-weight="normal" fill="#93969a" stroke="#93969a" stroke-width="0.45" text-anchor="middle" font-family="Liberation Serif">G</text>
<text x="284.50" y="785.20" font-size="17" font-weight="normal" fill="#93969a" stroke="#93969a" stroke-width="0.45" text-anchor="middle" font-family="Liberation Serif">C</text>
<text x="296.22" y="785.20" font-size="17" font-weight="normal" fill="#93969a" stroke="#93969a" stroke-width="0.45" text-anchor="middle" font-family="Liberation Serif">U</text>
<text x="26.66" y="809.45" font-size="17" font-weight="normal" fill="#93969a" stroke="#93969a" stroke-width="0.45" text-anchor="middle" font-family="Liberation Serif">U</text>
<text x="38.38" y="809.45" font-size="17" font-weight="normal" fill="#93969a" stroke="#93969a" stroke-width="0.45" text-anchor="middle" font-family="Liberation Serif">G</text>
<text x="50.10" y="809.45" font-size="17" font-weight="normal" fill="#93969a" stroke="#93969a" stroke-width="0.45" text-anchor="middle" font-family="Liberation Serif">G</text>
<text x="61.82" y="809.45" font-size="17" font-weight="normal" fill="#93969a" stroke="#93969a" stroke-width="0.45" text-anchor="middle" font-family="Liberation Serif">A</text>
<text x="73.54" y="809.45" font-size="17" font-weight="normal" fill="#93969a" stroke="#93969a" stroke-width="0.45" text-anchor="middle" font-family="Liberation Serif">G</text>
<text x="85.26" y="809.45" font-size="17" font-weight="normal" fill="#93969a" stroke="#93969a" stroke-width="0.45" text-anchor="middle" font-family="Liberation Serif">C</text>
<text x="96.98" y="809.45" font-size="17" font-weight="normal" fill="#93969a" stroke="#93969a" stroke-width="0.45" text-anchor="middle" font-family="Liberation Serif">A</text>
<text x="108.70" y="809.45" font-size="17" font-weight="normal" fill="#93969a" stroke="#93969a" stroke-width="0.45" text-anchor="middle" font-family="Liberation Serif">A</text>
<text x="120.42" y="809.45" font-size="17" font-weight="normal" fill="#93969a" stroke="#93969a" stroke-width="0.45" text-anchor="middle" font-family="Liberation Serif">C</text>
<text x="132.14" y="809.45" font-size="17" font-weight="normal" fill="#93969a" stroke="#93969a" stroke-width="0.45" text-anchor="middle" font-family="Liberation Serif">A</text>
<text x="143.86" y="809.45" font-size="17" font-weight="normal" fill="#93969a" stroke="#93969a" stroke-width="0.45" text-anchor="middle" font-family="Liberation Serif">C</text>
<text x="155.58" y="809.45" font-size="17" font-weight="normal" fill="#93969a" stroke="#93969a" stroke-width="0.45" text-anchor="middle" font-family="Liberation Serif">C</text>
<text x="167.30" y="809.45" font-size="17" font-weight="normal" fill="#93969a" stroke="#93969a" stroke-width="0.45" text-anchor="middle" font-family="Liberation Serif">U</text>
<text x="179.02" y="809.45" font-size="17" font-weight="normal" fill="#93969a" stroke="#93969a" stroke-width="0.45" text-anchor="middle" font-family="Liberation Serif">G</text>
<text x="190.74" y="809.45" font-size="17" font-weight="normal" fill="#93969a" stroke="#93969a" stroke-width="0.45" text-anchor="middle" font-family="Liberation Serif">A</text>
<text x="202.46" y="809.45" font-size="17" font-weight="normal" fill="#93969a" stroke="#93969a" stroke-width="0.45" text-anchor="middle" font-family="Liberation Serif">A</text>
<text x="214.18" y="809.45" font-size="17" font-weight="normal" fill="#93969a" stroke="#93969a" stroke-width="0.45" text-anchor="middle" font-family="Liberation Serif">G</text>
<text x="225.90" y="809.45" font-size="17" font-weight="normal" fill="#93969a" stroke="#93969a" stroke-width="0.45" text-anchor="middle" font-family="Liberation Serif">G</text>
<text x="237.62" y="809.45" font-size="17" font-weight="normal" fill="#93969a" stroke="#93969a" stroke-width="0.45" text-anchor="middle" font-family="Liberation Serif">A</text>
<text x="249.34" y="809.45" font-size="17" font-weight="normal" fill="#93969a" stroke="#93969a" stroke-width="0.45" text-anchor="middle" font-family="Liberation Serif">A</text>
<text x="261.06" y="809.45" font-size="17" font-weight="bold" fill="#e5141c" stroke="#e5141c" stroke-width="0.25" text-anchor="middle" font-family="Liberation Serif">U</text>
<text x="272.78" y="809.45" font-size="17" font-weight="normal" fill="#93969a" stroke="#93969a" stroke-width="0.45" text-anchor="middle" font-family="Liberation Serif">G</text>
<text x="284.50" y="809.45" font-size="17" font-weight="normal" fill="#93969a" stroke="#93969a" stroke-width="0.45" text-anchor="middle" font-family="Liberation Serif">C</text>
<text x="296.22" y="809.45" font-size="17" font-weight="normal" fill="#93969a" stroke="#93969a" stroke-width="0.45" text-anchor="middle" font-family="Liberation Serif">U</text>
<text x="26.66" y="833.70" font-size="17" font-weight="normal" fill="#93969a" stroke="#93969a" stroke-width="0.45" text-anchor="middle" font-family="Liberation Serif">U</text>
<text x="38.38" y="833.70" font-size="17" font-weight="normal" fill="#93969a" stroke="#93969a" stroke-width="0.45" text-anchor="middle" font-family="Liberation Serif">G</text>
<text x="50.10" y="833.70" font-size="17" font-weight="normal" fill="#93969a" stroke="#93969a" stroke-width="0.45" text-anchor="middle" font-family="Liberation Serif">G</text>
<text x="61.82" y="833.70" font-size="17" font-weight="normal" fill="#93969a" stroke="#93969a" stroke-width="0.45" text-anchor="middle" font-family="Liberation Serif">A</text>
<text x="73.54" y="833.70" font-size="17" font-weight="normal" fill="#93969a" stroke="#93969a" stroke-width="0.45" text-anchor="middle" font-family="Liberation Serif">G</text>
<text x="85.26" y="833.70" font-size="17" font-weight="normal" fill="#93969a" stroke="#93969a" stroke-width="0.45" text-anchor="middle" font-family="Liberation Serif">C</text>
<text x="96.98" y="833.70" font-size="17" font-weight="normal" fill="#93969a" stroke="#93969a" stroke-width="0.45" text-anchor="middle" font-family="Liberation Serif">A</text>
<text x="108.70" y="833.70" font-size="17" font-weight="normal" fill="#93969a" stroke="#93969a" stroke-width="0.45" text-anchor="middle" font-family="Liberation Serif">A</text>
<text x="120.42" y="833.70" font-size="17" font-weight="normal" fill="#93969a" stroke="#93969a" stroke-width="0.45" text-anchor="middle" font-family="Liberation Serif">C</text>
<text x="132.14" y="833.70" font-size="17" font-weight="normal" fill="#93969a" stroke="#93969a" stroke-width="0.45" text-anchor="middle" font-family="Liberation Serif">A</text>
<text x="143.86" y="833.70" font-size="17" font-weight="normal" fill="#93969a" stroke="#93969a" stroke-width="0.45" text-anchor="middle" font-family="Liberation Serif">C</text>
<text x="155.58" y="833.70" font-size="17" font-weight="normal" fill="#93969a" stroke="#93969a" stroke-width="0.45" text-anchor="middle" font-family="Liberation Serif">C</text>
<text x="167.30" y="833.70" font-size="17" font-weight="normal" fill="#93969a" stroke="#93969a" stroke-width="0.45" text-anchor="middle" font-family="Liberation Serif">U</text>
<text x="179.02" y="833.70" font-size="17" font-weight="normal" fill="#93969a" stroke="#93969a" stroke-width="0.45" text-anchor="middle" font-family="Liberation Serif">G</text>
<text x="190.74" y="833.70" font-size="17" font-weight="normal" fill="#93969a" stroke="#93969a" stroke-width="0.45" text-anchor="middle" font-family="Liberation Serif">A</text>
<text x="202.46" y="833.70" font-size="17" font-weight="normal" fill="#93969a" stroke="#93969a" stroke-width="0.45" text-anchor="middle" font-family="Liberation Serif">A</text>
<text x="214.18" y="833.70" font-size="17" font-weight="normal" fill="#93969a" stroke="#93969a" stroke-width="0.45" text-anchor="middle" font-family="Liberation Serif">G</text>
<text x="225.90" y="833.70" font-size="17" font-weight="normal" fill="#93969a" stroke="#93969a" stroke-width="0.45" text-anchor="middle" font-family="Liberation Serif">G</text>
<text x="237.62" y="833.70" font-size="17" font-weight="normal" fill="#93969a" stroke="#93969a" stroke-width="0.45" text-anchor="middle" font-family="Liberation Serif">A</text>
<text x="249.34" y="833.70" font-size="17" font-weight="normal" fill="#93969a" stroke="#93969a" stroke-width="0.45" text-anchor="middle" font-family="Liberation Serif">A</text>
<text x="261.06" y="833.70" font-size="17" font-weight="normal" fill="#93969a" stroke="#93969a" stroke-width="0.45" text-anchor="middle" font-family="Liberation Serif">G</text>
<text x="272.78" y="833.70" font-size="17" font-weight="normal" fill="#93969a" stroke="#93969a" stroke-width="0.45" text-anchor="middle" font-family="Liberation Serif">G</text>
<text x="284.50" y="833.70" font-size="17" font-weight="bold" fill="#e5141c" stroke="#e5141c" stroke-width="0.25" text-anchor="middle" font-family="Liberation Serif">A</text>
<text x="296.22" y="833.70" font-size="17" font-weight="normal" fill="#93969a" stroke="#93969a" stroke-width="0.45" text-anchor="middle" font-family="Liberation Serif">U</text>
<text x="26.66" y="857.95" font-size="17" font-weight="bold" fill="#e5141c" stroke="#e5141c" stroke-width="0.25" text-anchor="middle" font-family="Liberation Serif">G</text>
<text x="38.38" y="857.95" font-size="17" font-weight="normal" fill="#93969a" stroke="#93969a" stroke-width="0.45" text-anchor="middle" font-family="Liberation Serif">G</text>
<text x="50.10" y="857.95" font-size="17" font-weight="normal" fill="#93969a" stroke="#93969a" stroke-width="0.45" text-anchor="middle" font-family="Liberation Serif">G</text>
<text x="61.82" y="857.95" font-size="17" font-weight="normal" fill="#93969a" stroke="#93969a" stroke-width="0.45" text-anchor="middle" font-family="Liberation Serif">A</text>
<text x="73.54" y="857.95" font-size="17" font-weight="bold" fill="#e5141c" stroke="#e5141c" stroke-width="0.25" text-anchor="middle" font-family="Liberation Serif">U</text>
<text x="85.26" y="857.95" font-size="17" font-weight="normal" fill="#93969a" stroke="#93969a" stroke-width="0.45" text-anchor="middle" font-family="Liberation Serif">C</text>
<text x="96.98" y="857.95" font-size="17" font-weight="normal" fill="#93969a" stroke="#93969a" stroke-width="0.45" text-anchor="middle" font-family="Liberation Serif">A</text>
<text x="108.70" y="857.95" font-size="17" font-weight="normal" fill="#93969a" stroke="#93969a" stroke-width="0.45" text-anchor="middle" font-family="Liberation Serif">A</text>
<text x="120.42" y="857.95" font-size="17" font-weight="normal" fill="#93969a" stroke="#93969a" stroke-width="0.45" text-anchor="middle" font-family="Liberation Serif">C</text>
<text x="132.14" y="857.95" font-size="17" font-weight="normal" fill="#93969a" stroke="#93969a" stroke-width="0.45" text-anchor="middle" font-family="Liberation Serif">A</text>
<text x="143.86" y="857.95" font-size="17" font-weight="normal" fill="#93969a" stroke="#93969a" stroke-width="0.45" text-anchor="middle" font-family="Liberation Serif">C</text>
<text x="155.58" y="857.95" font-size="17" font-weight="normal" fill="#93969a" stroke="#93969a" stroke-width="0.45" text-anchor="middle" font-family="Liberation Serif">C</text>
<text x="167.30" y="857.95" font-size="17" font-weight="normal" fill="#93969a" stroke="#93969a" stroke-width="0.45" text-anchor="middle" font-family="Liberation Serif">U</text>
<text x="179.02" y="857.95" font-size="17" font-weight="normal" fill="#93969a" stroke="#93969a" stroke-width="0.45" text-anchor="middle" font-family="Liberation Serif">G</text>
<text x="190.74" y="857.95" font-size="17" font-weight="normal" fill="#93969a" stroke="#93969a" stroke-width="0.45" text-anchor="middle" font-family="Liberation Serif">A</text>
<text x="202.46" y="857.95" font-size="17" font-weight="normal" fill="#93969a" stroke="#93969a" stroke-width="0.45" text-anchor="middle" font-family="Liberation Serif">A</text>
<text x="214.18" y="857.95" font-size="17" font-weight="normal" fill="#93969a" stroke="#93969a" stroke-width="0.45" text-anchor="middle" font-family="Liberation Serif">G</text>
<text x="225.90" y="857.95" font-size="17" font-weight="normal" fill="#93969a" stroke="#93969a" stroke-width="0.45" text-anchor="middle" font-family="Liberation Serif">G</text>
<text x="237.62" y="857.95" font-size="17" font-weight="normal" fill="#93969a" stroke="#93969a" stroke-width="0.45" text-anchor="middle" font-family="Liberation Serif">A</text>
<text x="249.34" y="857.95" font-size="17" font-weight="normal" fill="#93969a" stroke="#93969a" stroke-width="0.45" text-anchor="middle" font-family="Liberation Serif">A</text>
<text x="261.06" y="857.95" font-size="17" font-weight="normal" fill="#93969a" stroke="#93969a" stroke-width="0.45" text-anchor="middle" font-family="Liberation Serif">G</text>
<text x="272.78" y="857.95" font-size="17" font-weight="normal" fill="#93969a" stroke="#93969a" stroke-width="0.45" text-anchor="middle" font-family="Liberation Serif">G</text>
<text x="284.50" y="857.95" font-size="17" font-weight="normal" fill="#93969a" stroke="#93969a" stroke-width="0.45" text-anchor="middle" font-family="Liberation Serif">C</text>
<text x="296.22" y="857.95" font-size="17" font-weight="normal" fill="#93969a" stroke="#93969a" stroke-width="0.45" text-anchor="middle" font-family="Liberation Serif">U</text>
<text x="26.66" y="882.20" font-size="17" font-weight="normal" fill="#93969a" stroke="#93969a" stroke-width="0.45" text-anchor="middle" font-family="Liberation Serif">U</text>
<text x="38.38" y="882.20" font-size="17" font-weight="normal" fill="#93969a" stroke="#93969a" stroke-width="0.45" text-anchor="middle" font-family="Liberation Serif">G</text>
<text x="50.10" y="882.20" font-size="17" font-weight="normal" fill="#93969a" stroke="#93969a" stroke-width="0.45" text-anchor="middle" font-family="Liberation Serif">G</text>
<text x="61.82" y="882.20" font-size="17" font-weight="normal" fill="#93969a" stroke="#93969a" stroke-width="0.45" text-anchor="middle" font-family="Liberation Serif">A</text>
<text x="73.54" y="882.20" font-size="17" font-weight="normal" fill="#93969a" stroke="#93969a" stroke-width="0.45" text-anchor="middle" font-family="Liberation Serif">G</text>
<text x="85.26" y="882.20" font-size="17" font-weight="normal" fill="#93969a" stroke="#93969a" stroke-width="0.45" text-anchor="middle" font-family="Liberation Serif">C</text>
<text x="96.98" y="882.20" font-size="17" font-weight="normal" fill="#93969a" stroke="#93969a" stroke-width="0.45" text-anchor="middle" font-family="Liberation Serif">A</text>
<text x="108.70" y="882.20" font-size="17" font-weight="normal" fill="#93969a" stroke="#93969a" stroke-width="0.45" text-anchor="middle" font-family="Liberation Serif">A</text>
<text x="120.42" y="882.20" font-size="17" font-weight="bold" fill="#e5141c" stroke="#e5141c" stroke-width="0.25" text-anchor="middle" font-family="Liberation Serif">A</text>
<text x="132.14" y="882.20" font-size="17" font-weight="normal" fill="#93969a" stroke="#93969a" stroke-width="0.45" text-anchor="middle" font-family="Liberation Serif">A</text>
<text x="143.86" y="882.20" font-size="17" font-weight="normal" fill="#93969a" stroke="#93969a" stroke-width="0.45" text-anchor="middle" font-family="Liberation Serif">C</text>
<text x="155.58" y="882.20" font-size="17" font-weight="normal" fill="#93969a" stroke="#93969a" stroke-width="0.45" text-anchor="middle" font-family="Liberation Serif">C</text>
<text x="167.30" y="882.20" font-size="17" font-weight="normal" fill="#93969a" stroke="#93969a" stroke-width="0.45" text-anchor="middle" font-family="Liberation Serif">U</text>
<text x="179.02" y="882.20" font-size="17" font-weight="normal" fill="#93969a" stroke="#93969a" stroke-width="0.45" text-anchor="middle" font-family="Liberation Serif">G</text>
<text x="190.74" y="882.20" font-size="17" font-weight="bold" fill="#e5141c" stroke="#e5141c" stroke-width="0.25" text-anchor="middle" font-family="Liberation Serif">C</text>
<text x="202.46" y="882.20" font-size="17" font-weight="normal" fill="#93969a" stroke="#93969a" stroke-width="0.45" text-anchor="middle" font-family="Liberation Serif">A</text>
<text x="214.18" y="882.20" font-size="17" font-weight="normal" fill="#93969a" stroke="#93969a" stroke-width="0.45" text-anchor="middle" font-family="Liberation Serif">G</text>
<text x="225.90" y="882.20" font-size="17" font-weight="normal" fill="#93969a" stroke="#93969a" stroke-width="0.45" text-anchor="middle" font-family="Liberation Serif">G</text>
<text x="237.62" y="882.20" font-size="17" font-weight="normal" fill="#93969a" stroke="#93969a" stroke-width="0.45" text-anchor="middle" font-family="Liberation Serif">A</text>
<text x="249.34" y="882.20" font-size="17" font-weight="normal" fill="#93969a" stroke="#93969a" stroke-width="0.45" text-anchor="middle" font-family="Liberation Serif">A</text>
<text x="261.06" y="882.20" font-size="17" font-weight="normal" fill="#93969a" stroke="#93969a" stroke-width="0.45" text-anchor="middle" font-family="Liberation Serif">G</text>
<text x="272.78" y="882.20" font-size="17" font-weight="normal" fill="#93969a" stroke="#93969a" stroke-width="0.45" text-anchor="middle" font-family="Liberation Serif">G</text>
<text x="284.50" y="882.20" font-size="17" font-weight="normal" fill="#93969a" stroke="#93969a" stroke-width="0.45" text-anchor="middle" font-family="Liberation Serif">C</text>
<text x="296.22" y="882.20" font-size="17" font-weight="normal" fill="#93969a" stroke="#93969a" stroke-width="0.45" text-anchor="middle" font-family="Liberation Serif">U</text>
<text x="26.66" y="906.45" font-size="17" font-weight="normal" fill="#93969a" stroke="#93969a" stroke-width="0.45" text-anchor="middle" font-family="Liberation Serif">U</text>
<text x="38.38" y="906.45" font-size="17" font-weight="normal" fill="#93969a" stroke="#93969a" stroke-width="0.45" text-anchor="middle" font-family="Liberation Serif">G</text>
<text x="50.10" y="906.45" font-size="17" font-weight="normal" fill="#93969a" stroke="#93969a" stroke-width="0.45" text-anchor="middle" font-family="Liberation Serif">G</text>
<text x="61.82" y="906.45" font-size="17" font-weight="normal" fill="#93969a" stroke="#93969a" stroke-width="0.45" text-anchor="middle" font-family="Liberation Serif">A</text>
<text x="73.54" y="906.45" font-size="17" font-weight="normal" fill="#93969a" stroke="#93969a" stroke-width="0.45" text-anchor="middle" font-family="Liberation Serif">G</text>
<text x="85.26" y="906.45" font-size="17" font-weight="normal" fill="#93969a" stroke="#93969a" stroke-width="0.45" text-anchor="middle" font-family="Liberation Serif">C</text>
<text x="96.98" y="906.45" font-size="17" font-weight="normal" fill="#93969a" stroke="#93969a" stroke-width="0.45" text-anchor="middle" font-family="Liberation Serif">A</text>
<text x="108.70" y="906.45" font-size="17" font-weight="normal" fill="#93969a" stroke="#93969a" stroke-width="0.45" text-anchor="middle" font-family="Liberation Serif">A</text>
<text x="120.42" y="906.45" font-size="17" font-weight="normal" fill="#93969a" stroke="#93969a" stroke-width="0.45" text-anchor="middle" font-family="Liberation Serif">C</text>
<text x="132.14" y="906.45" font-size="17" font-weight="normal" fill="#93969a" stroke="#93969a" stroke-width="0.45" text-anchor="middle" font-family="Liberation Serif">A</text>
<text x="143.86" y="906.45" font-size="17" font-weight="normal" fill="#93969a" stroke="#93969a" stroke-width="0.45" text-anchor="middle" font-family="Liberation Serif">C</text>
<text x="155.58" y="906.45" font-size="17" font-weight="normal" fill="#93969a" stroke="#93969a" stroke-width="0.45" text-anchor="middle" font-family="Liberation Serif">C</text>
<text x="167.30" y="906.45" font-size="17" font-weight="normal" fill="#93969a" stroke="#93969a" stroke-width="0.45" text-anchor="middle" font-family="Liberation Serif">U</text>
<text x="179.02" y="906.45" font-size="17" font-weight="normal" fill="#93969a" stroke="#93969a" stroke-width="0.45" text-anchor="middle" font-family="Liberation Serif">G</text>
<text x="190.74" y="906.45" font-size="17" font-weight="normal" fill="#93969a" stroke="#93969a" stroke-width="0.45" text-anchor="middle" font-family="Liberation Serif">A</text>
<text x="202.46" y="906.45" font-size="17" font-weight="normal" fill="#93969a" stroke="#93969a" stroke-width="0.45" text-anchor="middle" font-family="Liberation Serif">A</text>
<text x="214.18" y="906.45" font-size="17" font-weight="normal" fill="#93969a" stroke="#93969a" stroke-width="0.45" text-anchor="middle" font-family="Liberation Serif">G</text>
<text x="225.90" y="906.45" font-size="17" font-weight="normal" fill="#93969a" stroke="#93969a" stroke-width="0.45" text-anchor="middle" font-family="Liberation Serif">G</text>
<text x="237.62" y="906.45" font-size="17" font-weight="bold" fill="#e5141c" stroke="#e5141c" stroke-width="0.25" text-anchor="middle" font-family="Liberation Serif">C</text>
<text x="249.34" y="906.45" font-size="17" font-weight="normal" fill="#93969a" stroke="#93969a" stroke-width="0.45" text-anchor="middle" font-family="Liberation Serif">A</text>
<text x="261.06" y="906.45" font-size="17" font-weight="normal" fill="#93969a" stroke="#93969a" stroke-width="0.45" text-anchor="middle" font-family="Liberation Serif">G</text>
<text x="272.78" y="906.45" font-size="17" font-weight="normal" fill="#93969a" stroke="#93969a" stroke-width="0.45" text-anchor="middle" font-family="Liberation Serif">G</text>
<text x="284.50" y="906.45" font-size="17" font-weight="bold" fill="#e5141c" stroke="#e5141c" stroke-width="0.25" text-anchor="middle" font-family="Liberation Serif">A</text>
<text x="296.22" y="906.45" font-size="17" font-weight="normal" fill="#93969a" stroke="#93969a" stroke-width="0.45" text-anchor="middle" font-family="Liberation Serif">U</text>
<text x="26.66" y="930.70" font-size="17" font-weight="bold" fill="#e5141c" stroke="#e5141c" stroke-width="0.25" text-anchor="middle" font-family="Liberation Serif">G</text>
<text x="38.38" y="930.70" font-size="17" font-weight="normal" fill="#93969a" stroke="#93969a" stroke-width="0.45" text-anchor="middle" font-family="Liberation Serif">G</text>
<text x="50.10" y="930.70" font-size="17" font-weight="normal" fill="#93969a" stroke="#93969a" stroke-width="0.45" text-anchor="middle" font-family="Liberation Serif">G</text>
<text x="61.82" y="930.70" font-size="17" font-weight="normal" fill="#93969a" stroke="#93969a" stroke-width="0.45" text-anchor="middle" font-family="Liberation Serif">A</text>
<text x="73.54" y="930.70" font-size="17" font-weight="bold" fill="#e5141c" stroke="#e5141c" stroke-width="0.25" text-anchor="middle" font-family="Liberation Serif">U</text>
<text x="85.26" y="930.70" font-size="17" font-weight="normal" fill="#93969a" stroke="#93969a" stroke-width="0.45" text-anchor="middle" font-family="Liberation Serif">C</text>
<text x="96.98" y="930.70" font-size="17" font-weight="normal" fill="#93969a" stroke="#93969a" stroke-width="0.45" text-anchor="middle" font-family="Liberation Serif">A</text>
<text x="108.70" y="930.70" font-size="17" font-weight="normal" fill="#93969a" stroke="#93969a" stroke-width="0.45" text-anchor="middle" font-family="Liberation Serif">A</text>
<text x="120.42" y="930.70" font-size="17" font-weight="bold" fill="#e5141c" stroke="#e5141c" stroke-width="0.25" text-anchor="middle" font-family="Liberation Serif">A</text>
<text x="132.14" y="930.70" font-size="17" font-weight="normal" fill="#93969a" stroke="#93969a" stroke-width="0.45" text-anchor="middle" font-family="Liberation Serif">A</text>
<text x="143.86" y="930.70" font-size="17" font-weight="normal" fill="#93969a" stroke="#93969a" stroke-width="0.45" text-anchor="middle" font-family="Liberation Serif">C</text>
<text x="155.58" y="930.70" font-size="17" font-weight="normal" fill="#93969a" stroke="#93969a" stroke-width="0.45" text-anchor="middle" font-family="Liberation Serif">C</text>
<text x="167.30" y="930.70" font-size="17" font-weight="normal" fill="#93969a" stroke="#93969a" stroke-width="0.45" text-anchor="middle" font-family="Liberation Serif">U</text>
<text x="179.02" y="930.70" font-size="17" font-weight="normal" fill="#93969a" stroke="#93969a" stroke-width="0.45" text-anchor="middle" font-family="Liberation Serif">G</text>
<text x="190.74" y="930.70" font-size="17" font-weight="bold" fill="#e5141c" stroke="#e5141c" stroke-width="0.25" text-anchor="middle" font-family="Liberation Serif">C</text>
<text x="202.46" y="930.70" font-size="17" font-weight="normal" fill="#93969a" stroke="#93969a" stroke-width="0.45" text-anchor="middle" font-family="Liberation Serif">A</text>
<text x="214.18" y="930.70" font-size="17" font-weight="normal" fill="#93969a" stroke="#93969a" stroke-width="0.45" text-anchor="middle" font-family="Liberation Serif">G</text>
<text x="225.90" y="930.70" font-size="17" font-weight="normal" fill="#93969a" stroke="#93969a" stroke-width="0.45" text-anchor="middle" font-family="Liberation Serif">G</text>
<text x="237.62" y="930.70" font-size="17" font-weight="normal" fill="#93969a" stroke="#93969a" stroke-width="0.45" text-anchor="middle" font-family="Liberation Serif">A</text>
<text x="249.34" y="930.70" font-size="17" font-weight="normal" fill="#93969a" stroke="#93969a" stroke-width="0.45" text-anchor="middle" font-family="Liberation Serif">A</text>
<text x="261.06" y="930.70" font-size="17" font-weight="normal" fill="#93969a" stroke="#93969a" stroke-width="0.45" text-anchor="middle" font-family="Liberation Serif">G</text>
<text x="272.78" y="930.70" font-size="17" font-weight="normal" fill="#93969a" stroke="#93969a" stroke-width="0.45" text-anchor="middle" font-family="Liberation Serif">G</text>
<text x="284.50" y="930.70" font-size="17" font-weight="normal" fill="#93969a" stroke="#93969a" stroke-width="0.45" text-anchor="middle" font-family="Liberation Serif">C</text>
<text x="296.22" y="930.70" font-size="17" font-weight="normal" fill="#93969a" stroke="#93969a" stroke-width="0.45" text-anchor="middle" font-family="Liberation Serif">U</text>
<text x="26.66" y="954.95" font-size="17" font-weight="normal" fill="#93969a" stroke="#93969a" stroke-width="0.45" text-anchor="middle" font-family="Liberation Serif">U</text>
<text x="38.38" y="954.95" font-size="17" font-weight="normal" fill="#93969a" stroke="#93969a" stroke-width="0.45" text-anchor="middle" font-family="Liberation Serif">G</text>
<text x="50.10" y="954.95" font-size="17" font-weight="normal" fill="#93969a" stroke="#93969a" stroke-width="0.45" text-anchor="middle" font-family="Liberation Serif">G</text>
<text x="61.82" y="954.95" font-size="17" font-weight="normal" fill="#93969a" stroke="#93969a" stroke-width="0.45" text-anchor="middle" font-family="Liberation Serif">A</text>
<text x="73.54" y="954.95" font-size="17" font-weight="normal" fill="#93969a" stroke="#93969a" stroke-width="0.45" text-anchor="middle" font-family="Liberation Serif">G</text>
<text x="85.26" y="954.95" font-size="17" font-weight="normal" fill="#93969a" stroke="#93969a" stroke-width="0.45" text-anchor="middle" font-family="Liberation Serif">C</text>
<text x="96.98" y="954.95" font-size="17" font-weight="normal" fill="#93969a" stroke="#93969a" stroke-width="0.45" text-anchor="middle" font-family="Liberation Serif">A</text>
<text x="108.70" y="954.95" font-size="17" font-weight="normal" fill="#93969a" stroke="#93969a" stroke-width="0.45" text-anchor="middle" font-family="Liberation Serif">A</text>
<text x="120.42" y="954.95" font-size="17" font-weight="bold" fill="#e5141c" stroke="#e5141c" stroke-width="0.25" text-anchor="middle" font-family="Liberation Serif">A</text>
<text x="132.14" y="954.95" font-size="17" font-weight="normal" fill="#93969a" stroke="#93969a" stroke-width="0.45" text-anchor="middle" font-family="Liberation Serif">A</text>
<text x="143.86" y="954.95" font-size="17" font-weight="normal" fill="#93969a" stroke="#93969a" stroke-width="0.45" text-anchor="middle" font-family="Liberation Serif">C</text>
<text x="155.58" y="954.95" font-size="17" font-weight="normal" fill="#93969a" stroke="#93969a" stroke-width="0.45" text-anchor="middle" font-family="Liberation Serif">C</text>
<text x="167.30" y="954.95" font-size="17" font-weight="normal" fill="#93969a" stroke="#93969a" stroke-width="0.45" text-anchor="middle" font-family="Liberation Serif">U</text>
<text x="179.02" y="954.95" font-size="17" font-weight="normal" fill="#93969a" stroke="#93969a" stroke-width="0.45" text-anchor="middle" font-family="Liberation Serif">G</text>
<text x="190.74" y="954.95" font-size="17" font-weight="bold" fill="#e5141c" stroke="#e5141c" stroke-width="0.25" text-anchor="middle" font-family="Liberation Serif">C</text>
<text x="202.46" y="954.95" font-size="17" font-weight="normal" fill="#93969a" stroke="#93969a" stroke-width="0.45" text-anchor="middle" font-family="Liberation Serif">A</text>
<text x="214.18" y="954.95" font-size="17" font-weight="normal" fill="#93969a" stroke="#93969a" stroke-width="0.45" text-anchor="middle" font-family="Liberation Serif">G</text>
<text x="225.90" y="954.95" font-size="17" font-weight="normal" fill="#93969a" stroke="#93969a" stroke-width="0.45" text-anchor="middle" font-family="Liberation Serif">G</text>
<text x="237.62" y="954.95" font-size="17" font-weight="bold" fill="#e5141c" stroke="#e5141c" stroke-width="0.25" text-anchor="middle" font-family="Liberation Serif">C</text>
<text x="249.34" y="954.95" font-size="17" font-weight="normal" fill="#93969a" stroke="#93969a" stroke-width="0.45" text-anchor="middle" font-family="Liberation Serif">A</text>
<text x="261.06" y="954.95" font-size="17" font-weight="normal" fill="#93969a" stroke="#93969a" stroke-width="0.45" text-anchor="middle" font-family="Liberation Serif">G</text>
<text x="272.78" y="954.95" font-size="17" font-weight="normal" fill="#93969a" stroke="#93969a" stroke-width="0.45" text-anchor="middle" font-family="Liberation Serif">G</text>
<text x="284.50" y="954.95" font-size="17" font-weight="bold" fill="#e5141c" stroke="#e5141c" stroke-width="0.25" text-anchor="middle" font-family="Liberation Serif">A</text>
<text x="296.22" y="954.95" font-size="17" font-weight="normal" fill="#93969a" stroke="#93969a" stroke-width="0.45" text-anchor="middle" font-family="Liberation Serif">U</text>
<line x1="21.50" y1="958.30" x2="302.40" y2="958.30" stroke="#000" stroke-width="2.6" stroke-linecap="butt"/>
<line x1="73.30" y1="958.30" x2="73.30" y2="964.50" stroke="#000" stroke-width="2.6" stroke-linecap="butt"/>
<text x="73.80" y="985.20" font-size="21" text-anchor="middle" font-weight="normal" fill="#000" font-family="Liberation Sans" >5</text>
<line x1="131.90" y1="958.30" x2="131.90" y2="964.50" stroke="#000" stroke-width="2.6" stroke-linecap="butt"/>
<text x="132.40" y="985.20" font-size="21" text-anchor="middle" font-weight="normal" fill="#000" font-family="Liberation Sans" >10</text>
<line x1="191.50" y1="958.30" x2="191.50" y2="964.50" stroke="#000" stroke-width="2.6" stroke-linecap="butt"/>
<text x="192.00" y="985.20" font-size="21" text-anchor="middle" font-weight="normal" fill="#000" font-family="Liberation Sans" >15</text>
<line x1="249.60" y1="958.30" x2="249.60" y2="964.50" stroke="#000" stroke-width="2.6" stroke-linecap="butt"/>
<text x="250.10" y="985.20" font-size="21" text-anchor="middle" font-weight="normal" fill="#000" font-family="Liberation Sans" >20</text>
<text x="161.00" y="1009.50" font-size="21" text-anchor="middle" font-weight="normal" fill="#000" font-family="Liberation Sans" >Position (nucleotides)</text>
<line x1="795.70" y1="530.50" x2="795.70" y2="795.30" stroke="#000" stroke-width="2.2" stroke-linecap="butt"/>
<line x1="788.50" y1="794.10" x2="795.70" y2="794.10" stroke="#000" stroke-width="2.2" stroke-linecap="butt"/>
<text x="774.50" y="798.40" font-size="20.3" text-anchor="end" font-weight="normal" fill="#000" font-family="Liberation Sans" >10</text>
<text x="776.40" y="790.50" font-size="12.2" text-anchor="start" font-weight="normal" fill="#000" font-family="Liberation Sans" >0</text>
<line x1="788.50" y1="747.93" x2="795.70" y2="747.93" stroke="#000" stroke-width="2.2" stroke-linecap="butt"/>
<text x="774.50" y="752.23" font-size="20.3" text-anchor="end" font-weight="normal" fill="#000" font-family="Liberation Sans" >10</text>
<text x="776.40" y="744.33" font-size="12.2" text-anchor="start" font-weight="normal" fill="#000" font-family="Liberation Sans" >1</text>
<line x1="788.50" y1="701.76" x2="795.70" y2="701.76" stroke="#000" stroke-width="2.2" stroke-linecap="butt"/>
<text x="774.50" y="706.06" font-size="20.3" text-anchor="end" font-weight="normal" fill="#000" font-family="Liberation Sans" >10</text>
<text x="776.40" y="698.16" font-size="12.2" text-anchor="start" font-weight="normal" fill="#000" font-family="Liberation Sans" >2</text>
<line x1="788.50" y1="655.59" x2="795.70" y2="655.59" stroke="#000" stroke-width="2.2" stroke-linecap="butt"/>
<text x="774.50" y="659.89" font-size="20.3" text-anchor="end" font-weight="normal" fill="#000" font-family="Liberation Sans" >10</text>
<text x="776.40" y="651.99" font-size="12.2" text-anchor="start" font-weight="normal" fill="#000" font-family="Liberation Sans" >3</text>
<line x1="788.50" y1="609.42" x2="795.70" y2="609.42" stroke="#000" stroke-width="2.2" stroke-linecap="butt"/>
<text x="774.50" y="613.72" font-size="20.3" text-anchor="end" font-weight="normal" fill="#000" font-family="Liberation Sans" >10</text>
<text x="776.40" y="605.82" font-size="12.2" text-anchor="start" font-weight="normal" fill="#000" font-family="Liberation Sans" >4</text>
<line x1="788.50" y1="563.25" x2="795.70" y2="563.25" stroke="#000" stroke-width="2.2" stroke-linecap="butt"/>
<text x="774.50" y="567.55" font-size="20.3" text-anchor="end" font-weight="normal" fill="#000" font-family="Liberation Sans" >10</text>
<text x="776.40" y="559.65" font-size="12.2" text-anchor="start" font-weight="normal" fill="#000" font-family="Liberation Sans" >5</text>
<line x1="792.00" y1="780.20" x2="795.70" y2="780.20" stroke="#000" stroke-width="1.5" stroke-linecap="butt"/>
<line x1="792.00" y1="772.07" x2="795.70" y2="772.07" stroke="#000" stroke-width="1.5" stroke-linecap="butt"/>
<line x1="792.00" y1="766.30" x2="795.70" y2="766.30" stroke="#000" stroke-width="1.5" stroke-linecap="butt"/>
<line x1="792.00" y1="761.83" x2="795.70" y2="761.83" stroke="#000" stroke-width="1.5" stroke-linecap="butt"/>
<line x1="792.00" y1="758.17" x2="795.70" y2="758.17" stroke="#000" stroke-width="1.5" stroke-linecap="butt"/>
<line x1="792.00" y1="755.08" x2="795.70" y2="755.08" stroke="#000" stroke-width="1.5" stroke-linecap="butt"/>
<line x1="792.00" y1="752.40" x2="795.70" y2="752.40" stroke="#000" stroke-width="1.5" stroke-linecap="butt"/>
<line x1="792.00" y1="750.04" x2="795.70" y2="750.04" stroke="#000" stroke-width="1.5" stroke-linecap="butt"/>
<line x1="792.00" y1="734.03" x2="795.70" y2="734.03" stroke="#000" stroke-width="1.5" stroke-linecap="butt"/>
<line x1="792.00" y1="725.90" x2="795.70" y2="725.90" stroke="#000" stroke-width="1.5" stroke-linecap="butt"/>
<line x1="792.00" y1="720.13" x2="795.70" y2="720.13" stroke="#000" stroke-width="1.5" stroke-linecap="butt"/>
<line x1="792.00" y1="715.66" x2="795.70" y2="715.66" stroke="#000" stroke-width="1.5" stroke-linecap="butt"/>
<line x1="792.00" y1="712.00" x2="795.70" y2="712.00" stroke="#000" stroke-width="1.5" stroke-linecap="butt"/>
<line x1="792.00" y1="708.91" x2="795.70" y2="708.91" stroke="#000" stroke-width="1.5" stroke-linecap="butt"/>
<line x1="792.00" y1="706.23" x2="795.70" y2="706.23" stroke="#000" stroke-width="1.5" stroke-linecap="butt"/>
<line x1="792.00" y1="703.87" x2="795.70" y2="703.87" stroke="#000" stroke-width="1.5" stroke-linecap="butt"/>
<line x1="792.00" y1="687.86" x2="795.70" y2="687.86" stroke="#000" stroke-width="1.5" stroke-linecap="butt"/>
<line x1="792.00" y1="679.73" x2="795.70" y2="679.73" stroke="#000" stroke-width="1.5" stroke-linecap="butt"/>
<line x1="792.00" y1="673.96" x2="795.70" y2="673.96" stroke="#000" stroke-width="1.5" stroke-linecap="butt"/>
<line x1="792.00" y1="669.49" x2="795.70" y2="669.49" stroke="#000" stroke-width="1.5" stroke-linecap="butt"/>
<line x1="792.00" y1="665.83" x2="795.70" y2="665.83" stroke="#000" stroke-width="1.5" stroke-linecap="butt"/>
<line x1="792.00" y1="662.74" x2="795.70" y2="662.74" stroke="#000" stroke-width="1.5" stroke-linecap="butt"/>
<line x1="792.00" y1="660.06" x2="795.70" y2="660.06" stroke="#000" stroke-width="1.5" stroke-linecap="butt"/>
<line x1="792.00" y1="657.70" x2="795.70" y2="657.70" stroke="#000" stroke-width="1.5" stroke-linecap="butt"/>
<line x1="792.00" y1="641.69" x2="795.70" y2="641.69" stroke="#000" stroke-width="1.5" stroke-linecap="butt"/>
<line x1="792.00" y1="633.56" x2="795.70" y2="633.56" stroke="#000" stroke-width="1.5" stroke-linecap="butt"/>
<line x1="792.00" y1="627.79" x2="795.70" y2="627.79" stroke="#000" stroke-width="1.5" stroke-linecap="butt"/>
<line x1="792.00" y1="623.32" x2="795.70" y2="623.32" stroke="#000" stroke-width="1.5" stroke-linecap="butt"/>
<line x1="792.00" y1="619.66" x2="795.70" y2="619.66" stroke="#000" stroke-width="1.5" stroke-linecap="butt"/>
<line x1="792.00" y1="616.57" x2="795.70" y2="616.57" stroke="#000" stroke-width="1.5" stroke-linecap="butt"/>
<line x1="792.00" y1="613.89" x2="795.70" y2="613.89" stroke="#000" stroke-width="1.5" stroke-linecap="butt"/>
<line x1="792.00" y1="611.53" x2="795.70" y2="611.53" stroke="#000" stroke-width="1.5" stroke-linecap="butt"/>
<line x1="792.00" y1="595.52" x2="795.70" y2="595.52" stroke="#000" stroke-width="1.5" stroke-linecap="butt"/>
<line x1="792.00" y1="587.39" x2="795.70" y2="587.39" stroke="#000" stroke-width="1.5" stroke-linecap="butt"/>
<line x1="792.00" y1="581.62" x2="795.70" y2="581.62" stroke="#000" stroke-width="1.5" stroke-linecap="butt"/>
<line x1="792.00" y1="577.15" x2="795.70" y2="577.15" stroke="#000" stroke-width="1.5" stroke-linecap="butt"/>
<line x1="792.00" y1="573.49" x2="795.70" y2="573.49" stroke="#000" stroke-width="1.5" stroke-linecap="butt"/>
<line x1="792.00" y1="570.40" x2="795.70" y2="570.40" stroke="#000" stroke-width="1.5" stroke-linecap="butt"/>
<line x1="792.00" y1="567.72" x2="795.70" y2="567.72" stroke="#000" stroke-width="1.5" stroke-linecap="butt"/>
<line x1="792.00" y1="565.36" x2="795.70" y2="565.36" stroke="#000" stroke-width="1.5" stroke-linecap="butt"/>
<line x1="792.00" y1="549.35" x2="795.70" y2="549.35" stroke="#000" stroke-width="1.5" stroke-linecap="butt"/>
<line x1="792.00" y1="541.22" x2="795.70" y2="541.22" stroke="#000" stroke-width="1.5" stroke-linecap="butt"/>
<line x1="792.00" y1="535.45" x2="795.70" y2="535.45" stroke="#000" stroke-width="1.5" stroke-linecap="butt"/>
<line x1="792.00" y1="530.98" x2="795.70" y2="530.98" stroke="#000" stroke-width="1.5" stroke-linecap="butt"/>
<text transform="translate(738.3,679) rotate(-90)" font-size="21.3" text-anchor="middle" font-family="Liberation Sans">Transformation fold reduction</text>
<rect x="804.95" y="654.20" width="16.70" height="139.90" fill="#c42e4b"/>
<rect x="828.95" y="653.00" width="16.70" height="141.10" fill="#c42e4b"/>
<rect x="852.95" y="656.80" width="16.70" height="137.30" fill="#c42e4b"/>
<rect x="876.95" y="723.80" width="16.70" height="70.30" fill="#c42e4b"/>
<rect x="900.95" y="651.10" width="16.70" height="143.00" fill="#c42e4b"/>
<rect x="924.95" y="637.20" width="16.70" height="156.90" fill="#c42e4b"/>
<rect x="948.95" y="644.90" width="16.70" height="149.20" fill="#c42e4b"/>
<rect x="972.95" y="657.90" width="16.70" height="136.20" fill="#c42e4b"/>
<line x1="788.50" y1="794.10" x2="998.60" y2="794.10" stroke="#000" stroke-width="2.5" stroke-linecap="butt"/>
<line x1="813.30" y1="794.10" x2="813.30" y2="798.20" stroke="#000" stroke-width="2.2" stroke-linecap="butt"/>
<text transform="translate(822.50,811.3) rotate(-45)" font-size="21" text-anchor="end" font-family="Liberation Sans">No Acr</text>
<line x1="837.30" y1="794.10" x2="837.30" y2="798.20" stroke="#000" stroke-width="2.2" stroke-linecap="butt"/>
<text transform="translate(846.50,811.3) rotate(-45)" font-size="21" text-anchor="end" font-family="Liberation Sans">AcrVA1</text>
<line x1="861.30" y1="794.10" x2="861.30" y2="798.20" stroke="#000" stroke-width="2.2" stroke-linecap="butt"/>
<text transform="translate(870.50,811.3) rotate(-45)" font-size="21" text-anchor="end" font-family="Liberation Sans">AcrVA2</text>
<line x1="885.30" y1="794.10" x2="885.30" y2="798.20" stroke="#000" stroke-width="2.2" stroke-linecap="butt"/>
<text transform="translate(894.50,811.3) rotate(-45)" font-size="21" text-anchor="end" font-family="Liberation Sans">AcrVA2.1</text>
<line x1="909.30" y1="794.10" x2="909.30" y2="798.20" stroke="#000" stroke-width="2.2" stroke-linecap="butt"/>
<text transform="translate(918.50,811.3) rotate(-45)" font-size="21" text-anchor="end" font-family="Liberation Sans">AcrVA3</text>
<line x1="933.30" y1="794.10" x2="933.30" y2="798.20" stroke="#000" stroke-width="2.2" stroke-linecap="butt"/>
<text transform="translate(942.50,811.3) rotate(-45)" font-size="21" text-anchor="end" font-family="Liberation Sans">AcrVA3.1</text>
<line x1="957.30" y1="794.10" x2="957.30" y2="798.20" stroke="#000" stroke-width="2.2" stroke-linecap="butt"/>
<text transform="translate(966.50,811.3) rotate(-45)" font-size="21" text-anchor="end" font-family="Liberation Sans">AcrVA4</text>
<line x1="981.30" y1="794.10" x2="981.30" y2="798.20" stroke="#000" stroke-width="2.2" stroke-linecap="butt"/>
<text transform="translate(990.50,811.3) rotate(-45)" font-size="21" text-anchor="end" font-family="Liberation Sans">AcrVA5</text>
<line x1="810.90" y1="515.20" x2="989.30" y2="515.20" stroke="#000" stroke-width="2.3" stroke-linecap="butt"/>
<line x1="810.90" y1="514.10" x2="810.90" y2="523.80" stroke="#000" stroke-width="2.3" stroke-linecap="butt"/>
<text x="837.30" y="532.40" font-size="16" text-anchor="middle" font-weight="normal" fill="#000" font-family="Liberation Sans" textLength="21.0" lengthAdjust="spacingAndGlyphs">NS</text>
<text x="861.30" y="532.40" font-size="16" text-anchor="middle" font-weight="normal" fill="#000" font-family="Liberation Sans" textLength="21.0" lengthAdjust="spacingAndGlyphs">NS</text>
<path d="M880.25,527.00L880.25,523.10M880.25,527.00L883.96,525.79M880.25,527.00L882.54,530.16M880.25,527.00L877.96,530.16M880.25,527.00L876.54,525.79" stroke="#000" stroke-width="1.45" stroke-linecap="round" fill="none"/>
<path d="M890.35,527.00L890.35,523.10M890.35,527.00L894.06,525.79M890.35,527.00L892.64,530.16M890.35,527.00L888.06,530.16M890.35,527.00L886.64,525.79" stroke="#000" stroke-width="1.45" stroke-linecap="round" fill="none"/>
<text x="909.30" y="532.40" font-size="16" text-anchor="middle" font-weight="normal" fill="#000" font-family="Liberation Sans" textLength="21.0" lengthAdjust="spacingAndGlyphs">NS</text>
<text x="933.30" y="532.40" font-size="16" text-anchor="middle" font-weight="normal" fill="#000" font-family="Liberation Sans" textLength="21.0" lengthAdjust="spacingAndGlyphs">NS</text>
<text x="957.30" y="532.40" font-size="16" text-anchor="middle" font-weight="normal" fill="#000" font-family="Liberation Sans" textLength="21.0" lengthAdjust="spacingAndGlyphs">NS</text>
<text x="981.30" y="532.40" font-size="16" text-anchor="middle" font-weight="normal" fill="#000" font-family="Liberation Sans" textLength="21.0" lengthAdjust="spacingAndGlyphs">NS</text>
<text x="895.00" y="500.40" font-size="21.4" text-anchor="middle" font-weight="normal" fill="#000" font-family="Liberation Sans" ><tspan font-style="italic">Su</tspan>Cas12a2</text>
<rect x="1016.35" y="576.10" width="16.70" height="218.00" fill="#1f73b9"/>
<rect x="1040.35" y="565.80" width="16.70" height="228.30" fill="#1f73b9"/>
<rect x="1064.35" y="658.90" width="16.70" height="135.20" fill="#1f73b9"/>
<rect x="1088.35" y="621.10" width="16.70" height="173.00" fill="#1f73b9"/>
<rect x="1112.35" y="640.30" width="16.70" height="153.80" fill="#1f73b9"/>
<rect x="1136.35" y="607.10" width="16.70" height="187.00" fill="#1f73b9"/>
<rect x="1160.35" y="596.00" width="16.70" height="198.10" fill="#1f73b9"/>
<rect x="1184.35" y="782.60" width="16.70" height="11.50" fill="#1f73b9"/>
<line x1="1006.70" y1="794.10" x2="1210.70" y2="794.10" stroke="#000" stroke-width="2.5" stroke-linecap="butt"/>
<line x1="1024.70" y1="794.10" x2="1024.70" y2="798.20" stroke="#000" stroke-width="2.2" stroke-linecap="butt"/>
<text transform="translate(1033.90,811.3) rotate(-45)" font-size="21" text-anchor="end" font-family="Liberation Sans">No Acr</text>
<line x1="1048.70" y1="794.10" x2="1048.70" y2="798.20" stroke="#000" stroke-width="2.2" stroke-linecap="butt"/>
<text transform="translate(1057.90,811.3) rotate(-45)" font-size="21" text-anchor="end" font-family="Liberation Sans">AcrVA1</text>
<line x1="1072.70" y1="794.10" x2="1072.70" y2="798.20" stroke="#000" stroke-width="2.2" stroke-linecap="butt"/>
<text transform="translate(1081.90,811.3) rotate(-45)" font-size="21" text-anchor="end" font-family="Liberation Sans">AcrVA2</text>
<line x1="1096.70" y1="794.10" x2="1096.70" y2="798.20" stroke="#000" stroke-width="2.2" stroke-linecap="butt"/>
<text transform="translate(1105.90,811.3) rotate(-45)" font-size="21" text-anchor="end" font-family="Liberation Sans">AcrVA2.1</text>
<line x1="1120.70" y1="794.10" x2="1120.70" y2="798.20" stroke="#000" stroke-width="2.2" stroke-linecap="butt"/>
<text transform="translate(1129.90,811.3) rotate(-45)" font-size="21" text-anchor="end" font-family="Liberation Sans">AcrVA3</text>
<line x1="1144.70" y1="794.10" x2="1144.70" y2="798.20" stroke="#000" stroke-width="2.2" stroke-linecap="butt"/>
<text transform="translate(1153.90,811.3) rotate(-45)" font-size="21" text-anchor="end" font-family="Liberation Sans">AcrVA3.1</text>
<line x1="1168.70" y1="794.10" x2="1168.70" y2="798.20" stroke="#000" stroke-width="2.2" stroke-linecap="butt"/>
<text transform="translate(1177.90,811.3) rotate(-45)" font-size="21" text-anchor="end" font-family="Liberation Sans">AcrVA4</text>
<line x1="1192.70" y1="794.10" x2="1192.70" y2="798.20" stroke="#000" stroke-width="2.2" stroke-linecap="butt"/>
<text transform="translate(1201.90,811.3) rotate(-45)" font-size="21" text-anchor="end" font-family="Liberation Sans">AcrVA5</text>
<line x1="1023.40" y1="514.20" x2="1202.30" y2="514.20" stroke="#000" stroke-width="2.3" stroke-linecap="butt"/>
<line x1="1023.40" y1="513.10" x2="1023.40" y2="522.80" stroke="#000" stroke-width="2.3" stroke-linecap="butt"/>
<text x="1048.70" y="532.40" font-size="16" text-anchor="middle" font-weight="normal" fill="#000" font-family="Liberation Sans" textLength="21.0" lengthAdjust="spacingAndGlyphs">NS</text>
<path d="M1067.65,527.00L1067.65,523.10M1067.65,527.00L1071.36,525.79M1067.65,527.00L1069.94,530.16M1067.65,527.00L1065.36,530.16M1067.65,527.00L1063.94,525.79" stroke="#000" stroke-width="1.45" stroke-linecap="round" fill="none"/>
<path d="M1077.75,527.00L1077.75,523.10M1077.75,527.00L1081.46,525.79M1077.75,527.00L1080.04,530.16M1077.75,527.00L1075.46,530.16M1077.75,527.00L1074.04,525.79" stroke="#000" stroke-width="1.45" stroke-linecap="round" fill="none"/>
<path d="M1096.70,527.00L1096.70,523.10M1096.70,527.00L1100.41,525.79M1096.70,527.00L1098.99,530.16M1096.70,527.00L1094.41,530.16M1096.70,527.00L1092.99,525.79" stroke="#000" stroke-width="1.45" stroke-linecap="round" fill="none"/>
<path d="M1115.65,527.00L1115.65,523.10M1115.65,527.00L1119.36,525.79M1115.65,527.00L1117.94,530.16M1115.65,527.00L1113.36,530.16M1115.65,527.00L1111.94,525.79" stroke="#000" stroke-width="1.45" stroke-linecap="round" fill="none"/>
<path d="M1125.75,527.00L1125.75,523.10M1125.75,527.00L1129.46,525.79M1125.75,527.00L1128.04,530.16M1125.75,527.00L1123.46,530.16M1125.75,527.00L1122.04,525.79" stroke="#000" stroke-width="1.45" stroke-linecap="round" fill="none"/>
<path d="M1144.70,527.00L1144.70,523.10M1144.70,527.00L1148.41,525.79M1144.70,527.00L1146.99,530.16M1144.70,527.00L1142.41,530.16M1144.70,527.00L1140.99,525.79" stroke="#000" stroke-width="1.45" stroke-linecap="round" fill="none"/>
<path d="M1168.70,527.00L1168.70,523.10M1168.70,527.00L1172.41,525.79M1168.70,527.00L1170.99,530.16M1168.70,527.00L1166.41,530.16M1168.70,527.00L1164.99,525.79" stroke="#000" stroke-width="1.45" stroke-linecap="round" fill="none"/>
<path d="M1187.65,527.00L1187.65,523.10M1187.65,527.00L1191.36,525.79M1187.65,527.00L1189.94,530.16M1187.65,527.00L1185.36,530.16M1187.65,527.00L1183.94,525.79" stroke="#000" stroke-width="1.45" stroke-linecap="round" fill="none"/>
<path d="M1197.75,527.00L1197.75,523.10M1197.75,527.00L1201.46,525.79M1197.75,527.00L1200.04,530.16M1197.75,527.00L1195.46,530.16M1197.75,527.00L1194.04,525.79" stroke="#000" stroke-width="1.45" stroke-linecap="round" fill="none"/>
<text x="1107.00" y="500.40" font-size="21.4" text-anchor="middle" font-weight="normal" fill="#000" font-family="Liberation Sans" ><tspan font-style="italic">Pb</tspan>2Cas12a</text>
<rect x="1225.75" y="593.00" width="16.70" height="201.10" fill="#7f9fd5"/>
<rect x="1249.75" y="708.00" width="16.70" height="86.10" fill="#7f9fd5"/>
<rect x="1273.75" y="592.40" width="16.70" height="201.70" fill="#7f9fd5"/>
<rect x="1297.75" y="599.80" width="16.70" height="194.30" fill="#7f9fd5"/>
<rect x="1321.75" y="622.20" width="16.70" height="171.90" fill="#7f9fd5"/>
<rect x="1345.75" y="564.00" width="16.70" height="230.10" fill="#7f9fd5"/>
<rect x="1369.75" y="767.00" width="16.70" height="27.10" fill="#7f9fd5"/>
<rect x="1393.75" y="573.00" width="16.70" height="221.10" fill="#7f9fd5"/>
<line x1="1219.00" y1="794.10" x2="1417.00" y2="794.10" stroke="#000" stroke-width="2.5" stroke-linecap="butt"/>
<line x1="1234.10" y1="794.10" x2="1234.10" y2="798.20" stroke="#000" stroke-width="2.2" stroke-linecap="butt"/>
<text transform="translate(1243.30,811.3) rotate(-45)" font-size="21" text-anchor="end" font-family="Liberation Sans">No Acr</text>
<line x1="1258.10" y1="794.10" x2="1258.10" y2="798.20" stroke="#000" stroke-width="2.2" stroke-linecap="butt"/>
<text transform="translate(1267.30,811.3) rotate(-45)" font-size="21" text-anchor="end" font-family="Liberation Sans">AcrVA1</text>
<line x1="1282.10" y1="794.10" x2="1282.10" y2="798.20" stroke="#000" stroke-width="2.2" stroke-linecap="butt"/>
<text transform="translate(1291.30,811.3) rotate(-45)" font-size="21" text-anchor="end" font-family="Liberation Sans">AcrVA2</text>
<line x1="1306.10" y1="794.10" x2="1306.10" y2="798.20" stroke="#000" stroke-width="2.2" stroke-linecap="butt"/>
<text transform="translate(1315.30,811.3) rotate(-45)" font-size="21" text-anchor="end" font-family="Liberation Sans">AcrVA2.1</text>
<line x1="1330.10" y1="794.10" x2="1330.10" y2="798.20" stroke="#000" stroke-width="2.2" stroke-linecap="butt"/>
<text transform="translate(1339.30,811.3) rotate(-45)" font-size="21" text-anchor="end" font-family="Liberation Sans">AcrVA3</text>
<line x1="1354.10" y1="794.10" x2="1354.10" y2="798.20" stroke="#000" stroke-width="2.2" stroke-linecap="butt"/>
<text transform="translate(1363.30,811.3) rotate(-45)" font-size="21" text-anchor="end" font-family="Liberation Sans">AcrVA3.1</text>
<line x1="1378.10" y1="794.10" x2="1378.10" y2="798.20" stroke="#000" stroke-width="2.2" stroke-linecap="butt"/>
<text transform="translate(1387.30,811.3) rotate(-45)" font-size="21" text-anchor="end" font-family="Liberation Sans">AcrVA4</text>
<line x1="1402.10" y1="794.10" x2="1402.10" y2="798.20" stroke="#000" stroke-width="2.2" stroke-linecap="butt"/>
<text transform="translate(1411.30,811.3) rotate(-45)" font-size="21" text-anchor="end" font-family="Liberation Sans">AcrVA5</text>
<line x1="1233.40" y1="514.20" x2="1412.00" y2="514.20" stroke="#000" stroke-width="2.3" stroke-linecap="butt"/>
<line x1="1233.40" y1="513.10" x2="1233.40" y2="522.80" stroke="#000" stroke-width="2.3" stroke-linecap="butt"/>
<path d="M1253.05,527.00L1253.05,523.10M1253.05,527.00L1256.76,525.79M1253.05,527.00L1255.34,530.16M1253.05,527.00L1250.76,530.16M1253.05,527.00L1249.34,525.79" stroke="#000" stroke-width="1.45" stroke-linecap="round" fill="none"/>
<path d="M1263.15,527.00L1263.15,523.10M1263.15,527.00L1266.86,525.79M1263.15,527.00L1265.44,530.16M1263.15,527.00L1260.86,530.16M1263.15,527.00L1259.44,525.79" stroke="#000" stroke-width="1.45" stroke-linecap="round" fill="none"/>
<text x="1282.10" y="532.40" font-size="16" text-anchor="middle" font-weight="normal" fill="#000" font-family="Liberation Sans" textLength="21.0" lengthAdjust="spacingAndGlyphs">NS</text>
<text x="1306.10" y="532.40" font-size="16" text-anchor="middle" font-weight="normal" fill="#000" font-family="Liberation Sans" textLength="21.0" lengthAdjust="spacingAndGlyphs">NS</text>
<text x="1330.10" y="532.40" font-size="16" text-anchor="middle" font-weight="normal" fill="#000" font-family="Liberation Sans" textLength="21.0" lengthAdjust="spacingAndGlyphs">NS</text>
<text x="1354.10" y="532.40" font-size="16" text-anchor="middle" font-weight="normal" fill="#000" font-family="Liberation Sans" textLength="21.0" lengthAdjust="spacingAndGlyphs">NS</text>
<path d="M1373.05,527.00L1373.05,523.10M1373.05,527.00L1376.76,525.79M1373.05,527.00L1375.34,530.16M1373.05,527.00L1370.76,530.16M1373.05,527.00L1369.34,525.79" stroke="#000" stroke-width="1.45" stroke-linecap="round" fill="none"/>
<path d="M1383.15,527.00L1383.15,523.10M1383.15,527.00L1386.86,525.79M1383.15,527.00L1385.44,530.16M1383.15,527.00L1380.86,530.16M1383.15,527.00L1379.44,525.79" stroke="#000" stroke-width="1.45" stroke-linecap="round" fill="none"/>
<text x="1402.10" y="532.40" font-size="16" text-anchor="middle" font-weight="normal" fill="#000" font-family="Liberation Sans" textLength="21.0" lengthAdjust="spacingAndGlyphs">NS</text>
<text x="1317.50" y="500.40" font-size="21.4" text-anchor="middle" font-weight="normal" fill="#000" font-family="Liberation Sans" ><tspan font-style="italic">Lb</tspan>Cas12a</text>
<circle cx="813.40" cy="641.20" r="3.1" fill="#d4d4d4" stroke="#000" stroke-width="1.15"/>
<circle cx="813.40" cy="646.40" r="3.1" fill="#d4d4d4" stroke="#000" stroke-width="1.15"/>
<circle cx="813.40" cy="672.20" r="3.1" fill="#d4d4d4" stroke="#000" stroke-width="1.15"/>
<circle cx="813.40" cy="688.80" r="3.1" fill="#d4d4d4" stroke="#000" stroke-width="1.15"/>
<line x1="813.40" y1="642.70" x2="813.40" y2="678.50" stroke="#000" stroke-width="2.5" stroke-linecap="butt"/>
<line x1="811.20" y1="642.70" x2="815.60" y2="642.70" stroke="#000" stroke-width="2.0" stroke-linecap="butt"/>
<line x1="811.20" y1="678.50" x2="815.60" y2="678.50" stroke="#000" stroke-width="2.0" stroke-linecap="butt"/>
<circle cx="837.30" cy="640.50" r="3.1" fill="#d4d4d4" stroke="#000" stroke-width="1.15"/>
<circle cx="837.30" cy="650.00" r="3.1" fill="#d4d4d4" stroke="#000" stroke-width="1.15"/>
<circle cx="837.30" cy="658.50" r="3.1" fill="#d4d4d4" stroke="#000" stroke-width="1.15"/>
<circle cx="837.30" cy="692.10" r="3.1" fill="#d4d4d4" stroke="#000" stroke-width="1.15"/>
<line x1="837.30" y1="642.00" x2="837.30" y2="668.50" stroke="#000" stroke-width="2.5" stroke-linecap="butt"/>
<line x1="835.10" y1="642.00" x2="839.50" y2="642.00" stroke="#000" stroke-width="2.0" stroke-linecap="butt"/>
<line x1="835.10" y1="668.50" x2="839.50" y2="668.50" stroke="#000" stroke-width="2.0" stroke-linecap="butt"/>
<circle cx="861.40" cy="649.00" r="3.1" fill="#d4d4d4" stroke="#000" stroke-width="1.15"/>
<circle cx="861.40" cy="656.00" r="3.1" fill="#d4d4d4" stroke="#000" stroke-width="1.15"/>
<circle cx="857.70" cy="662.90" r="3.1" fill="#d4d4d4" stroke="#000" stroke-width="1.15"/>
<circle cx="867.30" cy="662.90" r="3.1" fill="#d4d4d4" stroke="#000" stroke-width="1.15"/>
<line x1="861.40" y1="649.30" x2="861.40" y2="661.90" stroke="#000" stroke-width="2.5" stroke-linecap="butt"/>
<line x1="859.20" y1="649.30" x2="863.60" y2="649.30" stroke="#000" stroke-width="2.0" stroke-linecap="butt"/>
<line x1="859.20" y1="661.90" x2="863.60" y2="661.90" stroke="#000" stroke-width="2.0" stroke-linecap="butt"/>
<circle cx="885.40" cy="711.50" r="3.1" fill="#d4d4d4" stroke="#000" stroke-width="1.15"/>
<circle cx="885.40" cy="719.80" r="3.1" fill="#d4d4d4" stroke="#000" stroke-width="1.15"/>
<circle cx="885.40" cy="736.40" r="3.1" fill="#d4d4d4" stroke="#000" stroke-width="1.15"/>
<circle cx="885.40" cy="742.70" r="3.1" fill="#d4d4d4" stroke="#000" stroke-width="1.15"/>
<line x1="885.40" y1="711.50" x2="885.40" y2="743.70" stroke="#000" stroke-width="2.5" stroke-linecap="butt"/>
<line x1="883.20" y1="711.50" x2="887.60" y2="711.50" stroke="#000" stroke-width="2.0" stroke-linecap="butt"/>
<line x1="883.20" y1="743.70" x2="887.60" y2="743.70" stroke="#000" stroke-width="2.0" stroke-linecap="butt"/>
<circle cx="909.60" cy="642.70" r="3.1" fill="#d4d4d4" stroke="#000" stroke-width="1.15"/>
<circle cx="909.60" cy="644.90" r="3.1" fill="#d4d4d4" stroke="#000" stroke-width="1.15"/>
<circle cx="909.60" cy="661.10" r="3.1" fill="#d4d4d4" stroke="#000" stroke-width="1.15"/>
<circle cx="909.60" cy="664.50" r="3.1" fill="#d4d4d4" stroke="#000" stroke-width="1.15"/>
<line x1="909.60" y1="643.40" x2="909.60" y2="662.60" stroke="#000" stroke-width="2.5" stroke-linecap="butt"/>
<line x1="907.40" y1="643.40" x2="911.80" y2="643.40" stroke="#000" stroke-width="2.0" stroke-linecap="butt"/>
<line x1="907.40" y1="662.60" x2="911.80" y2="662.60" stroke="#000" stroke-width="2.0" stroke-linecap="butt"/>
<circle cx="933.30" cy="613.90" r="3.1" fill="#d4d4d4" stroke="#000" stroke-width="1.15"/>
<circle cx="933.30" cy="652.70" r="3.1" fill="#d4d4d4" stroke="#000" stroke-width="1.15"/>
<circle cx="933.30" cy="665.50" r="3.1" fill="#d4d4d4" stroke="#000" stroke-width="1.15"/>
<circle cx="933.30" cy="698.30" r="3.1" fill="#d4d4d4" stroke="#000" stroke-width="1.15"/>
<line x1="933.30" y1="618.60" x2="933.30" y2="675.90" stroke="#000" stroke-width="2.5" stroke-linecap="butt"/>
<line x1="931.10" y1="618.60" x2="935.50" y2="618.60" stroke="#000" stroke-width="2.0" stroke-linecap="butt"/>
<line x1="931.10" y1="675.90" x2="935.50" y2="675.90" stroke="#000" stroke-width="2.0" stroke-linecap="butt"/>
<circle cx="955.00" cy="640.50" r="3.1" fill="#d4d4d4" stroke="#000" stroke-width="1.15"/>
<circle cx="959.50" cy="637.20" r="3.1" fill="#d4d4d4" stroke="#000" stroke-width="1.15"/>
<circle cx="957.20" cy="672.60" r="3.1" fill="#d4d4d4" stroke="#000" stroke-width="1.15"/>
<line x1="957.20" y1="636.80" x2="957.20" y2="672.60" stroke="#000" stroke-width="2.5" stroke-linecap="butt"/>
<line x1="955.00" y1="636.80" x2="959.40" y2="636.80" stroke="#000" stroke-width="2.0" stroke-linecap="butt"/>
<line x1="955.00" y1="672.60" x2="959.40" y2="672.60" stroke="#000" stroke-width="2.0" stroke-linecap="butt"/>
<circle cx="981.60" cy="643.90" r="3.1" fill="#d4d4d4" stroke="#000" stroke-width="1.15"/>
<circle cx="981.60" cy="657.70" r="3.1" fill="#d4d4d4" stroke="#000" stroke-width="1.15"/>
<circle cx="981.60" cy="662.90" r="3.1" fill="#d4d4d4" stroke="#000" stroke-width="1.15"/>
<circle cx="981.60" cy="692.80" r="3.1" fill="#d4d4d4" stroke="#000" stroke-width="1.15"/>
<line x1="981.60" y1="646.40" x2="981.60" y2="677.00" stroke="#000" stroke-width="2.5" stroke-linecap="butt"/>
<line x1="979.40" y1="646.40" x2="983.80" y2="646.40" stroke="#000" stroke-width="2.0" stroke-linecap="butt"/>
<line x1="979.40" y1="677.00" x2="983.80" y2="677.00" stroke="#000" stroke-width="2.0" stroke-linecap="butt"/>
<circle cx="1020.50" cy="573.20" r="3.1" fill="#d4d4d4" stroke="#000" stroke-width="1.15"/>
<circle cx="1024.60" cy="571.70" r="3.1" fill="#d4d4d4" stroke="#000" stroke-width="1.15"/>
<circle cx="1028.60" cy="574.20" r="3.1" fill="#d4d4d4" stroke="#000" stroke-width="1.15"/>
<circle cx="1024.60" cy="589.40" r="3.1" fill="#d4d4d4" stroke="#000" stroke-width="1.15"/>
<line x1="1024.60" y1="571.00" x2="1024.60" y2="583.50" stroke="#000" stroke-width="2.5" stroke-linecap="butt"/>
<line x1="1022.40" y1="571.00" x2="1026.80" y2="571.00" stroke="#000" stroke-width="2.0" stroke-linecap="butt"/>
<line x1="1022.40" y1="583.50" x2="1026.80" y2="583.50" stroke="#000" stroke-width="2.0" stroke-linecap="butt"/>
<circle cx="1048.50" cy="557.00" r="3.1" fill="#d4d4d4" stroke="#000" stroke-width="1.15"/>
<circle cx="1042.90" cy="569.20" r="3.1" fill="#d4d4d4" stroke="#000" stroke-width="1.15"/>
<circle cx="1048.50" cy="570.20" r="3.1" fill="#d4d4d4" stroke="#000" stroke-width="1.15"/>
<circle cx="1054.40" cy="571.00" r="3.1" fill="#d4d4d4" stroke="#000" stroke-width="1.15"/>
<line x1="1048.50" y1="557.00" x2="1048.50" y2="569.50" stroke="#000" stroke-width="2.5" stroke-linecap="butt"/>
<line x1="1046.30" y1="557.00" x2="1050.70" y2="557.00" stroke="#000" stroke-width="2.0" stroke-linecap="butt"/>
<line x1="1046.30" y1="569.50" x2="1050.70" y2="569.50" stroke="#000" stroke-width="2.0" stroke-linecap="butt"/>
<circle cx="1072.60" cy="649.10" r="3.1" fill="#d4d4d4" stroke="#000" stroke-width="1.15"/>
<circle cx="1072.60" cy="660.20" r="3.1" fill="#d4d4d4" stroke="#000" stroke-width="1.15"/>
<circle cx="1072.60" cy="663.20" r="3.1" fill="#d4d4d4" stroke="#000" stroke-width="1.15"/>
<circle cx="1072.60" cy="669.80" r="3.1" fill="#d4d4d4" stroke="#000" stroke-width="1.15"/>
<line x1="1072.60" y1="649.10" x2="1072.60" y2="666.80" stroke="#000" stroke-width="2.5" stroke-linecap="butt"/>
<line x1="1070.40" y1="649.10" x2="1074.80" y2="649.10" stroke="#000" stroke-width="2.0" stroke-linecap="butt"/>
<line x1="1070.40" y1="666.80" x2="1074.80" y2="666.80" stroke="#000" stroke-width="2.0" stroke-linecap="butt"/>
<circle cx="1092.80" cy="614.50" r="3.1" fill="#d4d4d4" stroke="#000" stroke-width="1.15"/>
<circle cx="1096.40" cy="618.20" r="3.1" fill="#d4d4d4" stroke="#000" stroke-width="1.15"/>
<circle cx="1100.60" cy="615.20" r="3.1" fill="#d4d4d4" stroke="#000" stroke-width="1.15"/>
<circle cx="1096.40" cy="680.40" r="3.1" fill="#d4d4d4" stroke="#000" stroke-width="1.15"/>
<line x1="1096.40" y1="615.20" x2="1096.40" y2="640.70" stroke="#000" stroke-width="2.5" stroke-linecap="butt"/>
<line x1="1094.20" y1="615.20" x2="1098.60" y2="615.20" stroke="#000" stroke-width="2.0" stroke-linecap="butt"/>
<line x1="1094.20" y1="640.70" x2="1098.60" y2="640.70" stroke="#000" stroke-width="2.0" stroke-linecap="butt"/>
<circle cx="1120.50" cy="630.00" r="3.1" fill="#d4d4d4" stroke="#000" stroke-width="1.15"/>
<circle cx="1120.50" cy="634.40" r="3.1" fill="#d4d4d4" stroke="#000" stroke-width="1.15"/>
<circle cx="1120.50" cy="652.10" r="3.1" fill="#d4d4d4" stroke="#000" stroke-width="1.15"/>
<circle cx="1120.50" cy="658.70" r="3.1" fill="#d4d4d4" stroke="#000" stroke-width="1.15"/>
<line x1="1120.50" y1="630.00" x2="1120.50" y2="652.10" stroke="#000" stroke-width="2.5" stroke-linecap="butt"/>
<line x1="1118.30" y1="630.00" x2="1122.70" y2="630.00" stroke="#000" stroke-width="2.0" stroke-linecap="butt"/>
<line x1="1118.30" y1="652.10" x2="1122.70" y2="652.10" stroke="#000" stroke-width="2.0" stroke-linecap="butt"/>
<circle cx="1144.40" cy="597.50" r="3.1" fill="#d4d4d4" stroke="#000" stroke-width="1.15"/>
<circle cx="1144.40" cy="600.50" r="3.1" fill="#d4d4d4" stroke="#000" stroke-width="1.15"/>
<circle cx="1144.40" cy="606.70" r="3.1" fill="#d4d4d4" stroke="#000" stroke-width="1.15"/>
<circle cx="1144.40" cy="663.20" r="3.1" fill="#d4d4d4" stroke="#000" stroke-width="1.15"/>
<line x1="1144.40" y1="597.50" x2="1144.40" y2="625.50" stroke="#000" stroke-width="2.5" stroke-linecap="butt"/>
<line x1="1142.20" y1="597.50" x2="1146.60" y2="597.50" stroke="#000" stroke-width="2.0" stroke-linecap="butt"/>
<line x1="1142.20" y1="625.50" x2="1146.60" y2="625.50" stroke="#000" stroke-width="2.0" stroke-linecap="butt"/>
<circle cx="1168.40" cy="582.80" r="3.1" fill="#d4d4d4" stroke="#000" stroke-width="1.15"/>
<circle cx="1168.40" cy="593.80" r="3.1" fill="#d4d4d4" stroke="#000" stroke-width="1.15"/>
<circle cx="1168.40" cy="605.60" r="3.1" fill="#d4d4d4" stroke="#000" stroke-width="1.15"/>
<circle cx="1168.40" cy="618.50" r="3.1" fill="#d4d4d4" stroke="#000" stroke-width="1.15"/>
<line x1="1168.40" y1="582.80" x2="1168.40" y2="610.50" stroke="#000" stroke-width="2.5" stroke-linecap="butt"/>
<line x1="1166.20" y1="582.80" x2="1170.60" y2="582.80" stroke="#000" stroke-width="2.0" stroke-linecap="butt"/>
<line x1="1166.20" y1="610.50" x2="1170.60" y2="610.50" stroke="#000" stroke-width="2.0" stroke-linecap="butt"/>
<circle cx="1192.60" cy="771.60" r="3.1" fill="#d4d4d4" stroke="#000" stroke-width="1.15"/>
<circle cx="1192.60" cy="781.00" r="3.1" fill="#d4d4d4" stroke="#000" stroke-width="1.15"/>
<circle cx="1190.60" cy="794.30" r="3.1" fill="#d4d4d4" stroke="#000" stroke-width="1.15"/>
<circle cx="1194.60" cy="794.30" r="3.1" fill="#d4d4d4" stroke="#000" stroke-width="1.15"/>
<line x1="1192.60" y1="772.60" x2="1192.60" y2="794.00" stroke="#000" stroke-width="2.5" stroke-linecap="butt"/>
<line x1="1190.40" y1="772.60" x2="1194.80" y2="772.60" stroke="#000" stroke-width="2.0" stroke-linecap="butt"/>
<line x1="1190.40" y1="794.00" x2="1194.80" y2="794.00" stroke="#000" stroke-width="2.0" stroke-linecap="butt"/>
<circle cx="1234.10" cy="583.70" r="3.1" fill="#d4d4d4" stroke="#000" stroke-width="1.15"/>
<circle cx="1234.10" cy="590.40" r="3.1" fill="#d4d4d4" stroke="#000" stroke-width="1.15"/>
<circle cx="1234.10" cy="639.90" r="3.1" fill="#d4d4d4" stroke="#000" stroke-width="1.15"/>
<line x1="1234.10" y1="585.40" x2="1234.10" y2="613.10" stroke="#000" stroke-width="2.5" stroke-linecap="butt"/>
<line x1="1231.90" y1="585.40" x2="1236.30" y2="585.40" stroke="#000" stroke-width="2.0" stroke-linecap="butt"/>
<line x1="1231.90" y1="613.10" x2="1236.30" y2="613.10" stroke="#000" stroke-width="2.0" stroke-linecap="butt"/>
<circle cx="1257.80" cy="690.70" r="3.1" fill="#d4d4d4" stroke="#000" stroke-width="1.15"/>
<circle cx="1257.80" cy="707.40" r="3.1" fill="#d4d4d4" stroke="#000" stroke-width="1.15"/>
<circle cx="1257.80" cy="729.10" r="3.1" fill="#d4d4d4" stroke="#000" stroke-width="1.15"/>
<circle cx="1257.80" cy="733.50" r="3.1" fill="#d4d4d4" stroke="#000" stroke-width="1.15"/>
<line x1="1257.80" y1="694.00" x2="1257.80" y2="730.80" stroke="#000" stroke-width="2.5" stroke-linecap="butt"/>
<line x1="1255.60" y1="694.00" x2="1260.00" y2="694.00" stroke="#000" stroke-width="2.0" stroke-linecap="butt"/>
<line x1="1255.60" y1="730.80" x2="1260.00" y2="730.80" stroke="#000" stroke-width="2.0" stroke-linecap="butt"/>
<circle cx="1281.90" cy="578.70" r="3.1" fill="#d4d4d4" stroke="#000" stroke-width="1.15"/>
<circle cx="1281.90" cy="589.70" r="3.1" fill="#d4d4d4" stroke="#000" stroke-width="1.15"/>
<circle cx="1281.90" cy="597.70" r="3.1" fill="#d4d4d4" stroke="#000" stroke-width="1.15"/>
<circle cx="1281.90" cy="647.20" r="3.1" fill="#d4d4d4" stroke="#000" stroke-width="1.15"/>
<line x1="1281.90" y1="583.70" x2="1281.90" y2="614.50" stroke="#000" stroke-width="2.5" stroke-linecap="butt"/>
<line x1="1279.70" y1="583.70" x2="1284.10" y2="583.70" stroke="#000" stroke-width="2.0" stroke-linecap="butt"/>
<line x1="1279.70" y1="614.50" x2="1284.10" y2="614.50" stroke="#000" stroke-width="2.0" stroke-linecap="butt"/>
<circle cx="1305.90" cy="588.70" r="3.1" fill="#d4d4d4" stroke="#000" stroke-width="1.15"/>
<circle cx="1305.90" cy="600.40" r="3.1" fill="#d4d4d4" stroke="#000" stroke-width="1.15"/>
<circle cx="1305.90" cy="603.10" r="3.1" fill="#d4d4d4" stroke="#000" stroke-width="1.15"/>
<circle cx="1305.90" cy="623.20" r="3.1" fill="#d4d4d4" stroke="#000" stroke-width="1.15"/>
<line x1="1305.90" y1="590.40" x2="1305.90" y2="613.80" stroke="#000" stroke-width="2.5" stroke-linecap="butt"/>
<line x1="1303.70" y1="590.40" x2="1308.10" y2="590.40" stroke="#000" stroke-width="2.0" stroke-linecap="butt"/>
<line x1="1303.70" y1="613.80" x2="1308.10" y2="613.80" stroke="#000" stroke-width="2.0" stroke-linecap="butt"/>
<circle cx="1329.70" cy="609.80" r="3.1" fill="#d4d4d4" stroke="#000" stroke-width="1.15"/>
<circle cx="1329.70" cy="622.20" r="3.1" fill="#d4d4d4" stroke="#000" stroke-width="1.15"/>
<circle cx="1329.70" cy="627.20" r="3.1" fill="#d4d4d4" stroke="#000" stroke-width="1.15"/>
<circle cx="1329.70" cy="633.90" r="3.1" fill="#d4d4d4" stroke="#000" stroke-width="1.15"/>
<circle cx="1329.70" cy="644.60" r="3.1" fill="#d4d4d4" stroke="#000" stroke-width="1.15"/>
<line x1="1329.70" y1="612.10" x2="1329.70" y2="636.50" stroke="#000" stroke-width="2.5" stroke-linecap="butt"/>
<line x1="1327.50" y1="612.10" x2="1331.90" y2="612.10" stroke="#000" stroke-width="2.0" stroke-linecap="butt"/>
<line x1="1327.50" y1="636.50" x2="1331.90" y2="636.50" stroke="#000" stroke-width="2.0" stroke-linecap="butt"/>
<circle cx="1353.80" cy="540.20" r="3.1" fill="#d4d4d4" stroke="#000" stroke-width="1.15"/>
<circle cx="1353.80" cy="582.00" r="3.1" fill="#d4d4d4" stroke="#000" stroke-width="1.15"/>
<circle cx="1353.80" cy="599.80" r="3.1" fill="#d4d4d4" stroke="#000" stroke-width="1.15"/>
<circle cx="1353.80" cy="614.80" r="3.1" fill="#d4d4d4" stroke="#000" stroke-width="1.15"/>
<line x1="1353.80" y1="545.30" x2="1353.80" y2="605.40" stroke="#000" stroke-width="2.5" stroke-linecap="butt"/>
<line x1="1351.60" y1="545.30" x2="1356.00" y2="545.30" stroke="#000" stroke-width="2.0" stroke-linecap="butt"/>
<line x1="1351.60" y1="605.40" x2="1356.00" y2="605.40" stroke="#000" stroke-width="2.0" stroke-linecap="butt"/>
<circle cx="1377.80" cy="754.90" r="3.1" fill="#d4d4d4" stroke="#000" stroke-width="1.15"/>
<circle cx="1377.80" cy="771.60" r="3.1" fill="#d4d4d4" stroke="#000" stroke-width="1.15"/>
<circle cx="1377.80" cy="780.30" r="3.1" fill="#d4d4d4" stroke="#000" stroke-width="1.15"/>
<line x1="1377.80" y1="758.60" x2="1377.80" y2="774.30" stroke="#000" stroke-width="2.5" stroke-linecap="butt"/>
<line x1="1375.60" y1="758.60" x2="1380.00" y2="758.60" stroke="#000" stroke-width="2.0" stroke-linecap="butt"/>
<line x1="1375.60" y1="774.30" x2="1380.00" y2="774.30" stroke="#000" stroke-width="2.0" stroke-linecap="butt"/>
<circle cx="1402.20" cy="542.90" r="3.1" fill="#d4d4d4" stroke="#000" stroke-width="1.15"/>
<circle cx="1402.20" cy="570.30" r="3.1" fill="#d4d4d4" stroke="#000" stroke-width="1.15"/>
<circle cx="1397.90" cy="575.30" r="3.1" fill="#d4d4d4" stroke="#000" stroke-width="1.15"/>
<circle cx="1406.30" cy="575.30" r="3.1" fill="#d4d4d4" stroke="#000" stroke-width="1.15"/>
<circle cx="1402.20" cy="580.40" r="3.1" fill="#d4d4d4" stroke="#000" stroke-width="1.15"/>
<circle cx="1397.90" cy="583.70" r="3.1" fill="#d4d4d4" stroke="#000" stroke-width="1.15"/>
<circle cx="1406.30" cy="583.70" r="3.1" fill="#d4d4d4" stroke="#000" stroke-width="1.15"/>
<circle cx="1402.20" cy="592.10" r="3.1" fill="#d4d4d4" stroke="#000" stroke-width="1.15"/>
<circle cx="1397.90" cy="592.10" r="3.1" fill="#d4d4d4" stroke="#000" stroke-width="1.15"/>
<circle cx="1406.30" cy="592.10" r="3.1" fill="#d4d4d4" stroke="#000" stroke-width="1.15"/>
<line x1="1402.20" y1="562.00" x2="1402.20" y2="590.40" stroke="#000" stroke-width="2.5" stroke-linecap="butt"/>
<line x1="1400.00" y1="562.00" x2="1404.40" y2="562.00" stroke="#000" stroke-width="2.0" stroke-linecap="butt"/>
<line x1="1400.00" y1="590.40" x2="1404.40" y2="590.40" stroke="#000" stroke-width="2.0" stroke-linecap="butt"/>
</svg>
</body></html>
